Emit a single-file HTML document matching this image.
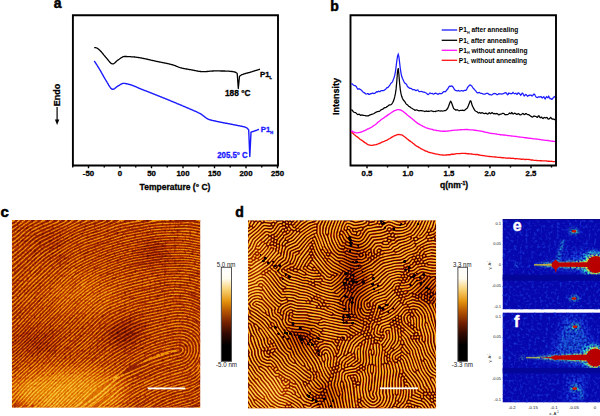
<!DOCTYPE html>
<html><head><meta charset="utf-8">
<style>
html,body{margin:0;padding:0;background:#fff;width:600px;height:416px;overflow:hidden}
body>svg{display:block;position:absolute;left:0;top:0}
text{font-family:"Liberation Sans",sans-serif}
.b{font-weight:bold}
.k{stroke:currentColor;stroke-width:0.3px}
</style></head><body>
<svg width="600" height="416" viewBox="0 0 600 416">
<defs>
<filter id="softC" x="-2%" y="-2%" width="104%" height="104%"><feGaussianBlur stdDeviation="0.6"/></filter>
<filter id="softD" x="-2%" y="-2%" width="104%" height="104%"><feGaussianBlur stdDeviation="0.7"/></filter>
<filter id="bigblur" x="-50%" y="-50%" width="200%" height="200%"><feGaussianBlur stdDeviation="9"/></filter>
<filter id="speck" x="0" y="0" width="100%" height="100%" color-interpolation-filters="sRGB">
  <feTurbulence type="fractalNoise" baseFrequency="0.35" numOctaves="2" seed="3"/>
  <feColorMatrix type="matrix" values="0 0 0 0 0.08  0 0 0 0 0.2  0 0 0 0 0.84  3 0 0 0 -1.55"/>
</filter>
<filter id="cmap" x="0" y="0" width="100%" height="100%" color-interpolation-filters="sRGB">
<feComponentTransfer>
<feFuncR type="table" tableValues="0.000 0.000 0.000 0.000 0.000 0.000 0.027 0.076 0.125 0.175 0.247 0.329 0.410 0.492 0.563 0.633 0.702 0.770 0.813 0.855 0.897 0.925 0.939 0.954 0.968 0.977 0.985 0.992 0.999 1.000 1.000 1.000 1.000"/>
<feFuncG type="table" tableValues="0.000 0.000 0.000 0.000 0.000 0.000 0.000 0.000 0.000 0.000 0.018 0.042 0.067 0.091 0.130 0.171 0.212 0.254 0.339 0.424 0.508 0.581 0.642 0.703 0.765 0.818 0.867 0.916 0.965 0.979 0.986 0.993 1.000"/>
<feFuncB type="table" tableValues="0.000 0.000 0.000 0.000 0.000 0.000 0.000 0.000 0.000 0.000 0.000 0.000 0.000 0.000 0.000 0.000 0.000 0.000 0.000 0.000 0.000 0.034 0.099 0.165 0.230 0.362 0.525 0.689 0.852 0.905 0.937 0.968 1.000"/>
</feComponentTransfer>
</filter>
<filter id="mottle" x="0" y="0" width="100%" height="100%" color-interpolation-filters="sRGB">
  <feTurbulence type="fractalNoise" baseFrequency="0.4" numOctaves="2" seed="51"/>
  <feColorMatrix type="matrix" values="0 0 0 0 0.2  0 0 0 0 0.2  0 0 0 0 0.2  3 0 0 0 -1.4"/>
  <feGaussianBlur stdDeviation="0.5"/>
</filter>
<filter id="haloA" x="-30%" y="-30%" width="160%" height="160%" color-interpolation-filters="sRGB">
  <feGaussianBlur in="SourceGraphic" stdDeviation="3" result="b"/>
  <feTurbulence type="fractalNoise" baseFrequency="0.45" numOctaves="1" seed="17" result="n"/>
  <feColorMatrix in="n" type="matrix" values="0 0 0 0 1  0 0 0 0 1  0 0 0 0 1  4 0 0 0 -1.6" result="na"/>
  <feComposite in="b" in2="na" operator="in"/>
</filter>
<filter id="haloB" x="-30%" y="-30%" width="160%" height="160%" color-interpolation-filters="sRGB">
  <feGaussianBlur in="SourceGraphic" stdDeviation="1.5" result="b"/>
  <feTurbulence type="fractalNoise" baseFrequency="0.5" numOctaves="1" seed="29" result="n"/>
  <feColorMatrix in="n" type="matrix" values="0 0 0 0 1  0 0 0 0 1  0 0 0 0 1  4 0 0 0 -1.5" result="na"/>
  <feComposite in="b" in2="na" operator="in"/>
</filter>
<filter id="haloC" x="-30%" y="-30%" width="160%" height="160%" color-interpolation-filters="sRGB">
  <feGaussianBlur in="SourceGraphic" stdDeviation="0.8" result="b"/>
  <feTurbulence type="fractalNoise" baseFrequency="0.6" numOctaves="1" seed="41" result="n"/>
  <feColorMatrix in="n" type="matrix" values="0 0 0 0 1  0 0 0 0 1  0 0 0 0 1  4 0 0 0 -1.2" result="na"/>
  <feComposite in="b" in2="na" operator="in"/>
</filter>
<filter id="blur05" x="-20%" y="-200%" width="140%" height="500%"><feGaussianBlur stdDeviation="0.6"/></filter>
<filter id="blur1" x="-20%" y="-50%" width="140%" height="200%"><feGaussianBlur stdDeviation="1"/></filter>
<filter id="blur2" x="-50%" y="-50%" width="200%" height="200%"><feGaussianBlur stdDeviation="2.5"/></filter>
<linearGradient id="cbar" x1="0" y1="0" x2="0" y2="1">
  <stop offset="0" stop-color="#ffffff"/>
  <stop offset="0.12" stop-color="#fffcf0"/>
  <stop offset="0.24" stop-color="#f8d070"/>
  <stop offset="0.36" stop-color="#e49410"/>
  <stop offset="0.47" stop-color="#b45400"/>
  <stop offset="0.59" stop-color="#742000"/>
  <stop offset="0.71" stop-color="#300800"/>
  <stop offset="0.83" stop-color="#000000"/>
  <stop offset="1" stop-color="#000000"/>
</linearGradient>
</defs>

<!-- panel labels -->
<g class="b" font-size="14" fill="#000" stroke="#000" stroke-width="0.5">
<text x="53.7" y="8.4">a</text>
<text x="330.2" y="10.7">b</text>
<text x="0.6" y="217.2" font-size="15">c</text>
<text x="235.2" y="217.3">d</text>
</g>

<!-- chart a -->
<g fill="none" stroke="#000">
<path d="M72.9 15.2H278V165.5H72.9Z" stroke-width="1.9"/>
<path d="M88.50 165.5V168.2M120.00 165.5V168.2M151.50 165.5V168.2M183.00 165.5V168.2M214.50 165.5V168.2M246.00 165.5V168.2M277.50 165.5V168.2M72.75 165.5V167.6M104.25 165.5V167.6M135.75 165.5V167.6M167.25 165.5V167.6M198.75 165.5V167.6M230.25 165.5V167.6M261.75 165.5V167.6" stroke-width="1.4"/>
<path d="M94.2 47.6 L94.7 47.6 L95.2 47.7 L95.7 47.7 L96.2 47.8 L96.7 48.0 L97.2 48.2 L97.7 48.5 L98.2 48.9 L98.7 49.3 L99.2 49.8 L99.7 50.2 L100.2 50.7 L100.7 51.2 L101.2 51.7 L101.7 52.3 L102.2 52.9 L102.7 53.5 L103.2 54.1 L103.7 54.8 L104.2 55.4 L104.7 56.0 L105.2 56.6 L105.7 57.2 L106.2 57.7 L106.7 58.3 L107.2 58.9 L107.7 59.5 L108.2 60.2 L108.7 60.8 L109.2 61.4 L109.7 62.0 L110.2 62.5 L110.7 63.0 L111.2 63.4 L111.7 63.6 L112.2 63.8 L112.7 63.9 L113.2 63.8 L113.7 63.6 L114.2 63.3 L114.7 62.9 L115.2 62.5 L115.7 62.0 L116.2 61.5 L116.7 61.1 L117.2 60.6 L117.7 60.2 L118.2 59.9 L118.7 59.5 L119.2 59.2 L119.7 58.8 L120.2 58.5 L120.7 58.1 L121.2 57.8 L121.7 57.5 L122.2 57.2 L122.7 56.9 L123.2 56.7 L123.7 56.6 L124.2 56.5 L124.7 56.5 L125.2 56.5 L125.7 56.5 L126.2 56.5 L126.7 56.5 L127.2 56.6 L127.7 56.6 L128.2 56.6 L128.7 56.6 L129.2 56.6 L129.7 56.7 L130.2 56.7 L130.7 56.7 L131.2 56.8 L131.7 56.8 L132.2 56.8 L132.7 56.8 L133.2 56.9 L133.7 56.9 L134.2 57.0 L134.7 57.0 L135.2 57.1 L135.7 57.1 L136.2 57.2 L136.7 57.3 L137.2 57.3 L137.7 57.4 L138.2 57.5 L138.7 57.6 L139.2 57.6 L139.7 57.7 L140.2 57.8 L140.7 57.9 L141.2 58.0 L141.7 58.1 L142.2 58.2 L142.7 58.3 L143.2 58.4 L143.7 58.5 L144.2 58.6 L144.7 58.7 L145.2 58.8 L145.7 58.9 L146.2 59.0 L146.7 59.1 L147.2 59.2 L147.7 59.4 L148.2 59.5 L148.7 59.6 L149.2 59.7 L149.7 59.8 L150.2 59.9 L150.7 60.0 L151.2 60.2 L151.7 60.3 L152.2 60.4 L152.7 60.5 L153.2 60.6 L153.7 60.7 L154.2 60.8 L154.7 60.9 L155.2 61.1 L155.7 61.2 L156.2 61.3 L156.7 61.4 L157.2 61.5 L157.7 61.6 L158.2 61.7 L158.7 61.8 L159.2 61.9 L159.7 62.0 L160.2 62.1 L160.7 62.2 L161.2 62.3 L161.7 62.4 L162.2 62.5 L162.7 62.6 L163.2 62.7 L163.7 62.8 L164.2 62.9 L164.7 63.0 L165.2 63.1 L165.7 63.2 L166.2 63.3 L166.7 63.4 L167.2 63.5 L167.7 63.6 L168.2 63.7 L168.7 63.8 L169.2 64.0 L169.7 64.1 L170.2 64.2 L170.7 64.3 L171.2 64.5 L171.7 64.6 L172.2 64.7 L172.7 64.9 L173.2 65.0 L173.7 65.2 L174.2 65.3 L174.7 65.5 L175.2 65.6 L175.7 65.9 L176.2 66.1 L176.7 66.3 L177.2 66.5 L177.7 66.7 L178.2 67.0 L178.7 67.2 L179.2 67.3 L179.7 67.5 L180.2 67.7 L180.7 67.8 L181.2 67.9 L181.7 68.0 L182.2 68.2 L182.7 68.3 L183.2 68.4 L183.7 68.5 L184.2 68.6 L184.7 68.7 L185.2 68.8 L185.7 68.9 L186.2 69.0 L186.7 69.0 L187.2 69.1 L187.7 69.2 L188.2 69.3 L188.7 69.4 L189.2 69.5 L189.7 69.6 L190.2 69.6 L190.7 69.7 L191.2 69.8 L191.7 69.9 L192.2 70.0 L192.7 70.1 L193.2 70.2 L193.7 70.3 L194.2 70.4 L194.7 70.5 L195.2 70.6 L195.7 70.7 L196.2 70.8 L196.7 70.9 L197.2 71.0 L197.7 71.1 L198.2 71.2 L198.7 71.3 L199.2 71.3 L199.7 71.4 L200.2 71.5 L200.7 71.5 L201.2 71.6 L201.7 71.6 L202.2 71.7 L202.7 71.7 L203.2 71.7 L203.7 71.7 L204.2 71.7 L204.7 71.7 L205.2 71.6 L205.7 71.6 L206.2 71.6 L206.7 71.5 L207.2 71.5 L207.7 71.4 L208.2 71.4 L208.7 71.3 L209.2 71.3 L209.7 71.2 L210.2 71.2 L210.7 71.1 L211.2 71.1 L211.7 71.1 L212.2 71.0 L212.7 71.0 L213.2 71.0 L213.7 70.9 L214.2 70.9 L214.7 70.9 L215.2 70.9 L215.7 70.9 L216.2 70.9 L216.7 70.9 L217.2 70.9 L217.7 70.9 L218.2 70.9 L218.7 70.9 L219.2 70.9 L219.7 70.9 L220.2 70.9 L220.7 71.0 L221.2 71.0 L221.7 71.0 L222.2 71.0 L222.7 71.0 L223.2 71.0 L223.7 71.0 L224.2 71.0 L224.7 71.0 L225.2 71.1 L225.7 71.1 L226.2 71.1 L226.7 71.1 L227.2 71.1 L227.7 71.1 L228.2 71.2 L228.7 71.2 L229.2 71.2 L229.7 71.3 L230.2 71.3 L230.7 71.4 L231.2 71.4 L231.7 71.5 L232.2 71.5 L232.7 71.6 L233.2 71.7 L233.7 71.8 L234.2 71.9 L234.7 72.0 L235.2 72.1 L235.7 72.4 L236.2 72.7 L236.7 73.0 L237.2 73.4 L238.3 88.5 L239.5 76.3 L240.0 75.9 L240.5 75.5 L241.0 75.2 L241.5 74.9 L242.0 74.7 L242.5 74.5 L243.0 74.3 L243.5 74.1 L244.0 73.9 L244.5 73.8 L245.0 73.6 L245.5 73.5 L246.0 73.4 L246.5 73.2 L247.0 73.1 L247.5 73.0 L248.0 72.9 L248.5 72.7 L249.0 72.6 L249.5 72.5 L250.0 72.3 L250.5 72.1 L251.0 72.0 L251.5 71.8 L252.0 71.7 L252.5 71.5 L253.0 71.4 L253.5 71.2 L254.0 71.1 L254.5 70.9 L255.0 70.7 L255.5 70.6 L256.0 70.4 L256.5 70.3 L257.0 70.1 L257.5 70.0 L258.0 69.8 L258.5 69.7 L259.0 69.5 L259.5 69.4 L260.0 69.2" stroke-width="1.3" stroke-linejoin="round"/>
<path d="M94.2 61.0 L94.7 61.7 L95.2 62.5 L95.7 63.2 L96.2 64.0 L96.7 64.7 L97.2 65.5 L97.7 66.3 L98.2 67.1 L98.7 67.9 L99.2 68.7 L99.7 69.5 L100.2 70.3 L100.7 71.2 L101.2 72.1 L101.7 73.0 L102.2 73.9 L102.7 74.8 L103.2 75.7 L103.7 76.6 L104.2 77.5 L104.7 78.4 L105.2 79.2 L105.7 80.0 L106.2 80.8 L106.7 81.6 L107.2 82.5 L107.7 83.3 L108.2 84.2 L108.7 85.1 L109.2 85.9 L109.7 86.7 L110.2 87.4 L110.7 88.0 L111.2 88.6 L111.7 89.0 L112.2 89.2 L112.7 89.3 L113.2 89.2 L113.7 89.1 L114.2 88.8 L114.7 88.5 L115.2 88.1 L115.7 87.7 L116.2 87.3 L116.7 86.9 L117.2 86.5 L117.7 86.2 L118.2 85.9 L118.7 85.6 L119.2 85.3 L119.7 85.0 L120.2 84.7 L120.7 84.4 L121.2 84.1 L121.7 83.9 L122.2 83.7 L122.7 83.5 L123.2 83.4 L123.7 83.4 L124.2 83.4 L124.7 83.4 L125.2 83.5 L125.7 83.6 L126.2 83.7 L126.7 83.8 L127.2 83.9 L127.7 84.0 L128.2 84.1 L128.7 84.3 L129.2 84.4 L129.7 84.5 L130.2 84.7 L130.7 84.8 L131.2 84.9 L131.7 85.1 L132.2 85.3 L132.7 85.5 L133.2 85.7 L133.7 85.9 L134.2 86.1 L134.7 86.3 L135.2 86.5 L135.7 86.7 L136.2 86.9 L136.7 87.2 L137.2 87.4 L137.7 87.6 L138.2 87.8 L138.7 88.0 L139.2 88.3 L139.7 88.5 L140.2 88.7 L140.7 88.9 L141.2 89.1 L141.7 89.3 L142.2 89.5 L142.7 89.7 L143.2 89.9 L143.7 90.1 L144.2 90.3 L144.7 90.5 L145.2 90.7 L145.7 90.9 L146.2 91.0 L146.7 91.2 L147.2 91.4 L147.7 91.6 L148.2 91.8 L148.7 92.0 L149.2 92.2 L149.7 92.4 L150.2 92.6 L150.7 92.8 L151.2 93.0 L151.7 93.2 L152.2 93.4 L152.7 93.6 L153.2 93.8 L153.7 94.0 L154.2 94.2 L154.7 94.4 L155.2 94.6 L155.7 94.8 L156.2 95.0 L156.7 95.2 L157.2 95.4 L157.7 95.6 L158.2 95.8 L158.7 96.0 L159.2 96.2 L159.7 96.4 L160.2 96.6 L160.7 96.8 L161.2 97.0 L161.7 97.2 L162.2 97.4 L162.7 97.6 L163.2 97.8 L163.7 98.0 L164.2 98.2 L164.7 98.4 L165.2 98.6 L165.7 98.8 L166.2 99.0 L166.7 99.2 L167.2 99.4 L167.7 99.6 L168.2 99.8 L168.7 100.0 L169.2 100.2 L169.7 100.4 L170.2 100.7 L170.7 100.9 L171.2 101.1 L171.7 101.3 L172.2 101.5 L172.7 101.7 L173.2 101.9 L173.7 102.1 L174.2 102.3 L174.7 102.5 L175.2 102.7 L175.7 102.9 L176.2 103.1 L176.7 103.3 L177.2 103.6 L177.7 103.8 L178.2 104.0 L178.7 104.2 L179.2 104.4 L179.7 104.6 L180.2 104.8 L180.7 105.0 L181.2 105.2 L181.7 105.4 L182.2 105.7 L182.7 105.9 L183.2 106.1 L183.7 106.3 L184.2 106.5 L184.7 106.7 L185.2 106.9 L185.7 107.1 L186.2 107.4 L186.7 107.6 L187.2 107.8 L187.7 108.0 L188.2 108.2 L188.7 108.4 L189.2 108.7 L189.7 108.9 L190.2 109.1 L190.7 109.3 L191.2 109.5 L191.7 109.7 L192.2 109.9 L192.7 110.1 L193.2 110.3 L193.7 110.6 L194.2 110.8 L194.7 111.0 L195.2 111.2 L195.7 111.4 L196.2 111.6 L196.7 111.9 L197.2 112.1 L197.7 112.3 L198.2 112.6 L198.7 112.8 L199.2 113.1 L199.7 113.3 L200.2 113.6 L200.7 113.9 L201.2 114.2 L201.7 114.6 L202.2 114.9 L202.7 115.3 L203.2 115.7 L203.7 116.1 L204.2 116.5 L204.7 116.9 L205.2 117.2 L205.7 117.6 L206.2 118.0 L206.7 118.3 L207.2 118.6 L207.7 118.9 L208.2 119.2 L208.7 119.4 L209.2 119.6 L209.7 119.7 L210.2 119.9 L210.7 120.0 L211.2 120.2 L211.7 120.3 L212.2 120.4 L212.7 120.5 L213.2 120.6 L213.7 120.7 L214.2 120.8 L214.7 120.9 L215.2 121.0 L215.7 121.2 L216.2 121.3 L216.7 121.4 L217.2 121.5 L217.7 121.6 L218.2 121.7 L218.7 121.8 L219.2 121.9 L219.7 122.0 L220.2 122.1 L220.7 122.2 L221.2 122.3 L221.7 122.4 L222.2 122.5 L222.7 122.6 L223.2 122.7 L223.7 122.8 L224.2 122.9 L224.7 123.0 L225.2 123.1 L225.7 123.2 L226.2 123.3 L226.7 123.3 L227.2 123.4 L227.7 123.5 L228.2 123.6 L228.7 123.7 L229.2 123.8 L229.7 123.9 L230.2 124.0 L230.7 124.1 L231.2 124.2 L231.7 124.3 L232.2 124.4 L232.7 124.5 L233.2 124.6 L233.7 124.7 L234.2 124.8 L234.7 124.9 L235.2 125.0 L235.7 125.1 L236.2 125.2 L236.7 125.3 L237.2 125.4 L237.7 125.5 L238.2 125.6 L238.7 125.7 L239.2 125.8 L239.7 125.9 L240.2 126.0 L240.7 126.1 L241.2 126.2 L241.7 126.3 L242.2 126.4 L242.7 126.5 L243.2 126.6 L243.7 126.7 L244.2 126.9 L244.7 127.0 L245.2 127.2 L245.7 127.4 L246.2 127.6 L246.7 127.8 L247.2 128.2 L247.7 128.8 L248.2 129.4 L248.7 130.0 L249.8 156.5 L251.0 132.2 L251.5 132.0 L252.0 131.9 L252.5 131.7 L253.0 131.5 L253.5 131.4 L254.0 131.2 L254.5 131.0 L255.0 130.8 L255.5 130.7 L256.0 130.5 L256.5 130.3 L257.0 130.1 L257.5 129.9 L258.0 129.7 L258.5 129.5 L259.0 129.3" stroke="#1a1aff" stroke-width="1.4" stroke-linejoin="round"/>
<path d="M57.1 107V121" stroke-width="1.2"/>
</g>
<path d="M54.9 119.5L57.1 125L59.3 119.5Z" fill="#000"/>
<g class="b k" font-size="7.8" text-anchor="middle" fill="#000" color="#000"><text x="88.50" y="176">-50</text><text x="120.00" y="176">0</text><text x="151.50" y="176">50</text><text x="183.00" y="176">100</text><text x="214.50" y="176">150</text><text x="246.00" y="176">200</text><text x="277.50" y="176">250</text></g>
<text class="b k" color="#000" x="175" y="190.4" font-size="8.5" text-anchor="middle">Temperature (° C)</text>
<text class="b k" color="#000" font-size="9" text-anchor="middle" transform="translate(59.9 95.1) rotate(-90)">Endo</text>
<text class="b k" color="#000" x="260" y="76.5" font-size="7.8">P1<tspan font-size="4" dy="2.6">L</tspan></text>
<text class="b k" color="#000" x="225" y="96" font-size="8.3">188 °C</text>
<g fill="#1a1aff" color="#1a1aff">
<text class="b k" x="260.7" y="131.5" font-size="7.8">P1<tspan font-size="4" dy="2.6">H</tspan></text>
<text class="b k" x="217.2" y="157.7" font-size="8.3" textLength="30.6" lengthAdjust="spacingAndGlyphs">205.5° C</text>
</g>

<!-- chart b -->
<g fill="none" stroke="#000">
<path d="M350.5 15.2H556V165.5H350.5Z" stroke-width="1.9"/>
<path d="M367.00 165.5V168.2M408.00 165.5V168.2M449.00 165.5V168.2M490.00 165.5V168.2M531.00 165.5V168.2M387.50 165.5V167.6M428.50 165.5V167.6M469.50 165.5V167.6M510.50 165.5V167.6M551.50 165.5V167.6" stroke-width="1.4"/>
<path d="M351.3 131.8 L352.0 132.4 L352.7 133.1 L353.4 133.8 L354.1 134.5 L354.8 135.0 L355.5 135.6 L356.2 136.2 L356.9 136.7 L357.6 137.1 L358.3 137.7 L359.0 138.3 L359.7 138.9 L360.4 139.5 L361.1 139.9 L361.8 140.3 L362.5 140.8 L363.2 141.4 L363.9 141.9 L364.6 142.4 L365.3 142.9 L366.0 143.2 L366.7 143.7 L367.4 144.3 L368.1 144.6 L368.8 144.8 L369.5 145.1 L370.2 145.2 L370.9 145.3 L371.6 145.4 L372.3 145.3 L373.0 145.2 L373.7 145.0 L374.4 144.9 L375.1 144.8 L375.8 144.7 L376.5 144.5 L377.2 144.3 L377.9 144.0 L378.6 143.7 L379.3 143.5 L380.0 143.2 L380.7 142.8 L381.4 142.4 L382.1 142.1 L382.8 141.8 L383.5 141.6 L384.2 141.4 L384.9 141.0 L385.6 140.6 L386.3 140.4 L387.0 140.1 L387.7 139.7 L388.4 139.2 L389.1 138.8 L389.8 138.5 L390.5 138.1 L391.2 137.6 L391.9 137.2 L392.6 136.8 L393.3 136.4 L394.0 136.0 L394.7 135.7 L395.4 135.5 L396.1 135.2 L396.8 134.8 L397.5 134.6 L398.2 134.5 L398.9 134.5 L399.6 134.6 L400.3 134.6 L401.0 134.8 L401.7 134.9 L402.4 135.2 L403.1 135.7 L403.8 136.2 L404.5 136.7 L405.2 137.2 L405.9 137.8 L406.6 138.5 L407.3 139.0 L408.0 139.5 L408.7 140.1 L409.4 140.6 L410.1 141.1 L410.8 141.6 L411.5 142.0 L412.2 142.5 L412.9 143.2 L413.6 143.7 L414.3 144.3 L415.0 144.9 L415.7 145.5 L416.4 145.9 L417.1 146.4 L417.8 146.7 L418.5 147.1 L419.2 147.6 L419.9 148.0 L420.6 148.4 L421.3 148.8 L422.0 149.1 L422.7 149.5 L423.4 149.9 L424.1 150.2 L424.8 150.7 L425.5 151.0 L426.2 151.2 L426.9 151.4 L427.6 151.7 L428.3 152.1 L429.0 152.4 L429.7 152.5 L430.4 152.6 L431.1 152.8 L431.8 152.9 L432.5 153.1 L433.2 153.3 L433.9 153.5 L434.6 153.7 L435.3 153.8 L436.0 154.0 L436.7 154.1 L437.4 154.2 L438.1 154.3 L438.8 154.6 L439.5 154.7 L440.2 154.8 L440.9 154.9 L441.6 154.9 L442.3 155.0 L443.0 155.0 L443.7 155.1 L444.4 155.1 L445.1 155.1 L445.8 155.0 L446.5 155.0 L447.2 154.8 L447.9 154.7 L448.6 154.7 L449.3 154.7 L450.0 154.7 L450.7 154.5 L451.4 154.2 L452.1 154.2 L452.8 154.2 L453.5 154.2 L454.2 154.1 L454.9 154.0 L455.6 153.9 L456.3 153.7 L457.0 153.6 L457.7 153.6 L458.4 153.6 L459.1 153.6 L459.8 153.6 L460.5 153.5 L461.2 153.3 L461.9 153.3 L462.6 153.3 L463.3 153.3 L464.0 153.3 L464.7 153.4 L465.4 153.5 L466.1 153.5 L466.8 153.6 L467.5 153.7 L468.2 153.7 L468.9 153.6 L469.6 153.8 L470.3 153.9 L471.0 154.0 L471.7 154.0 L472.4 154.1 L473.1 154.3 L473.8 154.4 L474.5 154.4 L475.2 154.5 L475.9 154.6 L476.6 154.5 L477.3 154.4 L478.0 154.6 L478.7 155.0 L479.4 155.0 L480.1 155.1 L480.8 155.3 L481.5 155.4 L482.2 155.5 L482.9 155.6 L483.6 155.6 L484.3 155.7 L485.0 155.9 L485.7 156.1 L486.4 156.1 L487.1 156.2 L487.8 156.3 L488.5 156.4 L489.2 156.5 L489.9 156.5 L490.6 156.6 L491.3 156.6 L492.0 156.7 L492.7 156.8 L493.4 156.9 L494.1 156.9 L494.8 157.0 L495.5 157.0 L496.2 157.1 L496.9 157.2 L497.6 157.3 L498.3 157.4 L499.0 157.4 L499.7 157.4 L500.4 157.5 L501.1 157.5 L501.8 157.6 L502.5 157.7 L503.2 157.7 L503.9 157.8 L504.6 157.8 L505.3 157.8 L506.0 158.0 L506.7 158.1 L507.4 158.2 L508.1 158.1 L508.8 158.0 L509.5 158.1 L510.2 158.2 L510.9 158.1 L511.6 158.3 L512.3 158.4 L513.0 158.3 L513.7 158.4 L514.4 158.6 L515.1 158.7 L515.8 158.7 L516.5 158.6 L517.2 158.6 L517.9 158.8 L518.6 158.8 L519.3 158.9 L520.0 159.0 L520.7 159.1 L521.4 159.2 L522.1 159.2 L522.8 159.1 L523.5 159.2 L524.2 159.4 L524.9 159.5 L525.6 159.5 L526.3 159.4 L527.0 159.4 L527.7 159.4 L528.4 159.4 L529.1 159.5 L529.8 159.7 L530.5 159.9 L531.2 160.0 L531.9 159.9 L532.6 160.0 L533.3 160.2 L534.0 160.3 L534.7 160.3 L535.4 160.4 L536.1 160.4 L536.8 160.5 L537.5 160.6 L538.2 160.6 L538.9 160.6 L539.6 160.6 L540.3 160.7 L541.0 160.7 L541.7 160.7 L542.4 160.8 L543.1 160.9 L543.8 160.9 L544.5 160.9 L545.2 160.9 L545.9 160.9 L546.6 161.0 L547.3 161.1 L548.0 161.2 L548.7 161.2 L549.4 161.2 L550.1 161.4 L550.8 161.4 L551.5 161.3 L552.2 161.4 L552.9 161.6 L553.6 161.6 L554.3 161.6 L555.0 161.7" stroke="#ff1010" stroke-width="1.35"/>
<path d="M351.3 130.7 L352.0 131.1 L352.7 131.6 L353.4 131.9 L354.1 132.2 L354.8 132.5 L355.5 132.7 L356.2 132.8 L356.9 132.9 L357.6 132.8 L358.3 132.7 L359.0 132.6 L359.7 132.4 L360.4 132.3 L361.1 132.0 L361.8 131.8 L362.5 131.5 L363.2 131.2 L363.9 130.9 L364.6 130.6 L365.3 130.3 L366.0 129.9 L366.7 129.6 L367.4 129.2 L368.1 128.9 L368.8 128.6 L369.5 128.2 L370.2 127.9 L370.9 127.5 L371.6 127.2 L372.3 126.7 L373.0 126.1 L373.7 125.7 L374.4 125.3 L375.1 124.8 L375.8 124.2 L376.5 123.7 L377.2 123.0 L377.9 122.3 L378.6 121.8 L379.3 121.3 L380.0 120.7 L380.7 120.0 L381.4 119.5 L382.1 119.0 L382.8 118.5 L383.5 118.1 L384.2 117.6 L384.9 117.0 L385.6 116.6 L386.3 116.1 L387.0 115.6 L387.7 115.1 L388.4 114.6 L389.1 114.2 L389.8 113.7 L390.5 113.2 L391.2 112.7 L391.9 112.2 L392.6 111.7 L393.3 111.3 L394.0 110.9 L394.7 110.6 L395.4 110.3 L396.1 110.1 L396.8 109.8 L397.5 109.6 L398.2 109.6 L398.9 109.6 L399.6 109.8 L400.3 110.0 L401.0 110.2 L401.7 110.6 L402.4 111.0 L403.1 111.4 L403.8 112.0 L404.5 112.5 L405.2 113.1 L405.9 113.6 L406.6 114.2 L407.3 114.9 L408.0 115.5 L408.7 116.0 L409.4 116.6 L410.1 117.1 L410.8 117.7 L411.5 118.2 L412.2 118.8 L412.9 119.4 L413.6 120.0 L414.3 120.6 L415.0 121.2 L415.7 121.8 L416.4 122.4 L417.1 122.9 L417.8 123.4 L418.5 123.8 L419.2 124.2 L419.9 124.6 L420.6 125.0 L421.3 125.4 L422.0 125.7 L422.7 126.1 L423.4 126.5 L424.1 126.8 L424.8 127.1 L425.5 127.5 L426.2 127.8 L426.9 128.1 L427.6 128.2 L428.3 128.5 L429.0 128.7 L429.7 128.9 L430.4 129.1 L431.1 129.2 L431.8 129.4 L432.5 129.5 L433.2 129.8 L433.9 130.0 L434.6 130.1 L435.3 130.2 L436.0 130.4 L436.7 130.5 L437.4 130.6 L438.1 130.7 L438.8 130.9 L439.5 130.9 L440.2 131.0 L440.9 131.1 L441.6 131.1 L442.3 131.2 L443.0 131.2 L443.7 131.1 L444.4 131.2 L445.1 131.2 L445.8 131.2 L446.5 131.1 L447.2 131.1 L447.9 131.0 L448.6 130.9 L449.3 130.8 L450.0 130.8 L450.7 130.6 L451.4 130.5 L452.1 130.4 L452.8 130.4 L453.5 130.3 L454.2 130.2 L454.9 130.1 L455.6 130.1 L456.3 130.1 L457.0 130.1 L457.7 130.0 L458.4 129.9 L459.1 129.9 L459.8 129.8 L460.5 129.7 L461.2 129.7 L461.9 129.6 L462.6 129.6 L463.3 129.6 L464.0 129.6 L464.7 129.5 L465.4 129.6 L466.1 129.5 L466.8 129.5 L467.5 129.5 L468.2 129.6 L468.9 129.7 L469.6 129.8 L470.3 129.8 L471.0 129.8 L471.7 129.9 L472.4 129.9 L473.1 129.9 L473.8 130.1 L474.5 130.2 L475.2 130.2 L475.9 130.4 L476.6 130.5 L477.3 130.6 L478.0 130.7 L478.7 130.8 L479.4 130.9 L480.1 131.0 L480.8 131.1 L481.5 131.2 L482.2 131.4 L482.9 131.5 L483.6 131.7 L484.3 132.0 L485.0 132.1 L485.7 132.3 L486.4 132.4 L487.1 132.5 L487.8 132.6 L488.5 132.8 L489.2 133.0 L489.9 133.1 L490.6 133.3 L491.3 133.4 L492.0 133.5 L492.7 133.6 L493.4 133.6 L494.1 133.7 L494.8 133.8 L495.5 133.9 L496.2 134.0 L496.9 134.2 L497.6 134.3 L498.3 134.3 L499.0 134.4 L499.7 134.6 L500.4 134.7 L501.1 134.7 L501.8 134.8 L502.5 134.9 L503.2 135.0 L503.9 135.0 L504.6 135.0 L505.3 135.1 L506.0 135.3 L506.7 135.4 L507.4 135.5 L508.1 135.6 L508.8 135.6 L509.5 135.7 L510.2 135.8 L510.9 135.9 L511.6 136.0 L512.3 136.1 L513.0 136.1 L513.7 136.2 L514.4 136.3 L515.1 136.4 L515.8 136.4 L516.5 136.5 L517.2 136.7 L517.9 136.8 L518.6 136.9 L519.3 137.0 L520.0 137.1 L520.7 137.1 L521.4 137.2 L522.1 137.3 L522.8 137.3 L523.5 137.4 L524.2 137.6 L524.9 137.7 L525.6 137.7 L526.3 137.7 L527.0 137.8 L527.7 138.0 L528.4 138.1 L529.1 138.2 L529.8 138.2 L530.5 138.3 L531.2 138.4 L531.9 138.5 L532.6 138.6 L533.3 138.8 L534.0 138.8 L534.7 138.9 L535.4 138.9 L536.1 139.0 L536.8 139.1 L537.5 139.2 L538.2 139.3 L538.9 139.4 L539.6 139.5 L540.3 139.6 L541.0 139.7 L541.7 139.8 L542.4 139.8 L543.1 140.0 L543.8 140.1 L544.5 140.2 L545.2 140.3 L545.9 140.3 L546.6 140.4 L547.3 140.5 L548.0 140.5 L548.7 140.6 L549.4 140.8 L550.1 140.9 L550.8 141.0 L551.5 141.1 L552.2 141.2 L552.9 141.2 L553.6 141.3 L554.3 141.4 L555.0 141.5" stroke="#ff10ff" stroke-width="1.35"/>
<path d="M351.3 109.6 L352.0 110.0 L352.7 110.8 L353.4 111.7 L354.1 112.3 L354.8 112.5 L355.5 112.6 L356.2 113.1 L356.9 113.9 L357.6 114.5 L358.3 114.4 L359.0 114.1 L359.7 114.6 L360.4 115.3 L361.1 115.2 L361.8 115.0 L362.5 115.1 L363.2 115.3 L363.9 115.4 L364.6 115.5 L365.3 115.7 L366.0 115.9 L366.7 115.9 L367.4 115.8 L368.1 115.9 L368.8 115.7 L369.5 115.1 L370.2 114.9 L370.9 114.7 L371.6 114.4 L372.3 114.1 L373.0 114.0 L373.7 113.8 L374.4 113.3 L375.1 112.8 L375.8 112.4 L376.5 112.0 L377.2 111.7 L377.9 111.6 L378.6 111.4 L379.3 111.4 L380.0 110.9 L380.7 110.1 L381.4 109.7 L382.1 109.4 L382.8 109.1 L383.5 108.6 L384.2 107.9 L384.9 107.6 L385.6 107.6 L386.3 107.2 L387.0 106.6 L387.7 106.2 L388.4 105.6 L389.1 105.1 L389.8 104.9 L390.5 104.8 L391.2 104.5 L391.9 103.9 L392.6 102.8 L393.3 101.4 L394.0 99.6 L394.7 96.9 L395.4 93.7 L396.1 88.9 L396.8 81.2 L397.5 71.8 L398.2 68.0 L398.9 74.5 L399.6 83.2 L400.3 89.6 L401.0 93.7 L401.7 96.3 L402.4 98.2 L403.1 99.7 L403.8 100.5 L404.5 101.2 L405.2 102.3 L405.9 103.6 L406.6 104.2 L407.3 104.7 L408.0 105.4 L408.7 106.3 L409.4 106.6 L410.1 107.1 L410.8 107.7 L411.5 108.0 L412.2 108.4 L412.9 109.0 L413.6 109.3 L414.3 109.8 L415.0 110.3 L415.7 110.1 L416.4 109.9 L417.1 110.0 L417.8 110.4 L418.5 110.7 L419.2 110.8 L419.9 110.7 L420.6 110.6 L421.3 110.6 L422.0 110.8 L422.7 110.9 L423.4 111.0 L424.1 111.3 L424.8 111.6 L425.5 111.3 L426.2 111.0 L426.9 111.4 L427.6 111.3 L428.3 111.1 L429.0 111.3 L429.7 111.2 L430.4 111.0 L431.1 110.9 L431.8 110.9 L432.5 111.2 L433.2 111.5 L433.9 111.3 L434.6 111.5 L435.3 111.6 L436.0 111.2 L436.7 111.1 L437.4 111.0 L438.1 110.7 L438.8 110.7 L439.5 111.0 L440.2 111.1 L440.9 110.9 L441.6 110.9 L442.3 111.1 L443.0 111.0 L443.7 110.9 L444.4 110.7 L445.1 110.6 L445.8 110.5 L446.5 109.8 L447.2 109.0 L447.9 107.9 L448.6 106.2 L449.3 104.2 L450.0 102.2 L450.7 101.3 L451.4 102.4 L452.1 104.3 L452.8 106.2 L453.5 108.2 L454.2 109.1 L454.9 109.4 L455.6 110.0 L456.3 110.0 L457.0 109.7 L457.7 110.0 L458.4 110.5 L459.1 110.8 L459.8 110.5 L460.5 110.4 L461.2 110.4 L461.9 110.3 L462.6 110.2 L463.3 110.4 L464.0 110.6 L464.7 110.2 L465.4 109.5 L466.1 109.0 L466.8 108.6 L467.5 107.6 L468.2 106.1 L468.9 104.3 L469.6 102.6 L470.3 100.9 L471.0 101.2 L471.7 103.8 L472.4 106.1 L473.1 107.3 L473.8 108.6 L474.5 109.9 L475.2 110.8 L475.9 111.2 L476.6 111.5 L477.3 112.0 L478.0 112.8 L478.7 113.0 L479.4 112.5 L480.1 112.7 L480.8 113.2 L481.5 112.9 L482.2 112.7 L482.9 113.0 L483.6 113.4 L484.3 113.6 L485.0 113.4 L485.7 113.1 L486.4 113.4 L487.1 113.8 L487.8 114.0 L488.5 113.5 L489.2 112.8 L489.9 113.1 L490.6 113.7 L491.3 113.2 L492.0 112.6 L492.7 113.0 L493.4 113.6 L494.1 113.8 L494.8 113.5 L495.5 113.8 L496.2 113.9 L496.9 113.5 L497.6 113.7 L498.3 114.6 L499.0 114.8 L499.7 114.4 L500.4 114.2 L501.1 114.1 L501.8 113.8 L502.5 113.4 L503.2 113.3 L503.9 113.5 L504.6 114.2 L505.3 114.8 L506.0 114.5 L506.7 114.5 L507.4 114.5 L508.1 114.2 L508.8 113.8 L509.5 113.1 L510.2 113.5 L510.9 113.7 L511.6 112.6 L512.3 113.0 L513.0 114.0 L513.7 113.7 L514.4 113.2 L515.1 113.3 L515.8 113.7 L516.5 114.3 L517.2 114.3 L517.9 113.8 L518.6 113.6 L519.3 114.2 L520.0 114.8 L520.7 114.8 L521.4 114.5 L522.1 114.0 L522.8 113.4 L523.5 113.8 L524.2 114.6 L524.9 114.5 L525.6 113.7 L526.3 113.6 L527.0 114.3 L527.7 114.7 L528.4 114.6 L529.1 114.9 L529.8 115.4 L530.5 115.9 L531.2 116.4 L531.9 116.8 L532.6 117.0 L533.3 116.6 L534.0 116.0 L534.7 116.1 L535.4 116.4 L536.1 116.5 L536.8 117.1 L537.5 117.2 L538.2 116.0 L538.9 115.8 L539.6 117.1 L540.3 117.7 L541.0 117.2 L541.7 117.2 L542.4 118.3 L543.1 118.5 L543.8 117.7 L544.5 117.5 L545.2 117.8 L545.9 117.8 L546.6 117.5 L547.3 117.8 L548.0 118.9 L548.7 119.0 L549.4 118.7 L550.1 118.0 L550.8 117.5 L551.5 118.5 L552.2 119.1 L552.9 119.0 L553.6 119.1 L554.3 119.3 L555.0 120.0" stroke="#000" stroke-width="1.25"/>
<path d="M351.3 84.1 L352.0 83.8 L352.7 84.4 L353.4 85.1 L354.1 85.5 L354.8 85.7 L355.5 85.9 L356.2 86.5 L356.9 87.8 L357.6 89.1 L358.3 89.1 L359.0 88.8 L359.7 89.1 L360.4 89.5 L361.1 89.9 L361.8 90.7 L362.5 91.5 L363.2 92.1 L363.9 92.7 L364.6 92.9 L365.3 93.4 L366.0 94.1 L366.7 94.0 L367.4 93.7 L368.1 93.7 L368.8 94.3 L369.5 94.4 L370.2 93.9 L370.9 93.6 L371.6 93.6 L372.3 93.2 L373.0 93.1 L373.7 93.5 L374.4 93.3 L375.1 93.1 L375.8 92.4 L376.5 91.8 L377.2 92.0 L377.9 91.6 L378.6 91.2 L379.3 91.6 L380.0 91.7 L380.7 91.0 L381.4 90.5 L382.1 90.5 L382.8 90.6 L383.5 90.7 L384.2 90.2 L384.9 89.7 L385.6 89.3 L386.3 88.4 L387.0 87.7 L387.7 87.6 L388.4 87.1 L389.1 86.0 L389.8 85.1 L390.5 84.0 L391.2 82.9 L391.9 82.5 L392.6 81.5 L393.3 79.6 L394.0 77.7 L394.7 75.4 L395.4 71.8 L396.1 66.6 L396.8 61.0 L397.5 56.3 L398.2 54.3 L398.9 56.7 L399.6 62.6 L400.3 68.6 L401.0 73.1 L401.7 76.3 L402.4 78.3 L403.1 79.8 L403.8 81.3 L404.5 82.7 L405.2 83.4 L405.9 83.7 L406.6 84.5 L407.3 86.1 L408.0 87.1 L408.7 87.6 L409.4 88.2 L410.1 88.4 L410.8 88.4 L411.5 88.6 L412.2 89.2 L412.9 89.7 L413.6 89.5 L414.3 89.5 L415.0 90.0 L415.7 90.5 L416.4 90.5 L417.1 90.0 L417.8 89.9 L418.5 90.8 L419.2 91.6 L419.9 91.7 L420.6 91.5 L421.3 91.4 L422.0 91.6 L422.7 91.9 L423.4 92.1 L424.1 92.1 L424.8 92.3 L425.5 92.7 L426.2 93.0 L426.9 93.6 L427.6 94.4 L428.3 94.6 L429.0 93.9 L429.7 93.1 L430.4 93.1 L431.1 93.6 L431.8 93.5 L432.5 93.4 L433.2 94.1 L433.9 94.2 L434.6 93.4 L435.3 93.1 L436.0 93.3 L436.7 93.6 L437.4 94.1 L438.1 94.3 L438.8 93.8 L439.5 93.5 L440.2 93.6 L440.9 93.7 L441.6 93.6 L442.3 93.0 L443.0 92.2 L443.7 91.7 L444.4 91.7 L445.1 91.9 L445.8 91.3 L446.5 90.3 L447.2 89.5 L447.9 88.7 L448.6 87.4 L449.3 86.3 L450.0 86.2 L450.7 86.3 L451.4 85.9 L452.1 86.0 L452.8 86.7 L453.5 87.8 L454.2 89.2 L454.9 90.1 L455.6 90.4 L456.3 90.7 L457.0 90.9 L457.7 90.8 L458.4 90.5 L459.1 90.8 L459.8 91.0 L460.5 90.9 L461.2 90.7 L461.9 90.7 L462.6 90.9 L463.3 91.0 L464.0 90.6 L464.7 90.3 L465.4 90.3 L466.1 90.1 L466.8 89.1 L467.5 87.6 L468.2 86.7 L468.9 85.8 L469.6 85.1 L470.3 85.0 L471.0 85.4 L471.7 86.0 L472.4 87.0 L473.1 88.2 L473.8 88.8 L474.5 89.6 L475.2 90.4 L475.9 91.1 L476.6 92.1 L477.3 92.8 L478.0 92.9 L478.7 92.6 L479.4 92.5 L480.1 93.0 L480.8 93.3 L481.5 93.3 L482.2 93.5 L482.9 94.0 L483.6 94.2 L484.3 94.1 L485.0 94.1 L485.7 93.7 L486.4 93.3 L487.1 93.3 L487.8 93.4 L488.5 94.1 L489.2 94.6 L489.9 94.5 L490.6 94.8 L491.3 95.1 L492.0 94.7 L492.7 94.2 L493.4 93.7 L494.1 93.5 L494.8 93.7 L495.5 93.6 L496.2 94.0 L496.9 94.6 L497.6 94.7 L498.3 94.1 L499.0 93.7 L499.7 93.9 L500.4 93.8 L501.1 93.8 L501.8 94.0 L502.5 93.9 L503.2 93.6 L503.9 93.4 L504.6 93.0 L505.3 92.6 L506.0 92.8 L506.7 93.5 L507.4 94.7 L508.1 94.5 L508.8 93.1 L509.5 93.3 L510.2 93.5 L510.9 93.4 L511.6 93.8 L512.3 93.2 L513.0 92.4 L513.7 93.1 L514.4 93.7 L515.1 93.5 L515.8 93.3 L516.5 94.2 L517.2 94.3 L517.9 93.1 L518.6 93.0 L519.3 93.5 L520.0 94.2 L520.7 95.3 L521.4 94.5 L522.1 93.1 L522.8 93.2 L523.5 94.8 L524.2 96.0 L524.9 95.2 L525.6 94.6 L526.3 94.9 L527.0 95.6 L527.7 96.3 L528.4 95.5 L529.1 95.2 L529.8 95.5 L530.5 95.0 L531.2 95.0 L531.9 96.0 L532.6 95.8 L533.3 94.7 L534.0 94.1 L534.7 94.5 L535.4 96.0 L536.1 97.0 L536.8 97.3 L537.5 97.5 L538.2 97.0 L538.9 96.6 L539.6 97.0 L540.3 96.9 L541.0 96.6 L541.7 97.5 L542.4 98.0 L543.1 97.1 L543.8 96.6 L544.5 98.1 L545.2 98.9 L545.9 97.5 L546.6 96.7 L547.3 97.5 L548.0 97.5 L548.7 96.3 L549.4 97.6 L550.1 98.7 L550.8 98.4 L551.5 99.4 L552.2 99.2 L552.9 98.1 L553.6 97.5 L554.3 96.7 L555.0 97.3" stroke="#1a1aff" stroke-width="1.25"/>
<path d="M441.7 30H457.2" stroke="#1a1aff" stroke-width="1.3"/>
<path d="M441.7 40.3H457.2" stroke="#000" stroke-width="1.3"/>
<path d="M441.7 50.3H457.2" stroke="#ff10ff" stroke-width="1.3"/>
<path d="M441.7 60.3H457.2" stroke="#ff1010" stroke-width="1.3"/>
</g>
<g class="b k" font-size="7.8" text-anchor="middle" fill="#000" color="#000"><text x="367.00" y="176">0.5</text><text x="408.00" y="176">1.0</text><text x="449.00" y="176">1.5</text><text x="490.00" y="176">2.0</text><text x="531.00" y="176">2.5</text></g>
<text class="b k" color="#000" x="454" y="188" font-size="8.5" text-anchor="middle">q(nm<tspan font-size="5" dy="-3">-1</tspan><tspan dy="3">)</tspan></text>
<text class="b k" color="#000" font-size="9" text-anchor="middle" transform="translate(338.6 96.5) rotate(-90)">Intensity</text>
<g class="b" font-size="6.6" fill="#000">
<text x="458.8" y="32.2">P1<tspan font-size="3.8" dy="1.8">H</tspan><tspan dy="-1.8"> after annealing</tspan></text>
<text x="458.8" y="42.5">P1<tspan font-size="3.8" dy="1.8">L</tspan><tspan dy="-1.8"> after annealing</tspan></text>
<text x="458.8" y="52.5">P1<tspan font-size="3.8" dy="1.8">H</tspan><tspan dy="-1.8"> without annealing</tspan></text>
<text x="458.8" y="62.5">P1<tspan font-size="3.8" dy="1.8">L</tspan><tspan dy="-1.8"> without annealing</tspan></text>
</g>

<!-- panel c -->
<svg x="11.8" y="220" width="188.6" height="187.8" viewBox="0 0 188.6 187.8">
<g filter="url(#cmap)">
<rect width="188.6" height="187.8" fill="#737373"/>
<g filter="url(#softC)"><path transform="scale(0.25)" fill="#aaaaaa" d="M0 11l0-9 4-2 9 0-1 4-12 7zM0 26l0-7 17-9 8-10 9 0-12 13-22 13zM2 42l-2 0 0-7 12-6 20-15 13-14 9 0 0 3-4 4-48 35zM0 59l0-7 4-1 10-7 28-24 21-14 4-6 10 0-3 5-40 28-22 20-12 6zM4 74l-4 1 0-6 14-9 44-36 24-14 11-10 12 0-5 6-42 23-44 39-10 6zM2 93l-2 1 0-7 14-9 30-28 32-24 36-18 10-8 14 0-6 6-44 21-21 13-52 46-11 7zM0 110l0-7 12-7 62-54 22-13 53-23 8-6 12 0-13 10-40 16-38 20-70 61-8 3zM2 126l-2 1 0-8 21-13 43-40 22-17 18-10 68-29 11-6 3-4 12 0-4 5-12 7-60 25-34 18-30 24-42 38-14 9zM4 143l-4 1 0-8 18-11 66-59 27-16 91-40 10-6 1-4 12 0-7 7-9 5-109 50-28 21-42 39-26 21zM4 161l-4 1 0-9 10-5 34-28 36-34 16-12 24-13 84-39 28-15 7-7 12 0-9 8-14 8-112 53-20 12-92 80zM2 180l-2-1 0-8 22-15 62-56 28-21 144-70 10-9 13 0-5 5-152 75-16 10-104 90zM2 198l-2 0 0-7 9-5 85-77 24-18 138-71 26-10 16-10 17 0-5 4-36 14-44 21-114 61-20 14-80 74-14 10zM0 218l0-8 16-11 100-91 136-74 80-30 3-4 17 0-12 8-44 13-32 13-36 18-104 58-34 27-32 31-34 29-16 17-8 4zM2 236l-2 0 0-8 4 0 8-7 90-85 28-22 90-51 51-25 45-16 18-4 30-13 5-5 10 0 0 2-12 8-75 25-44 18-118 68-40 33-81 78-7 4zM2 255l-2 0 0-8 6-2 96-93 34-27 24-12 70-43 36-18 96-33 28-12 7-5-1-2 13 0 1 2-6 3-38 17-96 33-50 26-78 47-38 30-102 97zM2 273l-2 0 0-8 13-9 29-30 70-66 32-25 77-47 29-16 36-17 76-24 58-23 10-8 28 0-20 8-18 4-76 31-4-1-58 19-60 32-94 60-80 75-36 37-10 8zM2 290l-2 1 0-9 4 0 8-7 25-27 77-74 40-31 78-49 52-26 34-12 24-6 70-28 40-11 42-7 6-4 28 0-12 6-84 15-74 28-58 18-44 19-102 63-22 17-130 124zM0 308l0-8 4 0 6-5 60-62 72-66 76-52 58-32 24-9 68-21 52-21 26-7 88-15 22-6 6-4 92 0-6 3-14-2-12 3-10-1-34 3-134 24-44 14-34 14-56 17-38 16-42 23-80 53-48 43-91 92-11 6zM656 1l-2-1 4 0-2 1zM755 8l-15-4-9-4 24 0 0 8zM4 324l-4 1 0-7 20-15 52-55 64-60 22-18 80-54 56-28 152-51 124-23 38-3 58 0 36-3 12 2 2-2 39 7 0 6-45-8-112 4-36 3-98 18-36 10-2-1-72 27-60 19-30 14-24 13-38 24-52 39-76 72-64 65-6 2 0 2zM4 341l-4 1 0-8 12-7 80-81 62-57 68-50 26-17 46-22 136-46 122-26 66-6 86-2 51 8 0 5-33-7-36-2-90 4-50 6-104 21-144 49-50 24-56 37-29 23-85 79-39 41-35 33zM2 359l-2 0 0-8 4 0 14-13 79-80 77-71 60-43 30-18 32-14 148-51 114-23 42-4 96-3 38 4 21 5 0 5-35-7-38-2-84 3-42 4-100 20-100 31-62 23-38 19-28 17-54 40-104 98-12 16-46 44-10 8zM0 377l0-9 2 1 16-14 58-60 100-95 57-42 35-21 30-14 56-21 96-31 72-15 56-9 44-3 76-2 30 3 27 7 0 5-41-8-50-2-68 3-40 4-86 18-40 10-58 18-82 31-50 28-44 31-89 82-89 90-18 15zM4 392l-4 2 0-7 14-11 84-86 90-84 30-25 28-19 22-13 38-17 70-27 78-23 62-14 62-11 42-3 62-1 44 4 29 7 0 5-43-9-56-2-50 2-38 4-68 12-74 18-56 18-54 21-36 16-40 23-48 36-91 86-27 30-70 68zM2 411l-2 0 0-7 12-8 85-88 96-92 41-33 40-24 26-12 70-28 54-18 78-19 70-13 54-5 58 0 26 2 45 9 0 5-43-9-64-3-54 3-62 9-52 11-62 16-50 17-72 30-58 32-47 38-75 72-104 107-10 8zM0 428l0-7 10-6 106-111 94-88 36-27 24-15 54-26 44-18 66-21 50-13 92-17 46-4 52-1 32 2 49 10 0 5-55-11-32-2-52 2-48 5-112 22-68 20-58 24-48 22-20 11-48 35-84 78-85 87-11 14-22 22-12 8zM4 443l-4 1 0-6 10-7 117-121 79-76 32-27 18-12 30-17 36-17 72-30 52-15 44-11 86-15 38-4 74-1 67 11 0 4 0 1-53-10-44-2-38 1-42 4-114 21-68 20-56 22-60 29-52 35-93 87-116 122-15 13zM2 459l-2 1 0-7 10-6 12-11 50-55 72-73 78-74 22-18 38-24 46-23 58-24 56-18 48-12 86-14 50-6 36-1 34 2 59 11 0 4-47-10-48-2-74 4-84 14-62 15-50 16-66 28-42 21-26 16-36 29-101 98-91 96-26 23zM4 472l-4 1 0-5 8-4 10-9 100-105 98-96 34-29 36-23 30-16 62-27 58-20 36-10 98-17 56-6 40-1 48 3 41 9 0 4-45-9-60-3-38 2-44 6-76 12-52 13-42 14-72 30-54 30-44 33-126 123-78 84-20 16zM4 486l-4 1 0-5 14-9 26-25 63-68 111-110 56-46 52-29 66-29 45-16 55-14 84-14 58-7 48 0 28 2 49 9 0 4-47-8-38-2-82 4-104 17-38 9-52 18-54 23-52 27-28 19-28 23-78 75-108 113-32 31-10 7zM2 500l-2 0 0-6 8-2 40-37 51-55 131-130 48-38 20-13 50-25 40-18 74-24 34-8 92-14 46-4 44-1 36 3 41 8 0 4-37-8-42-2-60 1-38 4-94 16-42 11-46 16-64 28-46 26-38 28-58 54-154 158-16 15-18 13zM0 514l0-5 19-13 32-30 66-70 31-29 40-43 52-48 40-33 32-20 30-16 68-28 54-17 30-7 102-16 46-3 56 0 57 9 0 5-53-9-74 0-24 1-110 17-24 5-56 18-80 34-61 38-40 34-127 125-56 60-38 35-12 6zM0 528l0-6 13-8 52-48 45-48 130-128 44-37 58-34 62-27 48-17 40-10 76-12 46-5 68-2 36 2 37 7 0 5-43-8-34-2-62 2-40 4-88 15-28 7-50 16-56 24-50 28-50 38-68 64-116 119-58 54-12 7zM4 540l-4 1 0-5 4-1 10-8 61-57 51-54 114-112 48-40 50-32 68-30 54-18 100-19 48-7 70-2 44 2 33 8 0 4-39-8-30-2-60 1-50 5-74 12-44 11-58 20-40 17-52 30-58 46-126 123-47 49-51 48-22 18zM2 555l-2 1 0-7 12-7 69-64 37-39 50-47 32-34 50-48 52-43 28-18 34-18 50-21 48-15 40-10 80-14 48-4 68-1 36 4 21 6 0 5-19-6-42-5-60 1-42 3-74 12-44 10-58 18-54 23-24 13-32 20-62 51-172 171-42 40-28 23zM2 568l-2 1 0-6 12-7 20-18 228-222 37-32 33-22 26-15 48-22 54-18 40-10 84-15 42-4 60-2 36 2 35 9 0 5-41-10-28-2-62 2-54 6-64 13-2-1-38 10-58 19-48 21-22 12-30 20-46 38-220 215-26 23-14 10zM2 582l-2 0 0-5 14-9 26-24 100-98 49-44 23-26 42-40 56-48 24-16 32-18 74-30 66-17 78-15 38-4 76-1 32 3 25 8 0 5-43-10-40-2-56 2-44 5-110 25-54 18-36 15-44 25-52 41-44 41-39 41-61 56-94 92-30 27-6 3zM0 597l0-6 8-4 28-26 252-241 46-36 44-24 46-19 52-15 62-15 58-10 44-4 48 0 30 3 37 10 0 4-31-9-52-4-54 2-40 5-58 12-74 20-48 16-34 16-34 20-62 52-74 74-44 39-106 103-33 30-11 7zM2 611l-2 0 0-6 14-9 37-34 91-90 51-44 80-80 43-38 20-14 46-26 52-20 50-14 56-14 68-12 76-2 28 2 43 11 0 4 0 1-35-10-52-4-50 1-26 4-54 10-60 16-58 17-50 21-30 17-47 38-47 44-45 46-65 58-89 88-45 39zM2 625l-2 1 0-7 10-6 50-45 64-64 76-68 80-80 38-34 32-23 26-14 60-23 48-14 66-17 56-10 52-3 36 1 61 13 0 5 0 1-33-11-34-4-52 0-40 4-124 29-48 16-50 20-32 18-42 34-81 80-109 99-38 40-61 57-9 5zM0 641l0-7 9-4 67-63 82-81 53-46 103-100 30-24 30-17 26-12 60-21 98-25 54-10 38-3 44 2 30 4 31 10 0 5 0 1-43-13-50-4-34 1-44 6-114 29-48 15-58 25-28 19-26 22-49 46-39 40-80 72-68 68-66 61-8 4zM0 656l0-7 8-4 34-34 45-39 72-72 74-66 62-62 37-33 36-25 30-14 74-25 98-26 16-1 16-4 34-5 44 1 38 5 37 11 0 6 0-1-37-12-50-5-26 0-34 3-100 24-2-1-12 5-34 8-58 21-32 15-42 29-43 40-49 50-64 56-86 86-32 27-47 45-7 4zM2 671l-2 1 0-7 16-12 46-45 24-19 88-88 60-52 90-89 36-28 18-11 102-37 134-31 38-4 36 3 28 4 39 12 0 6-19-9-52-9-58-1-106 23-40 11-76 27-28 13-18 10-28 23-82 80-78 68-68 70-60 52-32 34-8 5zM2 686l-2 1 0-7 8-4 40-41 65-57 73-74 68-59 78-77 26-21 22-13 38-16 70-25 134-30 28-2 46 3 28 5 31 12 0 5 0-1-47-15-40-5-22 0-34 4-142 35-74 28-20 10-29 20-19 17-77 75-87 77-50 53-64 55-38 40-10 7zM0 705l0-7 16-14 44-46 61-52 69-71 78-68 74-72 18-15 26-16 62-25 46-15 126-30 34-3 40 4 30 5 31 13 0 4 0 1-25-11-46-9-28-2-30 2-138 32-98 38-18 10-39 32-81 79-68 58-62 65-62 52-48 50-2 4-10 7zM0 724l0-9 7-5 54-58 48-40 83-84 78-67 80-78 34-24 32-15 66-25 34-10 116-25 32-2 32 4 59 19 0 5-37-15-38-6-34-1-26 3-124 29-78 29-30 14-14 9-26 19-66 65-82 71-69 71-74 64-57 62zM2 742l-2 0 0-8 10-8 20-26 35-38 72-60 65-68 76-64 74-72 42-30 88-37 52-14 36-8 2 2 62-16 24-1 42 4 55 19 0 4-29-12-44-9-46 0-130 28-64 24-50 22-34 25-67 65-89 76-63 66-75 64-28 30-34 42zM0 752l6-2 29-38 35-40 42-36 10-6 86-87 103-89 43-42 40-30 32-16 64-26 124-29 30-5 48 2 28 6 35 15 0 4-37-15-34-7-30-1-28 4-60 15-62 12-62 23-46 23-24 17-24 20-45 44-93 80-71 72-61 52-40 44-38 36zM16 752l-4 0 6 0 26-34 34-38 64-55 65-65 83-72 60-57 28-23 30-19 68-32 28-9 138-30 32-1 34 5 47 18 0 5-37-16-28-5-30-2-18 1-134 29-44 16-50 24-33 20-19 15-56 54-92 79-73 72-43 36-41 42-41 42zM32 752l-5 0-1 0 14-10 50-58 62-53 60-61 111-96 39-37 32-25 20-12 48-24 56-20 62-12 60-14 34-1 36 4 45 19 0 5-27-14-26-6-34-4-26 2-144 32-52 22-32 17-34 23-35 29-49 46-76 65-70 69-58 51-40 45-16 18-4 0zM44 752l-4 0 7 0 25-32 24-26 54-48 70-68 135-120 25-21 38-25 47-24 41-16 134-30 30-2 26 2 30 7 29 16 0-1 0 6-27-15-36-9-42 0-130 27-34 11-50 24-32 19-30 22-128 111-83 80-62 56-36 40-21 16zM58 752l-3 0 2 0 28-30 109-106 168-149 39-29 42-26 43-20 32-11 136-29 42 1 20 5 39 18 0 7 0-1-25-15-38-10-44 1-134 29-42 16-30 16-51 33-34 26-167 148-92 89-26 30-14 7zM72 752l-5 0 8 0 41-46 84-81 70-63 110-94 48-32 39-22 37-17 18-5 116-26 20-3 18 0 34 5 25 8 20 14 0 6 0-1-21-15-30-8-20-4-26 0-24 4-110 25-36 13-30 15-34 20-50 34-104 89-74 67-74 72-24 25-26 20zM88 752l-6 0 1 0 19-14 106-107 160-139 50-34 44-27 22-11 42-16 122-28 40-1 20 4 36 13 11 12 0 5-19-15-36-12-30-2-20 1-108 24-34 10-34 16-40 23-66 44-52 44-114 100-94 96-11 12-9 2zM102 752l-6 0 6 0 84-86 26-25 102-90 66-53 68-44 42-23 34-13 36-10 78-18 30-4 24 1 28 7 35 24 0 6-15-16-14-7-24-7-40-3-50 9-74 19-30 10-35 17-93 58-46 37-123 107-101 104-8 0zM118 752l-7 0 5 0 69-70 39-38 94-81 72-57 107-64 21-9 70-20 58-13 20-2 26 1 26 6 22 11 15 17 0 8 0-1-9-14-32-17-28-6-32 1-50 10-64 18-26 8-28 14-84 51-66 48-128 112-74 78-14 9-2 0zM132 752l-5 0 5 0 62-64 32-32 93-80 45-36 36-26 102-60 38-15 58-17 54-11 24-2 24 4 22 7 22 13 11 19 0 8-10-20-25-16-28-8-30-1-56 11-40 11-38 12-28 12-100 60-80 61-98 84-72 76-18 10zM148 752l-6 0 5 0 33-34 54-55 62-54 67-53 35-26 114-66 36-14 54-16 52-12 22-1 22 3 28 11 20 15 9 25 0 16-6-29-19-18-22-11-30-6-26 1-68 16-70 25-98 56-34 23-78 61-47 39-42 40-50 54-12 10-5 0zM392 752l-7 0 6 0 53-38 60-39 46-23 52-22 46-16 48-14 24-15 23-27 10-34 0-24-3-10-5-12-11-15-8-7-24-13-12-4-24-1-26 4-58 15-50 18-34 17-88 52-54 37-1 3-57 43-58 51-33 34-36 40-8 0 1 0-7 0 3 0 24-23 49-51 75-65 45-35 59-42 102-59 72-27 24-6 52-10 24 0 14 3 20 8 20 17 14 24 1 16 0 24-1 16-10 22-18 23-12 10-14 8-88 27-92 40-30 16-38 26-52 38-8 0zM372 752l-7 0 3 0 16-6 63-50 41-26 50-26 52-22 36-14 60-17 26-14 19-23 10-28-2-28-3-10-11-16-15-12-16-7-18-2-26 1-54 13-36 12-38 16-36 19-50 29-8 7-32 20-95 70-51 46-40 40-28 28-5 0-6 0 6 0 24-26 48-48 47-42 102-76 85-52 33-18 42-18 38-12 58-14 26 0 18 3 22 11 11 10 7 10 6 14 2 12 0 20-8 26-12 18-12 12-27 14-53 15-54 21-90 43-24 14-32 24-50 39-12 0zM352 752l-5 0-1 0 19-6 75-60 40-26 108-50 60-21 44-13 15-10 14-18 8-22-1-24-8-16-8-10-20-11-18-3-18 1-48 11-30 9-34 13-48 24-54 31-134 94-32 29-60 59-22 19-3 0-6 0 2 0 21-18 90-86 64-48 84-58 64-35 28-14 42-16 40-11 40-8 18-1 18 4 20 12 10 11 8 22 0 22-9 24-17 20-16 9-60 18-52 20-102 48-38 26-72 58-16 1zM334 752l-8 0 12 0 64-51 28-25 32-21 116-54 40-15 64-19 18-10 10-13 8-20 0-8-2-12-8-14-8-8-14-6-18-2-18 2-32 7-40 13-46 19-43 21-40 24-55 39-60 39-34 28-76 74-15 12-4 0-5 0-1 0 17-10 17-18 54-52 37-32 120-82 52-31 67-31 41-14 48-11 16-2 20 2 14 6 13 13 6 12 2 24-8 20-9 12-6 5-20 10-74 22-40 16-90 43-46 29-26 24-58 45-12 0zM312 752l-7 0 3 0 84-60 24-22 46-30 32-13 82-39 70-24 30-8 14-7 8-7 7-12 1-16-6-15-18-12-20-1-30 6-38 10-34 12-63 30-42 26-47 34-42 26-42 29-26 23-66 65-12 5-6 0 6 0 8-7 90-86 160-110 52-27 38-16 68-20 22-4 26 0 14 8 6 6 6 12 1 14-3 14-12 16-20 10-32 8-62 21-124 58-30 19-116 84zM292 752l-8 0 16-3 62-49 10-10 55-46 29-17 104-46 60-22 62-17 9-10 4-14-4-10-9-9-10-2-14 1-70 18-34 13-44 21-42 24-46 33-84 55-24 20-41 40-35 30-4 0-6 0 3 0 13-8 76-74 51-36 39-24 52-38 34-20 44-22 36-15 38-12 54-11 18 4 11 12 2 18-3 8-10 10-128 43-106 49-38 26-94 80-20 10-8 0zM274 752l-8 0-1 0 3 0 77-56 61-54 1-2-3-2 3-2-7 1-14 9-12 5-38 27-50 47-6 9-10 8-18 10-6 0-3 0 34-26 55-51 38-27 40-24 56-41 27-17 59-30 62-22 54-11 10 2 8 8 2 5-2 10-13 10-59 16-66 24-4 3-98 43-21 12-9 6-66 58-56 44-17 8-3 0zM424 626l10-3 8-7 4 1 20-8 104-46 70-23 28-6 12-8 2-8-4-7-10-2-10 1-66 15-44 18-60 31-30 20-10 11-2-1-2 4-23 18 3 0zM516 576l-6 1-3-3 49-26 34-14 36-10 32-6 8-1 5 3-3 5-26 6-84 28-42 17zM755 537l0-2 0 2zM410 752l-7 0 5 0 28-17 50-37 30-17 38-19 50-21 98-30 16-9 22-20 9-14 6-26 0-4 0 13-9 31-22 22-28 14-85 26-71 30-56 32-63 46-11 0zM428 752l-5 0-1 0 8 0 30-20 56-38 36-19 40-17 58-20 50-14 16-7 20-15 19-34 0 10-9 22-20 17-20 10-86 26-72 30-42 25-4 0-44 31-24 13-6 0zM514 574l0 2 0-2zM506 580l-4 2-4-4 6 0-1-2 3-1 3 3-3 2zM496 582l0-1 2 1-2 0zM448 752l-7 0 7 0 46-30 40-24 24-13 52-22 46-15 32-8 30-11 20-13 17-24 0-1 0 5 0 4 0 4-9 12-24 16-20 9-74 21-64 26-64 36-40 28-12 0zM466 752l-6 0 12 0 48-32 38-22 30-14 52-20 76-21 20-11 19-19 0-4 0 7 0 5-19 17-14 7-24 9-76 21-66 29-58 36-16 11-16 1zM488 752l-9 0 3 0 16-3 74-46 56-23 84-24 30-14 13-17 0 8 0 3-25 18-38 14-52 13-60 24-83 47-9 0zM411 638l3-6-5 2 0 4 2 0zM402 641l0-3 0 3zM508 752l-8 0 4 0 22-7 48-29 22-11 52-20 62-16 22-9 23-14 0-2 0-3 0 6-28 21-23 8-56 14-42 15-50 28-32 19-16 0zM532 752l-9 0 9 0 68-36 58-22 50-12 47-27 0 6-45 26-58 14-50 19-56 32-14 0zM554 752l-8 0 6 0 12-1 54-31 56-18 34-8 26-10 21-14 0 5-29 17-88 26-26 11-26 14-32 9zM576 752l-8 0 22-4 34-17 28-11 58-15 45-23 0 6-31 17-66 19-40 15-31 13-11 0zM600 752l-9 0-1 0 8 0 26-8 44-16 56-16 31-17 0 5-21 13-106 34-26 5-2 0zM626 752l-11 0 11 0 24-6 72-21 33-18 0 6-43 20-26 7-38 12-18 0-4 0zM658 752l-15 0 5 0 16 0 60-16 31-16 0 5-31 16-52 11-14 0zM694 752l-15 0 11 0 38-6 27-13 0 4-51 15-10 0zM730 752l-16 0 10 0 31-7 0 5 0 1-11 1-12 0-2 0zM755 752l-9 0 9 0z"/></g>
<rect width="188.6" height="187.8" filter="url(#mottle)" opacity="0.3"/>
<g filter="url(#bigblur)">
<ellipse cx="112" cy="113" rx="18" ry="12" fill="#000" opacity="0.22"/>
<ellipse cx="143" cy="32" rx="16" ry="10" fill="#000" opacity="0.16"/>
<ellipse cx="35" cy="20" rx="18" ry="10" fill="#000" opacity="0.1"/>
<ellipse cx="25" cy="122" rx="22" ry="10" fill="#000" opacity="0.14"/>
<ellipse cx="70" cy="75" rx="40" ry="22" fill="#fff" opacity="0.1"/>
<ellipse cx="55" cy="172" rx="60" ry="22" fill="#fff" opacity="0.3"/>
</g>
</g>
</svg>
<rect x="147.7" y="387.5" width="37.6" height="1.8" fill="#fff"/>
<rect x="221.3" y="267.3" width="10.2" height="94" fill="url(#cbar)" stroke="#444" stroke-width="0.9"/>
<g font-size="6.6" fill="#222" lengthAdjust="spacingAndGlyphs">
<text x="216.7" y="266.8" textLength="18.7" lengthAdjust="spacingAndGlyphs">5.0 nm</text>
<text x="216" y="366.8" textLength="21" lengthAdjust="spacingAndGlyphs">-5.0 nm</text>
<text x="453" y="266.8" textLength="18.5" lengthAdjust="spacingAndGlyphs">3.3 nm</text>
<text x="451.8" y="367.3" textLength="21.1" lengthAdjust="spacingAndGlyphs">-3.3 nm</text>
</g>

<!-- panel d -->
<svg x="247.9" y="220.2" width="188.3" height="188.4" viewBox="0 0 188.3 188.4">
<g filter="url(#cmap)">
<rect width="188.3" height="188.4" fill="#545454"/>
<g filter="url(#softD)"><path transform="scale(0.25)" fill="#a8a8a8" d="M0 30l0-18 5-12 6 0 0 4-7 14 1 8-5 4zM30 3l-6 0-1-3 8 0-1 3zM42 5l-4 1-1-6 8 0-3 5zM60 8l-6-2-3-6 8 0 3 4-2 4zM112 8l-4 1-4-4-12 4-22-2-4-3 0-4 24 3 8-3 14 1 2 3-2 4zM122 0l-6 0 6 0zM148 4l-6-1-2-3 11 0-3 4zM166 2l-4 1-4-3 8 0 0 2zM176 4l-5-4 9 0-4 4zM180 17l-4-1 1-6 7-4 2-6 8 0-1 4-6 4-7 9zM186 27l-5-3 1-4 6-2 3-6 7-6 3-6 7 0-1 6-21 21zM188 39l-4 0-10-5-8-10 0-4 7 0 9 12 8 0 24-26 6-2 4-4 9 0-2 4-17 10-16 17-6 1-4 7zM200 43l-5-1 1-5 7-3 4-6 9-8 24-17 12-3 18 0-28 9-36 26-6 8zM210 46l-3-2 2-4 35-25 24-7 9-8 8 0-9 13-8 0-20 7-38 26zM316 128l-4 0-11-14 0-6-4-6-19-50 1-32 11-20 2-1 4 1-10 22 0 32 11 26 7 26 13 18-1 4zM330 129l-2 1-5-2-2-8-10-14-20-54 0-28 13-24 5 0-11 26-1 26 21 54 11 18 1 5zM432 168l-20-4-32-15-20-2-23-19-16-28-11-32-8-18 2-24 11-26 7 0-12 28-2 18 1 8 7 10 11 34 15 26 10 10 10 7 16 1 36 16 16 4 12-3 16 1 17-10 1-11 8 4 3-11 3-2 2 2 1 4-3 8-11 6-3 8-18 9-16-1-10 2zM318 56l-4-2-1-4 3-22 12-28 6 0-12 30-4 26zM432 156l-16-3-36-16-18-3-11-8-8-10-13-26-9-28 4-8 2-22 13-32 6 0-12 32-5 32 6 24 13 24 6 8 10 8 20 3 10 7 30 11 12 1 4-4-4-3-14-1-28-9-4-5 2-2 4 0 8 4 20 6 16 2 3 2 1 6 6 3 8-1 6-6 1-2-4-6 1-3 4-2 3 3-1 8 2 4-4 6-12 6-16-3-6 3zM446 133l-4 1-4-3-8 0-12-2-16-5-6-5-10 6-18-2-13-9-15-30-6-20 4-26 14-38 7 0-15 40-3 26 5 16 10 21 6 9 6 4 16 5 3-7 5-1 6 4 6 0 34 10 10-1 8-5 6 1 24-16 20-24 24-2 22-7 4 1 1 4-5 4-8-1-8 5-28 4-18 22-8 3-12 10-8-1-4 5-8 0-4 4zM384 113l-14-2-5-3-14-26-4-14-1-12 3-16 8-24 9-17 5 1-9 22-9 28 0 18 14 32 7 5 10 2 1 3-1 3zM442 120l-40-8-12-5-4-6-12-2-3-3-13-28 0-14 8-28 11-26 7 0-10 21-5 21-4 6-2 16 15 29 8 0 4 7 10 5 34 8 12 0 15-5 15-10 22-27 36-4 32-12 5 3-3 4-8 1-4 4-14 4-40 6-22 26-18 12-20 5zM394 0l-3 0 3 0zM432 6l-18-6 46 0-28 6zM446 83l-12 0-28-8-8-7-16-25-6-2-1-5 3-10 10-20 14-3 28 9 30-6 7-6 5 2-2 6-12 6-32 4-18-7-12-1-8 8-6 14 1 8 7 3 13 21 13 8 24 5 8-2 7-5 16-26 9-8 36-6 18 0 11-12 17-9 12 2 22 10 12 1 14-2 11-6-2-6 8-8 7 0-11 14-3 8-12 5-26 0-22-10-10-1-12 6-10 12-58 9-9 9-11 20-8 7-8 4zM494 4l-6 1-3-5 22 0-3 3-10 1zM490 18l-4 0-2-2 3-4 19-3 5-9 10 0-4 2-4 10-23 6zM526 12l-4 1-2-3 4-6 8-4 10 0-16 12zM446 70l-10 1-24-7-7-6-9-18 6-1 12 19 26 7 6-2 8-11-2-6 9-6 3-8 4-3 12-6 10 1 30-9 6 5 10-10 16-10 22 0 26 9 12 1 12-3 3 3-5 5-18 1-10-1-20-9-12-2-8 2-13 8-9 10-6-1-12 1-20 5-16 2-8 5-12 16-2 8-10 10zM614 5l-12-1-11-4 40 0-5 3-12 2zM448 94l-10 1-16-2-14-4-12-6-9-9-9-18-8-4 0-4 4-3 2 1 9 10 9 16 10 8 28 8 12 1 12-5 7-6 17-26 6-4 44-6 14-3 4-3 5-10 11-5 8 2 12 7 10 3 26-1 15-6 18-26 6 0-18 28-15 8-12 3-20 0-16-3-8-8-8 0-5 4-3 8-8 4-16 5-42 5-4 4-16 24-10 8-10 4zM598 52l-12 0-6-5-10 5-4-4 10-7 16 4 14 0 12-1 18-6 12-10 17-28 7 0-13 24-15 16-26 10-20 2zM594 66l-4 1-2-1-1-4 3-4 30-3 30-13 16-20 12-22 6 0-12 24-20 25-28 12-26 3-4 2zM502 141l-5-3 1-6-3-6 0-12 15-18 22-4 10 8 16 0 6-3 2-5 10-8 12-2 2-6 6-4 28-6 28-10 10-10 14-18 14-28 6 0-14 30-20 26-12 7-8 2-16 7-26 5-8 5-4 6-12 4-14 14-22 0-10-7-16 3-13 16 0 12 4 6-3 5zM536 134l-6-2 4-7 38-5 12-12 11-4 11-9 30-9 16-8 5-6-2-6 1-2 10-4 20-26 16-34 6 0-14 32-22 32-12 6-1 2 3 4-2 3-22 13-30 10-10 8-11 4-9 10-16 5-18 0-8 5zM688 70l-8 1-3-7 23-32 14-32 6 0-7 20-13 24-9 12-6 4 1 5 10-7 14-20 15-38 7 0-6 18-11 26-18 22-9 4zM726 46l-6 0 0-4 6-6 0-6 11-30 6 0-8 28-7 8 1 6-3 4zM738 43l-4 0-1-3 7-10 9-30 5 0-8 32-8 11zM754 35l-2-1 0-4 2-20 0-10 0 16 0 8 0 6 0 5zM14 22l-4 0-1-4 7-13 6-1 0 6-8 12zM0 126l0-8 10-12 11-26 45-42 6-2 22 2 8-6 9-16 9-10 14-2 4 1-1 5-9 1-8 4-18 26-12 5-14-3-8 1-41 38-12 28-15 16zM24 26l-5 0 1-4 10-14 6-3 1 5-13 16zM158 13l-6-2 0-6 6 1 2 4-2 3zM170 14l-4 2-3-4 5-6 4 4-2 4zM392 39l-4-3-1-4 5-12 6-5 12 2 12 6 14 0 26-5 12-6 4-7 4 1 0 6-5 6-17 8-8-1-18 5-16 0-16-9-7 5 0 10-3 3zM0 57l0-8 28-20 18-23 6 2-1 4-17 19-18 16-16 10zM2 79l-2 1-1-6 5-12 31-24 21-23 10-3 22 2 5 2-5 5-22-3-6 2-23 24-25 20-10 15zM100 21l-4-3 1-4 7-3 2 5-6 5zM2 140l-2 0 0-7 19-19 12-28 39-36 8-2 8 4 6 0 14-8 19-26 7-2 6 2 4-7 6 1 1 4-3 3-8-1-3 4-7 2-16 22-10 8-8 2-6 5-6-6-10 1-36 34-11 26-23 24zM158 27l-6-5 4-5 5 3-3 7zM154 104l-5 0 4-8 31-14 28-31 22-16 22-13 16-5 3 3-3 5-6 0-12 5-22 14-20 16-24 27-26 11-8 6zM0 111l0-12 5-15 7-12 30-26 18-19 6-3 22 3 10-3 0 4-6 4-22-2-8 4-17 18-26 22-19 37zM754 30l0-2 0-6 0 8zM0 42l0-7 6-2 6-7 6 2-4 6-14 8zM112 63l-4 0-3-3 9-8 16-23 14-5 5 2-1 6-10 0-5 4-11 16-10 11zM430 56l-14-3-8-18-6 0-2-2 1-5 5-1 4 6 6 2 1 9 5 4 11 0 0 6-3 2zM168 40l-4 2-5-8 1-6 9 6 1 4-2 2zM120 180l-5 0 1-6 10-10 14-9 4-5 5-28 6-12 9-7 28-12 25-29 19-15 22-13 12-5 4 2 1 3-3 3-8 1-38 24-30 34-27 12-9 6-5 10-3 20-4 12-16 11-12 13zM438 43l-14 0-3-5 3-3 8 3 22-8 4 2-4 6-10 1-6 4zM154 42l-4 0-3-2 3-7 6 3-2 6zM568 40l-6 1-2-5 4-3 4 0 3 3-3 4zM754 44l0-4 0-4 0 6 0 2zM116 75l-6 0-4-5 10-2 14-19 5-3 3-8 5 0 2 4-8 6-2 6-19 21zM732 57l-6 0-2-3 6-5 14-4 6-8 4 1 0 4-2 3-8 7-12 5zM4 234l-4 1 0-6 14-5 28-16 44-31 8-9 20-25 12-11-1-8 5-22-2-8 4-10 12-14 2-7 18-9 8-12 6-1 1 5-8 10-22 14-3 8-10 12-2 8 2 8-4 20-4 6 2 6-2 3-12 9-30 35-30 19-8 8-32 18-12 4zM362 303l-40-6-32-11-46-21-78-19-20-11-10-9-8 1-13-15 0-6-13-7-4-6-6-3 0-4 6-4 4 10 8 5 5-1 4-8 11-12 22-16 6-16 2-18 4-8 34-16 36-40 24-15 14-5 2 2-2 5-18 7-20 14-32 37-33 15-3 6-2 20-7 16-29 22-7 10-4 10 19 18 6 0 26 16 24 5 28 9 20 3 52 24 32 10 34 5 24-21 4 1-2 6-22 21zM4 222l-4 1 0-6 8-3 24-14 41-28 11-10 31-38 0-8 4-8-3-6 4-6-3-8 5-12 8-7 14-19 4-2 6 2 3-6 7-2 0 4-2 4-8 0-4 5-8 4-3 7-13 16-6 14 4 6-2 8 0 6-3 6 1 8-30 34-10 10-40 29-36 19zM156 79l-2 0-2-3 2-4 18-10 16-19 5 1 0 4-15 16-22 15zM448 106l-12 2-30-7-11-5-4-6 5-1 10 5 28 7 12-1 12-4 12-8 10-12 8-14 4-3 40-5 20-6 8-4 6 4-32 13-40 5-20 27-14 9-12 4zM438 60l-3-4 7-10 4-2 5 2-8 12-5 2zM168 84l-6 1-1-3 17-10 22-25 6 0-1 5-21 23-16 9zM718 72l-2-4 4-5 10 0 16-6 8-9 0 2 0 4-11 10-25 8zM676 91l-6 0-2-5 10-3 6-6 16-7 14-18 6-2 1 6-7 6-6 10-32 19zM754 56l0-4 0-2 0 6zM410 198l-6 2-36-20-22-13-22-18-4 4-9-5-1-6-15-18 1-6-7-6-10-30-8-18-5-4 2-5 4-2 3 3 22 56-1 6 6 4 3 6 6 6 2 8 9 6 4-4 4 1 20 17 13 6 5 6 40 19 3 5-1 0zM580 64l-4 0-3-4 7-6 4 4-4 6zM40 103l-3-1 0-4 9-12 8-4 20-20 6-2 2 2-2 4-18 17-8 3-14 17zM264 261l-6-1-4-5-8 0-4-4-22-2-28-10-22-4-38-21-8-12 10-14 10-9 12-5 5-6 8-18 4-24 32-14 33-39 24-15 4 2-4 6-13 6-9 8-32 39-12 2-17 9-4 20-8 16-1 8-21 12-13 12 0 4 1 4 5 4 34 18 22 6 24 9 18 1 8 5 6-1 6 6 8 0 2 6-2 1zM390 89l-6 0-3-3-12-22 1-6 4 2 9 18 8 8-1 3zM754 70l-6 0 1-4 5-7 0 7 0 4zM102 69l-6-1 0-6 4-2 4 2-2 7zM46 114l-12-1-1-5 3-3 8 3 14-18 8-2 20-21 6 1-2 6-8 4-8 11-8 1-20 24zM578 78l-8-4-10-1 0-3 8-3 8 4 10-2 1 5-9 4zM514 133l-4 0-2-2-1-13 11-12 12-1 6 6 4 1 24-1 13-13 13-5 12-10 24-5 20-10 5 2-3 5-12 6-32 8-12 11-12 4-10 11-32 4-10-7-6 0-8 8 2 10-2 3zM376 208l-4 1-6-5-28-13-23-21-3-6-6-6-2-5-14-17-11-20-13-35-6-5 4-7 5 3 17 44 6 13 13 17 1 6 6 3 5 9 20 18 38 20 3 4-2 2zM674 79l-6 0-3-3 5-5 6 0 2 3-4 5zM730 81l-6 0-3-3 5-4 8 1 12-5 0 6-2 3-10 0-4 2zM754 80l0-4 0-5 0 9zM100 83l-7-3 5-6 4 1 1 3-3 5zM430 223l-6-1 4-6 66-34 34-27 22-8 38-7 12 0 12-4 18-11 32-13 10-8 2-6 40-24 2-1 3 5-3 4-39 22-5 8-10 8-28 10-16 10-12 5-24 2-36 8-16 6-34 28-22 9-44 25zM154 197l-6 0-2-5 24-14 11-2 9-18 5-16 11-8 2-8 7-6 28-36 11-10 6 2-17 16-32 42-2 6-8 6-14 32-7 6-10 1-6 6-8 1-2 5zM754 83l-4-5 4-4 0 4 0 5zM112 87l-4 1-3-6 7-3 2 5-2 3zM562 86l-2-4 2-3 7 1 0 4-7 2zM82 100l-5-2 0-4 4-4 4-8 5-1 2 1-1 4-5 5-1 7-3 2zM144 100l-4 0 0-6 8-10 6-2 3 4-9 6-4 8zM262 93l-6-2 2-7 6 2-2 7zM594 124l-6 1 0-5 14-6 12-8 32-11 16-12 6 3 0 2-16 11-34 12-14 10-10 3zM432 247l-6-3-6 2-3-2-1-4 2-2 4-1 4 6 62-34 8 0 6-2 30-26 12-7 42-10 24-2 18-7 16-12 30-9 8-6 1-6 7-4 3-6 8-2 5-5 22-7 12-2 14 2 0-4 0-4 0-4 0-3 0 8 0 3 0 6 0 4-25 0-27 9-4 5-5 2-8 10-1 7-8 0-6 6-6-3-16 7-14 12-18 8-30 3-44 12-38 33-4 1-4-3-8 3-56 31zM432 234l-6 1-2-3 2-3 54-28 18-7 36-29 26-8 54-9 24-15 30-10 8-7 6-9 36-20 22-3 10 1 4 5-4 3-8-2-26 4-26 12-16 20-32 11-16 12-16 6-24 2-46 11-10 6-30 26-16 4-52 29zM98 96l-4 1-3-3 2-4 5-2 4 4-4 4zM558 94l-14 1-4-5 4-3 8 1 8-2 1 6-3 2zM110 100l-4-1-2-3 4-5 5 5-3 4zM192 191l-6 0-2-3 8-8 14-30 42-56 6-2 1 6-7 5-3 7-33 44-13 26-7 11zM46 129l-4-2 0-5 8-4 16-21 4-2 3 1 0 4-27 29zM332 250l-30-7-3-3 0-6-9-4-8 3-8-1-14 2-24-7-14 0-22-10-16-2-24-12-3-3 3-3 4-1 6 6 6 1 10 6 12 1 26 12 12-2 24 7 28 0 4-3 4 0 5 4 2 6 7 5 18 5 8-3 26-23-2-5-26-11-8-6-25-26-18-24-12-20-6-14 0-6-5-6 2-6 2 0 4 4 5 18 11 21 28 38 22 20 36 17 0 4-6 4-2 6-8 8-22 16zM418 219l-4-3 1-4 13-11 22-8 8-7 25-12 9-6 6-7 6-2 4-6 6-1 6-7 6 0 6-5 6 0 6-4 22-3 18-6 8 4 14-5 16-10 30-12 12-9 5 1-1 4-10 9-30 11-22 13-10 3-6-3-62 15-22 15-14 13-28 14-14 10-16 6-10 6-6 7zM4 210l-4 1 0-6 20-11 50-34 31-36 5-10-2-5-6 0-6-3-8 14-20 24-16 13-7-1 25-23 16-21 4-10 6 2 6-4 6 5 8 1 0 4-3 4 0 10-31 37-50 36-24 13zM106 181l-6-1 1-4 20-24 13-9 7-35 3-4 4 0 2 2-8 20-3 22-17 12-16 21zM694 140l-2 2-2-2-1-4 8-12 9-6 26-9 22 2 0-7 0 9 0 5-20-3-28 9-12 16zM38 150l-4 0 0-6 8-2 3-6 17-15 12-16 4 0 0 5-16 20-24 20zM258 113l-7-1 3-7 5 1-1 7zM16 190l-4 2-6-5-6 0 0-6 4 0 6 3 6-1 18-14 20-11 21-18 18-26 5-2 1 6-28 34-55 38zM204 195l-4 0-3-3 6-8 13-26 26-33 3-7 5-2 2 6-6 4-3 8-21 26-18 35zM4 152l-4 1 0-7 8-2 22-26 6-1 3 5-9 4-18 23-8 3zM348 222l-6-6-6 1-11-5-19-18-36-46-8-14-1-6-4-4 1-7 4 1 3 10 12 20 37 45 18 15 8 2 4 4 8 1 1 5-5 2zM526 126l-4 1-3-3 1-4 4-3 6 3-4 6zM478 138l-5-4 0-4 11-10 4-2 2 2 0 4-2 3-6 1-4 10zM712 134l-4 2-2-2 1-4 23-9 10 0 14 3 0-4 0 8 0 1-2 1-18-3-22 7zM176 173l-4-1-1-2 9-18 3-18 18-8 2 2-2 4-12 8-4 18-9 15zM38 137l-4 0-2-3 6-5 4 3-4 5zM256 136l-6 1-2-3 2-4 6 0 0 6zM324 140l-7-2-1-4 2-2 4 0 3 4-1 4zM458 180l-4 1-8-4-18 4-18-5-34-16-16 1-8-4-21-17-2-6 5-1 16 14 10 7 16 0 36 16 16 4 16-3 8 2 8 0 22-12 4-9 4 2 1 6-9 8-24 12zM522 140l-4-1-1-3 7-5 4 3-6 6zM754 142l-18-3-18 5-5-2 3-5 16-4 20 3 2-2 0 7 0 1zM456 142l-6 1-2-5 4-3 4 0 2 3-2 4zM26 147l-3-3 1-4 6-2 1 6-5 3zM706 146l-4 0-2-4 6-5 4 5-4 4zM288 221l-28 1-12-3-14-6-4-6-19-11 0-4 14-26 19-26 4 0 1 6-5 4-16 23-9 17 1 6 8 3 14 11 12 4 24 2 8-2 4 4-2 3zM512 147l-4 1-2-2 1-6 7 0-2 7zM326 226l-6-2-18-17-40-48-2-9-6-4 2-5 5 1 2 8 43 52 16 15 10 3 0 4-6 2zM682 150l-6 1-1-5 5-4 4 1 1 3-3 4zM696 153l-4 0-2-3-1-4 3-4 5 4-1 7zM500 155l-4 0-2-3-1-4 3-3 6 3 0 4-2 3zM702 160l-4 0 1-6 15-5 22-4 16 3 2-2 0 2 0 5-2 2-20-3-12 1-18 7zM24 157l-7-1 0-2 2-4 5-4 3 6-3 5zM466 252l-4-2 2-4 8-2 26-15 14-15 32-27 42-12 30-2 22-9 12-12 8-1 6-4 5 1 0 4-3 2-8-1-2 1-12 14-18 6-6 5-30 2-41 11-52 44-31 16zM236 183l-4 1-1-6 17-25 6-1 1 6-7 4-1 6-5 4-6 11zM686 162l-5-4 3-4 5 0 1 4-4 4zM16 177l-16-1 0-7 16 1 4-6 8-3 4-5 8 0 1 2-3 3-8 3-14 13zM398 209l-4 0-6-6-48-25-20-18 0-5 6 2 18 16 54 29 2 4-2 3zM672 164l-4-4 6-5 3 5-5 4zM12 165l-12-1 0-6 16-1 0 5-4 3zM710 171l-6-1 0-4 16-7 14-2 18 3 2-2 0 2 0 5-2 1-28-2-14 7zM632 185l-6 0-1-3 3-3 18-5 12-15 6 1 0 4-6 4-2 6-6 2-6 6-6-1-6 4zM696 170l-4 1-3-3 3-5 6-3 1 6-3 4zM330 238l-18-4-9-12-8-4-2-6-6-4-2-6-8-6-11-16-12-10 0-6 6 0 36 46 12 9 8 9 8 3 8 0 6-8 6 0 0 5-14 10zM430 194l-28-9-31-15-2-4 3-2 4 1 34 17 16 4 6 1 14-4 4 1-2 5-18 5zM680 174l-4-1-1-3 7-4 4 4-6 4zM654 189l-4-1 0-5 10-5 6-9 5 1-2 6-15 13zM754 176l-8 2-24-3-3-3 5-3 26 3 4-2 0 6zM260 188l-14-8 1-6 5 0 10 8 1 4-3 2zM654 200l-6 0-1-4 13-4 14-13 8 1 6-4 6 1 8-3 5 4-5 4-8-2-6 4-8 0-16 13-10 3zM754 188l-8 1-22-2-12-4-4-5 6-3 6 6 30 2 4-2 0 5 0 2zM112 191l-5-1 1-7 6 1 1 4-3 3zM256 197l-4 0-11-7-1-6 4-1 12 9 2 2-2 3zM278 211l-8-2-8 1-16-4-10-6-4-5-6-2-1-5 5-3 2 1 4 7 14 8 18 4 6-3 4 1 3 5-3 3zM412 373l-4 1-4-4 4-6-2-24 5-16-1-8 12-24 16-18 26-16 36-18 52-43 42-12 26-1 4 2-4 6-26 0-40 11-30 25-8 9-18 12-36 17-25 18-9 10-11 20-4 26-1 24 2 6-2 3zM424 377l-5-3-2-14 5-42 8-18 13-14 21-15 56-29 8-10 30-25 38-10 26 1 6-7 6 0 6-4 6 1-2 5-8 0-14 12-18-3-10 1-34 10-28 24-6 9-54 28-24 16-12 13-7 13-5 38 0 12 3 6-3 5zM642 220l-4-1 0-5 8-4 2-4 10-1 8-3 14-12 14-3 12-1 32 8 16 0 0 5-8 2-18-2-26-7-14 2-24 17-16 2-6 7zM180 197l-8-1-2-4 6-3 4 2 2 3-2 3zM376 335l-4 0-4-6-22-6-40-6-14-6-4-5-8 1-6-6-6 1-18-10-17-6-19-3-36-11-24-2-4-6-12-5-12-12-23-33-11-10-2-5-10 0 0-3 4-5 5 1 3 6 4 1 12 10 4 8 11 13 6 12 11 10 18 11 28 4 22 8 24 4 26 10 18 11 6-1 6 5 8 1 18 7 50 9 6 6 6 0 2 5-2 3zM270 199l-6 0-4-5 4-3 4 1 4 4-2 3zM4 199l-4 0 0-6 7 1-3 5zM420 203l-6 0-2-5 4-3 5 1 2 4-3 3zM262 247l-4 0-6-5-6 1-6-4-22-1-20-9-22-5-36-18-3-6 5-3 6 7 6 1 4 4 20 9 20 5 18 8 10 2 10-1 18 7 8 0 4 3-4 5zM192 204l-7-2-1-4 6-2 5 2 3 4-6 2zM676 216l-6 2-3-4 19-13 14-3 34 7 20 0 0 3 0 3-20 1-38-8-8 3-12 9zM76 206l-6 1-2-3 4-5 6-1 1 4-3 4zM228 217l-6-1-21-10-3-4 8-2 22 12 0 5zM640 207l-7-1 3-6 4-1 4 3-4 5zM146 273l-6 0-10-5-36-46-12-11-1-5 5-1 11 11 25 34 14 15 10 3 0 5zM408 213l-5-3 3-5 4 0 2 3-4 5zM64 215l-7-1 0-4 5-3 4 0 1 5-3 3zM334 262l-38-9-4-5 2-3 32 10 10 0 28-24 14-17 2-6 6 0 0 6-22 26-16 14-14 8zM458 398l-18-8-8-16-3-12 5-42 9-18 9-8 24-16 54-27 6-9 28-25 16-5 22-5 18 4 1 3-3 3-10-3-10 0-32 9-8 7-24 27-56 27-30 22-8 16-5 38 7 20 8 9 8 3 3 4-3 2zM630 216l-6-4 2-4 6-2 2 2-1 4-3 4zM672 229l-8 0 0-7 12 0 20-13 34 8 24 0 0 3 0 3-2 1-10-1-8 2-8-4-6 1-22-7-14 10-12 4zM250 322l-12-12-34-5-14-7-26-4-27 0-52-64-14-12-1-4 6-2 11 10 37 48 14 10 0 6 2 2 6 1 14-2 22 3 14 3 10 6 28 4 12 5 9 10-5 4zM338 274l-6 1-36-10-18-10-8 0-3-5 3-2 14 2 8 7 10 3 33 8 15-9 18-15 24-30 4-2 2 6-18 20-3 6-39 30zM238 321l-12-3-26-2-18-8-34-3-8 2-6-1-22-21-37-49-7-7-10-4-10 1-26 15-14 5-8 1 0-6 16-5 34-19 4 0 4 4 8 0 12 9 40 52 18 18 28-1 24 4 14 7 34 4 4 4-2 3zM386 248l-3-2 1-4 6-4 4-9 6-3 3-8 5-1 1 7-15 14-3 8-5 2zM654 225l-5-1 2-6 7-2 5 2-1 3-8 4zM470 239l-7-1 2-4 9-3 18-12 5 1-1 4-26 15zM480 394l-8-5-8 1-12-6-11-20-2-6 4-6 2-28 7-14 34-25 50-23 26-29 8-6 26-8 12 0 6 5 6-4 5 2-5 6-6-4-6 2-8-1-28 8-34 36-48 21-33 24-7 16 1 20-6 4 2 10 5 10 8 7 12 5 9 0 2 4-3 4zM634 228l-2 1-5-7 3-3 6 3 0 4-2 2zM622 270l-12 1-4-3 4-5 8 2 26-5 11-8 13-17 18-5 12-9 5 1 0 4-11 9-22 7-13 16-9 7-10 4-16 1zM418 232l-5 0-1-2 2-5 4-2 3 5-3 4zM622 282l-6 0-2-4 16-5 8 1 10-3 12-9 14-16 21-6 11-10 3-6 3-1 3 3-1 4-18 18-8-1-8 3-26 25-12 5-14 0-6 2zM638 245l-4 1-2-4 7-6 1-8 6-3 2 3-1 4-4 4-5 9zM668 293l-6-1 0-4 32-26 6-10 18-18 2-6 4-2 4 2-1 4-29 34-30 27zM678 299l-4-3 1-4 7-3 19-19 32-38 11-4 4 1 0 3-11 6-31 36-28 25zM630 237l-6 0-1-5 8-2 1 4-2 3zM630 258l-14 2-5-4 3-4 10 2 18-6 13-18 7 0-1 4-15 19-16 5zM702 294l-2 2-4-2 0-4 16-14 27-32 11-7 4-8 0 6 0 1-12 14-28 33-7 5-5 6zM136 320l-14-8-16-16-26-37-14-15-8-6-12 1-9 5-7 7-30 10 0-8 24-7 12-9 14-6 6 0 8 3 18 18 26 36 17 18 9 7 16-3 4 2-3 4-15 4zM368 316l-52-9-26-9-54-23-24-5-26-8-24-4-20-11-10-9-2-4 2-3 2 1 8 7 24 13 20 3 26 9 28 6 46 20 36 12 40 7 4-1 23-24 1-6 4-4-4-8 2-3 4 0 3 3-5 8 3 4 0 4-7 10-18 18-4 6zM486 368l-16-1-5-5-8-12-1-18 1-8 5-8 36-24 42-18 36-37 22-6 18 1 2 4-2 3-10-3-10 1-16 5-14 17-24 22-42 17-34 23-4 11 2 16 8 12 8 3 10-2 1 5-5 2zM408 243l-6-1 4-8 4-1 2 5-4 5zM292 245l-26-3 4-5 12 2 8-3 5 4-3 5zM418 273l-4-1 0-6 7-6 3-8 8 1 24-14 6 1-4 6-34 15-6 12zM624 249l-7-3 1-4 6-1 4 3-4 5zM726 291l-4 0-3-3 8-14 19-21 8-12 0 7-4 10-10 10-12 14-2 9zM134 334l-12-7-20-19-32-43-14-14-6-1-7 4-3 8-18 3-22 9 0-7 34-11 7-8 5-3 6-2 6 1 18 19 24 34 22 22 12 7 20-6 4 1-2 5-22 8zM408 267l-4-1-3-8-4-4-1-8 4-4 3 2 0 12 8 6-3 5zM482 356l-6 0-8-12-1-14 3-5 8-3 26-21 41-15 26-24 11-15 14-5 16 2 0 6-12-2-16 6-8 12-30 27-37 13-21 15-4 7-8 1-3 7 3 12 8 4 8-7 3 5-3 5-6-1-4 2zM414 257l-5-3 1-7 4 0 3 3 0 4-3 3zM342 287l-14-1-32-9-26-12-3-3 7-2 22 10 40 11 18-11 22-19 4-1 1 6-39 31zM390 260l-4-1-1-3 3-4 6 4-4 4zM386 340l-5-4 3-12 6-9 12-11 12-24 8-4 10-13 14-5 8-6 5 0-3 6-20 10-8 11-6 3-17 30-11 8-5 10 0 8-3 2zM626 305l-4 0-3-3 3-4 10-1 8-5 2-6 10-4 16-12 16-16 6-2 2 1-1 5-33 28-12 6-6 8-8 0-6 5zM494 346l-3-6-1-12 14-13 10-6 35-11 23-22 6-3 12-17 12-3 5 3-1 4-12 1-5 5-3 10-7 2-27 26-36 11-8 5-11 10 1 10-4 6zM128 342l-6 1-25-23-16-18-21-30-2-8-10 0-2-2 1-4 7-2 4 6 6 3 26 38 22 23 10 8 6 2 2 2-2 4zM736 289l-3-3 1-4 18-18 2-10 0 8-2 10-16 17zM356 291l-6-1 0-4 8-4 22-19 5 1-1 6-8 2-4 6-16 13zM598 275l-4-1-1-4 3-4 4 0 3 4-5 5zM2 286l-2 2 0-8 28-11 14-2 12 4 3 3-3 4-10-3-16 1-26 10zM748 293l-4 1-1-6 11-20 0 7-6 18zM406 281l-4-7 4-4 5 4-5 7zM260 311l-10-7-16-6-26-5-12-5-20-4-20-2-10 2-4-4 4-3 10-1 18 1 20 4 18 7 20 3 28 12 3 5-3 3zM608 285l-6-3 1-4 3-2 4 1 2 3-4 5zM596 287l-7-3 5-7 4 5-2 5zM136 395l-4-2-5-9-16-12-1-10 3-8-1-5-27-25-27-34-18-4-12 2-16 5-12 9 0-8 10-7 18-6 12-1 12 3 8-1 30 38 31 28 0 4-4 4 0 12 1 3 8 3 4 6 6 4 2 6-2 5zM376 324l-3-6 19-20 12-17 2 7-7 12-23 24zM734 320l-4 1-2-3 6-12 6-1 6-7 6-1 2-16 0 8-4 15-8 4-8 12zM508 339l-4 0-2-5 10-11 30-11 12-2 26-26 4-2 3 2-3 6-28 27-10 0-25 9-9 5-4 8zM628 292l-5-2 0-2 7-4 6 1 0 3-8 4zM618 295l-7-1 1-6 4-1 5 3-3 5zM602 299l-4-5 2-4 4-1 3 5-5 5zM714 299l-5-3 1-4 4-2 4 4-4 5zM246 597l-4 0-10-11-4-14-29-38-30-66-33-44-10-21-10-13-14-10-4-14 1-8-2-6-37-38-3-8-5-5-14-3-13 2-13 6-12 12 0-9 6-6 10-6 14-4 10-1 14 2 5 4 10 16 37 37 1 3-3 6 2 13 16 14 11 13 8 20 10 12 5 10 8 6 9 14 32 70 29 38 5 14 7 8 0 5zM528 351l-2 1-1-4 3-6 25-10 6-10 29-29 4-1 2 2-1 4-16 14-21 25-28 14zM736 301l-4-1-2-4 4-6 5 6-3 5zM616 329l-5-3 6-8 1-7 4-2 6 3 2-4 12-4 10-9 4-1 2 2 0 4-12 9-12 4-6-1-7 8-2 6-3 3zM754 509l0-23 0-32-15-54-6-26-19-34-30-22-1-2 5-8-2-8 4-4 4 2-2 6-4 4 5 10 19 12 9 8 18 36 6 26 9 56 0 53zM668 304l-6-1-1-5 7-1 2 5-2 2zM702 317l-4-2-2-5 4-13 2 0 4 3-3 8 2 6-3 3zM724 317l-4 0-1-3 3-6-2-8 4-3 3 3 1 4-4 13zM754 439l-2-37-8-30-17-36 1-3 6-1 0-8 6-3 4-7 10-18 0 8-20 30 17 38 3 28 0 14 0 25zM612 309l-6-5 6-4 4 4-4 5zM540 359l-4 1-3-4 3-4 24-11 22-26 14-12 6 1 0 4-14 9-24 28-24 14zM680 309l-6 0-2-5 6-3 4 5-2 3zM2 333l-2 1 0-9 14-14 10-5 18-3 12 7 1 2-3 3-12-6-16 3-9 6-13 15zM714 311l-4 0-2-3 1-4 3-2 4 4-2 5zM300 329l-4-1-6-8-6-1-6-5-8 0-4-6 6-1 6 6 8-1 6 5 6 2 4 5-2 5zM628 334l-4 2-3-2 7-14 18-6 10-6 10 1 6 5 9 2-1 4-4 1-6-4-12-2-24 10-6 9zM246 330l-4 2-8-3-4 2-32-3-18-8-20-2-3-4 5-3 20 3 14 7 32 3 6 3 6-4 6 3 0 4zM536 373l-4 1-2-2 2-6 8-1 23-13 10-8 21-26 12-6 4 0 0 6-10 3-28 32-14 9-18 7-4 4zM754 405l0-7 0-27-13-33 1-4 7-8 5-15 0 9-4 13-2 5 6 44 0 23zM224 581l-4-1-13-14-18-24-6-18-7-10-1-8-17-32-34-46-9-22-8-8-11-6-6-8-6-29-24-25-6-4-22-5-11 7-4 6-1 4 6 6 20 10 18 17 8 3 8 8 8 3 10 13 14 8 5 8 5 16 31 40 22 38-1 5-6-3-22-38-29-38-9-24-12-4-14-16-24-16-15-14-25-14-5-12 13-15 16-5 10 5 10 1 33 34 6 30 15 10 7 8 11 24 31 40 18 34 15 37 31 39-1 5zM296 340l-2 2-4-1-3-7-7-6-18-5-6-5 6-3 6 4 18 6 10 11 0 4zM716 323l-6 0-3-5 5-3 4 3 0 5zM400 364l-6-3-6 3-12-4-50-19-8 3-6-5-8 2-4-3 0-4 4-2 8 6 6-3 16 2 18 6 18 9 24 7 1-27 4-10 5-3 2 3-5 14 0 18 2 6-3 4zM388 352l-16-5-26-12-36-6-5-5 5-3 8 4 20 2 16 4 16 9 6 1 4 3 8 0 2 4-2 4zM504 397l-4 0-3-3 5-6-1-6 4-6 5-20 3-4 0-10 3-6 6-5 29-9 1 4-4 3-27 11-12 42-5 6 3 4-3 5zM754 532l-2-26-5-18 0-26-3-14-18-48-6-26-8-16-11-14-15-11-26-5-24 8-1-4 3-4 22-7 16 5 8-1 17 11 14 14 12 24 6 26 17 46 3 14 1 28 0 20 0 13 0 11zM726 331l-6 0-2-7 8-1 0 8zM82 379l-7-5-3-15-19-19-19-8-4 2 2 4 18 6 18 18 2 4-2 3-4-1-18-18-22-11-2-3 2-4 10-6 22 8 23 24 1 10 4 8-2 3zM126 369l-4-3 0-4 4-12 10-10 22-10 6-5 14 1 20 7 50 4 22 5 5 4-5 3-34-7-40-3-26-8-24 10-9 7-8 10 0 8-3 3zM532 386l-4 2-3-2 3-7 8 0 29-15 16-12 21-26 6 0 0 4-30 32-22 14-14 7-6 0-4 3zM280 341l-28-8-3-3 5-4 24 7 3 3-1 5zM754 364l0-26 0-11 0 7 0 2 0 6 0 9 0 13zM484 345l-4-1-2-4 1-4 3-4 4 8-2 5zM538 396l-6-2 3-4 11-3 24-13 18-14 24-27 6 1-1 4-31 32-22 15-26 11zM754 552l-8-30-5-10-6-24-1-32-14-44-6-6-3-24-5-12-10-14-12-11-22-5-18 5-3-3 3-3 16-6 24 6 14 10 13 17 6 14 4 22 6 12 13 40 1 34 5 18 8 26 0 6 0 14zM94 428l-7-2-2-8-16-20-37-28-24-13-8-12 0-7 4-1 4 9 6 7 22 12 40 31 13 16 0 6 5 6 2 4-2 0zM138 378l-4-1-2-5 4-14 12-11 22-10 26 8 38 2 70 12 14 7 18 6 2 4-6 1-38-13-66-12-34-1-24-8-15 7-11 8-5 8 1 8-2 4zM506 466l-6 1-2-7-6-6 9-20-3-4 1-4 7-14 4-3 6 2 6-4 6 0 6-5 20-6 14-7 29-21 21-25 16-6 2 2-1 5-9 2-6 4-22 26-22 15-22 12-24 8-4 4-4 0-6-3-6 6-8 16 2 8-4 8 0 6 6 6 0 4zM286 351l-7-3 1-5 4-1 4 4 1 2-3 3zM506 353l-4 0-2-3 1-4 3-3 4 3-2 7zM398 386l-20-1-30-9-10-8-20-7-14-9-8 1-3-5 3-3 8 3 8-1 6 7 6 3 15 5 13 9 20 6 22 3 22-2 4 4-4 3-18 1zM400 375l-16-1-26-7-16-9-18-6-3-4 5-2 12 4 22 11 24 7 14-1 5 3 0 2-3 3zM754 585l0-2-3-3-9-22-21-32-12-36 3-10 0-14-13-46 2-20-3-20-18-24-18-4-12 3-3-3 5-4 10-2 20 4 10 10 11 16 5 26-3 18 13 42-1 28 9 30 4 10 19 26 5 24 0-6-1-22-20-28-10-32 0-30-13-46 2-5 4 3 13 42 0 34 7 24 4 9 14 27 0 15 0 20zM356 501l-4-1-8-12-6-5-54-11-10-12-22-9-3-7-9-4-22-5-26-1-20-3-8-4-6 2-4-2-9-11-6-14 4-10-1-10 4-8 0-9 10-10 16-6 24 8 32 0 66 12 40 14 10-2 44 10 30-1 10 3 6-1 18 12 8 0 2 6-6 2-18-11-12-4-46-1-34-8-18-1-41-13-55-10-38-1-22-8-8 3-11 8-7 36 3 8 7 10 20 5 46 4 26 6 3 3 1 5 28 13 4 8 4 2 58 13 2 9 10 8-2 5zM608 383l-4-2-1-3 21-24 16-6 6 4-4 4-8-1-8 5-18 23zM516 392l-3 0-2-4 5-8 7-24 3-4 4 6-5 8-1 10-5 6 1 6-4 4zM248 628l-20-13-38-32-16-6-10-9-14-24-24-24-22-40-13-14-29-40-18-19-18-11-14-12-8-2-4-12 0-15 5 7 1 10 3 4 41 28 17 18 40 52 25 43 14 15 10 8 6 14 6 9 12 10 10 1 39 34 17 11 4 5-2 4zM484 380l-14-1-10-5-8-12 0-8 4 2 3 8 7 7 10 3 10 0 1 4-3 2zM502 365l-4 0-3-5 7-5 2 5-2 5zM754 600l0-6 0 2-4-2-9-8-11-26-18-26-12-36-12-16 2-20-6-3-1-7-3-6-8 1-8-11 1-4 5-3 3 9 5 5 2 1 4-4-7-8 0-40-20-30 3-4 6 2 1 8 15 20 1 38 3 10-2 4 4 6 3 12-1 4 5 4-2 10 2 6 9 10 14 40 18 26 11 26 7 7 0-2 0 11zM666 450l-6 0-36-33-5-7-3-28 10-14 10-8 4 0 2 4-10 6-8 10-3 8 2 14 6 12 37 32 0 4zM652 368l-4 0-3-4 3-5 6 3-2 6zM704 484l-4-4 0-14-12-42 0-36-3-8-14-16 1-5 6 2 16 23 2 16-2 20 13 46 0 16-3 2zM296 443l-6 0-28-13-10 1-32-8-26-1-34-7-8-13 3-16 3-6-2-6 1-4 11-9 6 0 3 3-3 3-8 1-6 12 2 8-3 14 5 7 30 7 28 1 26 6 16 1 22 11 11 3-1 5zM186 569l-4 0-10-10-6-9-5-14-11-7-13-15-25-43-48-61-12-11-39-27-3-6 2-2 4 2 53 40 15 23 9 7 26 34 26 44 9 10 13 8 5 16 14 16 0 5zM460 425l-4 0-24-13-12-4-24 1-22-2-52-10-24-7-8-4-44-6-8-4-44-1-12-3-3-6 5-1 12 4 36 0 8 3 48 7 40 13 54 10 42 1 12 4 16 9 8 2 2 4-2 3zM498 377l-6-1-1-2 2-4 6 0-1 7zM456 436l-4 0-36-18-14 3-28-2-70-16-12 5-6-2-8 4-46-10-40-1-14-3-4-4-6-2-2-4 4-6-1-6 5-2 4 2 1 4-8 4 5 6 10 4 42 1 12 2 6 3 40 5 14-7 74 16 24 3 20-2 38 17 2 4-2 2zM638 413l-4-1-3-4-4-20 5-10 12-8 4 4-10 6-5 10 3 12 4 8-2 3zM660 383l-4 0-3-3-1-4 2-4 5 2 1 9zM290 397l-16 0-44-9-36-1-12-2-3-5 3-2 12 3 42 1 8 4 46 5 2 3-2 3zM430 388l-7-4 3-5 4 1 3 4-3 4zM494 389l-7-1 1-6 6 0 2 4-2 3zM596 391l-4-2 0-3 6-4 3 4-5 5zM648 408l-4-2-5-12 1-8 6-5 4 3-5 8 5 12-2 4zM670 428l-5-6 2-8-2-18-4-8 2-4 5 2 4 10 0 28-2 4zM610 395l-4 0-2-3 0-4 4-3 4 5-2 5zM90 496l-7-4-2-8 1-10-26-39-9-7-11-13-10-4-20-15-2-4 2-4 36 24 21 22 16 22 7 14 15 14 0 6-3 1-4-3-2-8-4 0-2 4 4 6 0 6zM658 419l-4-5 0-14-3-8 3-4 3 2 4 12 0 14-3 3zM536 458l-4 0-4-4-6 0-4-4 3-16 7-14 10-6 30-11 16-12 6 1-2 6-6 2-6 5-6 1-6 7-30 10-9 21 3 8 6-2 6 2-4 6zM490 402l-6-4 2-4 4 0 4 2 0 4-4 2zM528 400l-4 2-4-2 4-7 7 1 0 2-3 4zM258 719l-8 0-20-11-16-24-13-26-8-8-2-6-21-18-18-9-28-19-9-20-12-14-13-8-12 2-15-8-5-8-3-12 0-4 5-4-11-18-7-26-16-30-12-32-4-4-6-1-4-3 0-12 4 6 14 9 4 5 0 8 6 10 4 13 17 29 5 22 5 12 6 6-5 8 6 20 6 5 12 3 6-5 18 13 9 10 15 25 20 15 22 11 21 19 12 14 13 27 16 24 16 8 8 0 6-5 5 2-1 4-12 5zM426 460l-4 1-28-18-26-1-62-14-14 3-8-2-18-10-42-7-28-1-16-2-14-5-2-6 4-3 8 7 22 3 30 0 42 9 20 10 18-2 60 13 28 3 22 14 8 2 2 4-2 2zM486 412l-4 1-6-9-10-1-5-5 7-3 7 3 11 8 2 4-2 2zM600 402l-6 0-1-4 3-3 5 1-1 6zM514 405l-4 0-2-3 4-6 6 4-4 5zM610 409l-5-5 3-6 5 4-3 7zM486 449l-4-5 5-6 2-10-2-8 6-8 1-6 8-4 2 4-8 8-1 6-3 6 2 8-4 12-4 3zM586 412l-4-2 0-2 6-5 4 5-6 4zM600 416l-5-4 3-5 5 3 0 4-3 2zM428 448l-6-1-18-12-8-3-26-2-64-14-18 3-5-5 3-2 8 1 10-4 68 15 30 2 4 2 2 5 19 9 3 4-2 2zM470 417l-5-1-1-6 6-2 3 2 0 4-3 3zM102 424l-7-6-1-6 4 0 4 4 2 4-2 4zM576 418l-5-2 1-4 4-2 6 2-2 4-4 2zM660 474l-4-1-2-3 4-8-7-4-28-28-7-3-2-5-5-4-2-4 3-4 4 1 2 7 47 40-5 4 4 6-2 6zM650 420l-2 2-4-2-2-7 4-2 2 1 2 8zM110 587l-4-1-5-8-9-8-18-1-16-7-7-8-7-18-1-18-9-20-10-32-8-10-14-36 2-5 5 3 12 34 9 12 7 16 5 20 9 20-1 12 6 18 6 7 12 5 6 2 10-2 6 3 14 15 2 4-2 3zM480 425l-6-3 1-4 3-2 5 4-3 5zM76 521l-5-1-1-8-10-14-5-22-18-30-4-16-6-8 1-5 6 3 7 10 0 10 19 32 6 24 12 18-2 7zM536 446l-4-1-1-3 7-15 26-9 6 2 0 4-2 2-10 0-14 5-5 5 0 6-3 4zM592 425l-6-3 2-6 4 1 3 3-3 5zM528 468l-16-5-6-11 6-28 6-5 3 3-5 10-3 22 7 5 10 3 1 4-3 2zM464 442l-4-1-1-5 5-4-1-8 7-2 2 2-1 4-3 4-1 8-3 2zM606 433l-6-7 0-4 2-1 4 1 4 6-4 5zM660 432l-7-4 0-4 3-3 5 5-1 6zM450 446l-6 0-35-20 5-3 12 5 16 10 8 2 2 4-2 2zM554 528l-3-4 0-4 11-10 19-32 1-14-4-24 1-6-5-8 6-4 4 4 3 30 1 14-2 12-14 20-5 12-13 14zM138 684l-5-2-31-50-11-10-19-26-20-13-8 0-17-23-8-20-1-18-9-18-6-20 0-26-3-14 0-17 10 31-2 12 2 14 15 38 0 16 8 20 13 17 30 15 20 27 12 11 19 34 14 16 0 4-3 2zM288 673l-6 0-12-11-12-16-6-10 3-12-2-6-43-32-16-16-4-10-13-14-7-20-12-5-4-5-23-38-34-46-1-4 6-2 2 3 35 49 21 36 14 6 10 24 10 12 7 12 15 15 10 4 12 14 8 2 10 9 5 12-2 14 19 22 12 10-2 3zM474 451l-4 0-2-5 7-6-1-6 6-6 3 4-7 8 1 6-3 5zM578 511l-2-1-1-4 13-14 4-10 2-16-3-28-2-6 1-3 4-1 4 6-2 6 4 26-1 14-5 14-16 17zM246 454l-4 1-8-5-14-3-36-2-8-4-6 4-11-7-2-4 3-3 14 6 58 6 12 5 3 4-1 2zM508 736l-10 1-8-3-12-9-11-15-6-32 4-46-4-18-5-10 2-2 6 2 7 22 0 18-4 32 7 32 8 12 8 7 8 4 8-1 11-8 4-10-6-20 3-10 8-72-2-56 5-28-2-24 3-6-11-10 5-4 6 6 4-1 13-17 0-10-7-8 3-4 3-11 12-6 12 0 3 5 4 26-1 12-2 8-17 26-13 12 3 6-5 24 2 20-4 5-4-5 0-16 3-28 4-6-3-8 10-6 19-30 2-16-5-22-12 1-6 7 6 14 0 10-12 18-10 10 3 6 1 14-6 36 2 54-9 84 5 20-6 14-14 10zM404 465l-4 0-3-7-9-4-22-1-62-12-5-3 3-4 4 0 60 13 26 1 14 10 1 4-3 3zM618 442l-5-4 1-5 5 1 4 6-5 2zM88 519l-5-3 1-6-5-4-8-12-3-20-22-34 0-4 2-1 5 3 21 34 2 17 3 7 6 6-1 6 9 2 0-4-4-6 1-4 2 0 5 2 1 8 4 3 4-5-6-6 1-6 5 1 2 3 0 6 6 6-2 6-8-3-4 2-6 0-6 6zM354 475l-62-13-9-10-25-11-3-5 7-1 24 11 6 8 6 4 56 10 4 4-4 3zM610 465l-2 1-3-6-3-20 2-5 2 0 3 5 0 12 4 10-3 3zM748 688l-5-4-6-18-17-34-13-16-10-16-21-62-6-22-16-24-13-28-17-18-2-4 2-1 6 2 18 20 1 9 27 42 17 58 9 22 10 18 15 18 2 8 16 28 5 16-2 6zM544 504l-4 0-1-4 19-28 0-18-4-6 2-4 4-2 3 4-1 6 3 6 0 14-21 32zM296 669l-4 1-2-2-1-6-23-24-1-4 3-4-2-6 1-6-4-4-3-7-8-5 0-10-8-12-6-12-28-40-32-70-7-8 1-6 9 6 35 76 40 60 1 8 5 12 7 4 0 8 4 4-2 10 25 30 0 7zM392 478l-4 0 1-10-3-2-8-2-8 2-70-13-4-3-1-4 1-1 16 2 54 12 22 0 7 7 0 8-3 4zM458 455l-3-3-1-4 6-4 3 6-5 5zM736 688l-5-2-2-10-11-18-8-18-21-30-26-72-2-16-22-32-6-16-18-20-2-6 3-2 19 20 13 26 19 28 3 17 22 63 10 18 13 16 17 34 5 14-1 6zM436 455l-5-1-2-6 1-2 8 2 1 4-3 3zM194 458l-6-2 0-6 4 0 4 2 1 2-3 4zM256 475l-8-1-10-12-6 1-8-4-6 1-6-3-8 2-4-5 4-3 28 4 6 6 6-1 4 6 9 4 1 2-2 3zM390 539l-3-1 0-4 4-6 2-12 13-30 8-9 6-3 4-7 10-7 6 0 4-8 4-1 3 3-1 4-8 3-3 5-7 3-20 20-14 33-1 8-7 9zM482 460l-4-4 2-4 4-1 3 5-1 3-4 1zM672 460l-5-2 2-4 5-3 4 5-2 3-4 1zM470 463l-4 0-3-3 3-5 4-2 3 5-3 5zM272 471l-8-2-12-7-3-4 5-2 8 6 8 2 4 4-2 3zM406 529l-3-5 13-32 18-17 22-16 5 1-2 6-23 16-15 14-10 28-5 5zM274 605l-4 0-3-3-7-20-41-62-26-54 1-4 4-1 3 3 0 6 25 48 39 60 9 22 0 5zM416 470l-5 0-1-6 2-2 6 2-2 6zM492 471l-4 1-2-4 2-7 5 3-1 7zM538 470l-3-2 0-4 5-3 3 5-5 4zM212 472l-6-4 2-5 4 0 3 3-3 6zM480 472l-4 1-3-3 0-4 3-2 5 2-1 6zM678 599l-5-3-6-12-7-25-9-21-1-14-22-30-4-12-9-12-1-6 4-1 3 3 8 12 7 16 20 30 2 14 21 56-1 5zM680 472l-4-3-8 4-3-5 3-4 6 4 4-4 4-1 2 5-4 4zM102 595l-4-1-3-8-9-5-8 3-26-11-11-13-10-22-1-18-15-38-2-12 1-5 4 0 1 3 9 30 9 22 2 20 9 19 6 7 20 9 18 1 5 8 6 4-1 7zM226 472l-6 0-1-6 3-2 4 2 2 4-2 2zM244 487l-4-2-3-7-7-6 2-4 4 0 9 10 1 4-2 5zM420 533l-7-1 12-32 17-17 22-15 4 1 1 3-1 3-8 3-8 8-8 3-6 9-8 7-10 28zM522 479l-14-5 0-6 15 4 2 4-3 3zM588 516l-4 1-1-3 17-20 2-8 4-4-1-12 3-3 6 13-7 2 2 6-1 6-8 11-12 11zM368 477l-6 0-4-5 8-2 3 2-1 5zM380 477l-4 0-3-3 3-5 4 0 3 3-3 5zM360 579l-4 0-1-3 3-8-1-6 3-8 15-16 18-54 6-4 1-8 4-2 4 2 0 4-6 4-5 12-15 40-1 8-15 16-5 12 1 6-2 5zM502 492l-4 2-3-4 2-8-2-6 3-4 4 1 2 3-3 6 1 10zM296 484l-12 1-12-6-6 4-5-3 0-4 3-2 8 3 4-4 8 5 12 1 3 3-3 2zM506 724l-10 0-13-12-5-8-5-26 4-48-8-28 3-8-1-8 6-20-3-40 10-40-1-8 5-5 3 5-1 12-10 36 4 38-3 12-4 6-1 14 0 10 7 22-4 48 6 28 9 12 6 3 6-2 3-7-7-16 5-16 8-72-3-54 6-20 0-12-3-24 5-3 3 5-1 6 2 22-5 30 2 52-8 72-4 12 7 20-3 6-7 6zM534 481l-4 0-3-5 5-4 4 2-2 7zM346 754l-6 0 1 0-7-26-15-40-1-8-5-8 2-6-3-12-22-26-4-18-5-6-10-28-41-62-18-34 0-6 6 2 2 8 14 25 36 53 9 16 5 18 9 16 2 10 24 32-1 12 22 60 7 28-1 0zM700 561l-2 1-2-4-16-48-19-28 1-6 6 2 2 7 17 25 7 26 9 20-3 5zM754 620l0-10-10-5-12-13-16-34-8-6-5-8-12-38-17-26 2-4 4 0 4 10 11 14 13 39 15 19 13 29 10 11 8 6 0 5 0 11zM322 646l-4-2-16-22-20-50-8-15-37-53-13-22 2-5 5 3 31 51 20 27 26 62 15 18-1 8zM464 584l-4-4 4-8 2-12-2-36 5-28 4-8-2-8 5-4 3 6-10 44 2 40-4 16-3 2zM264 497l-4-1-4-8-6-4 2-5 4 1 3 6 6 4-1 7zM360 489l-6-3-1-6 3-1 5 3 1 4-2 3zM362 517l-3-3-1-8 6-4-1-8 4-4 1-8 4-2 3 2 0 4-4 6-2 8-5 4 1 10-3 3zM362 544l-4 2-2-6 8-8 2-10 4-8 1-8 9-22 2-3 4-1 1 6-9 20-7 28-9 10zM394 598l-8 0 1-4 27-8 10 1 20-13 4-1 4-5 2-6-2-34 2-20 5-10-1-10 4-5 4-1 1 4-4 10-5 28 2 36-3 14-7 2-6 6-14 9-36 7zM514 489l-5-1-1-7 4-1 4 4-2 5zM620 496l-6-2 0-14 6 4 2 8-2 4zM356 532l-12-24-12-13-24-5-20 8-6 7-4 0-1-5 9-9 12-2 6-6 32 6 15 17 4 12 5 5-1 7-3 2zM274 494l-4-4 4-4 4 1 2 3-6 4zM272 531l-6-3-2-6-19-26-1-4 2-3 5 3 14 20 1 6 7 6-1 7zM404 584l-5-2 3-4 28-21 2-5-4-24 3-16 5-5 9-5 2-8 5-2 2 4-6 8-1 22 1 38-24 17-6 1-1-4 22-12 4-8-3-32 1-6 4-6-5-4-5 16 2 32-33 26zM502 713l-5-1-6-10-2-16 6-6 4-36 1-26 4-12 2-26-5-6 0-28 1-6 4-4 1-10-3-18-1-12 3-3 5 3 2 26 0 10-6 18 1 24-2 6 5 6-1 20-4 16-4 56-6 14 2 10 5 6-1 5zM218 754l-6 0-14-10-16-13-28-15-28-10-11-10-31-47-15-15-10-16-19-16-8-15-14-19-13-30 3-10-8-15 0-19 13 30 0 16 10 24 18 24 3 9 19 15 12 18 15 16 30 46 11 10 25 8 40 24 9 8 9 12 5 0-1 0zM348 543l-3-3-2-8-5-12-8-10-6-4-12-3-8 1-11 6-7 7-2 0-1-5 9-10 14-6 22 4 11 10 8 14 1 6 4 6-1 4-3 3zM500 536l-4-2 0-16-6-4 2-14 4-5 3 5-1 14 5 8-3 14zM268 506l-4-4 2-5 6 3 0 4-4 2zM644 533l-23-27 1-8 4 2 4 7 15 19 1 4-2 3zM568 754l-4 0-3 0 7-2 10-22 6-24 0-8-3-6-1-44 6-44-9-36-6-6-2-14 2-12 4-6 23-16 14-16 4 4-2 5-8 9-24 16-6 10-1 12 4 10 6 6 7 30-6 48 1 48 5 6-4 10-1 16-19 26zM276 517l-6-3 2-6 6 2 0 4-2 3zM338 587l-4 0-2-5 3-28-1-10-4-14-7-10-7-5-10 1-7 4-6 8 0 12-3 1-3-3-1-4 4-6 1-8 11-9 10-3 12 4 7 8 6 10 5 18-4 39zM670 605l-5-1-7-12-10-32-6-14-6-8-6-3-16-17 2-7 4 1 16 22 6 1 3 3 10 22 7 25 9 17-1 3zM248 640l-6-1-16-10-40-34-18-8-11-9-7-8-10-18-30-30-1-2 3-6 4 1 4 8 26 25 8 16 8 10 10 8 16 6 40 34 12 9 8 3 3 2-3 4zM566 534l-2 2-2-2-1-6 15-15 4 5-9 8-5 8zM98 527l-4 1-2-6 8-5 4 0 1 5-7 5zM282 529l-3-1-2-4 1-3 4-2 3 5-3 5zM492 576l-4 0 0-2 1-26-4-22 3-7 4 3-1 12 4 10 0 28-3 4zM594 566l-6-1-7-9 0-14 7-7 20-14 4-1 2 4-2 3-20 12-5 7 1 12 8 1 2 3-4 4zM326 590l-4-3-1-5-1-10 4-18-4-19-8-8-4 1-6 8-3-2 1-6 8-7 6 0 6 3 7 14 3 16-4 22 2 12-2 2zM0 533l0-10 2 7-2 3zM86 545l-14-3-6-12 2-6 4 0 3 12 11 4 0 5zM84 533l-4-2-2-3 4-6 5 4-3 7zM242 650l-4 1-6-8-8 0-40-35-22-12-14-10-7-8-13-22-19-18-7-4 0-4 6-2 25 24 13 22 8 9 10 7 22 11 37 33 18 10 2 4-1 2zM552 541l-3-3 0-4 5-6 3 6-5 7zM712 684l-2 2-4-2-3-6-7-4-9-26-18-26-15-16-8-14-8-26-8-16-10-11-6-2-2 0-4 6-8 4-4 7-5-4 3-6 12-8 6-1 4-6 18 16 9 15 13 38 6 9 10 7 21 32 5 10 2 10 11 12 1 6zM256 708l-12-5-6-5-13-20-13-28-13-14-21-18-24-13-18-14-18-28-29-25 1-6 4-1 4 7 24 20 20 30 16 12 24 13 36 33 2 10 22 36 6 6 11 6-3 4zM364 702l-5-4-10-34-1-8 6-24 2-20 6-6-2-6 7-10-3-8 5-6-2-8 6-12 13-12 8-1 12-11 6 0 2 2-3 4-11 7-6 2-18 17-5 12 2 18-11 12 1 6-2 22-6 22 11 40-2 6zM326 630l-4-1-10-13-13-28-4-18-6-8-2-8-14-16 1-5 6 1 2 8 10 6 4 14 7 8 3 19 14 27 7 8-1 6zM336 627l-4-3-2-8-6-4-15-28-1-16 4-10-4-20 2-4 5 2 3 16-3 20 1 12 15 26 1 5 7 3 0 6-3 3zM382 593l-6-3 1-14 5-12 28-21 6-1 4-6 4 0 2 4-2 4-8 1-4 5-24 17-6 15 3 6-3 5zM562 550l-4-6 2-5 4-1 1 6-3 6zM304 563l-3-3-5-16 4-6 4 4 3 14 0 4-3 3zM168 736l-6 0-6-6-32-12-18-14-34-49-15-17-5-10-18-16-20-31-8-7-6-18 0-15 12 29 8 9 15 25 21 19 8 14 15 15 32 48 15 12 26 9 15 9 5 4-4 2zM702 688l-4 2-15-10-5-22-14-23-18-21-10-14-12-38-5-8-6-4 0-6 5 0 10 12 16 44 28 36 13 20 4 18 12 10 1 4zM348 584l-4-1-1-5 4-28 3-5 4 2 1 3-3 16-3 6 1 10-2 2zM556 571l-4 0-3-5-2-16 3-6 4 4-1 10 4 8-1 5zM394 587l-4 0-2-3 5-14 29-22 4 2-2 6-29 20 3 6-4 5zM608 558l-4 1-3-3 5-6 4 2 0 5-2 1zM562 563l-4-7 4-6 4 6-1 4-3 3zM698 711l-5-1 1-8-2-4-21-10 0-10-7-21-8-13-32-40-9-34-4-8 1-4 4 0 3 4 12 40 30 38 10 16 6 16 1 12 22 12-1 6 2 6-3 3zM754 643l-2-22-16-8-12-13-19-38 1-4 6 3 12 28 8 12 8 7 14 6 0 4 0 12 0 13zM612 612l-3-4 2-8-11-34 2-3 6 5 9 26 2 16-7 2zM754 678l0-6 0-14-8-26-6-5-10-3-19-22-14-32 1-7 5 5 11 26 8 13 11 11 15 6 6 12 0 17 0 25zM544 754l-10 0 15 0 11-14 8-16 3-18-2-16-1-36 5-52-6-26-5-6 2-6 6 4 4 10 6 24-6 48 1 40 3 14-3 20-11 22-9 8-11 0zM596 697l-3-1-1-4-1-46 7-42-8-30 2-4 6 4 7 26-7 34 1 58-3 5zM512 754l-26 0-26-14-8-14 2-2 4 1 10 13 19 14 6 2 13 0 8-2 15-10 9-10 6-12 3-12-5-16 7-84-4-32 5-2 6 32-6 66-1 20 4 12-1 10-3 12-10 16-27 12zM0 583l0-8 2 7-2 1zM524 754l-10 0 30-10 10-17 4-13 1-10-3-14 0-26 5-58-5-28 4-3 3 5 5 24-6 52 1 34 3 14-2 12-5 16-10 16-25 6zM488 682l-3-2-1-4 4-32 0-20-6-16-1-10 2-16 5-5 0 31 6 8 1 14-7 52zM508 749l-14-1-6-2-18-13-8-11-8-6 2-6-3-8-4-28 5-32-1-12-6-18-8-4-1-4 6-2 10 9 5 15 1 14-4 38 5 32 13 18 14 11 8 3 11 0 19-12 5-8 3-10-5-20 9-82-3-28 3-5 3 5 3 24-8 84 5 14-1 8-3 12-7 10-22 15zM498 610l-4 0-1-4 0-24 3-4 4 4-2 28zM152 739l-28-7-23-16-9-11-11-19-32-38-9-15-6-3-10-12-20-30 0-6 6 2 18 29 20 19 3 8 16 18 37 52 20 15 28 8 2 3-2 3zM452 590l-4-2 0-2 6-5 2 1 1 4-5 4zM356 594l-3-2-1-4 2-3 4-1 2 6-4 4zM138 698l-6-2-7-6-31-48-14-15-15-21-17-12-2-4 2-2 22 14 16 22 13 14 33 50 6 4 6-7 6 3-2 4-7 2-3 4zM122 622l-12 0-4-2-23-28-1-5 7 1 20 26 13 2 3 4-3 2zM466 596l-4 2-3-4 3-6 4 2 0 6zM110 603l-4-2-1-3 7-9 2 1 3 2 0 4-7 7zM334 602l-7-6-1-6 2-2 7 6-1 8zM346 597l-5-1-1-7 4-1 3 2-1 7zM424 754l-20 0-3 0-8-38-2-36-7-31-6-9 0-14 1-12 9-9 46-9 6-6 4-1 2 1 0 4-9 4-5 5-22 3-20 5-4 5-2 6 0 14 7 14 6 32 9 72 6 0 6 0 6 0zM148 748l-4 1-24-6-26-17-12-14-9-18-59-70-14-22 0-11 22 33 8 11 6 3 11 16 29 34 11 20 11 13 24 16 24 6 3 3-1 2zM456 604l-6-2 0-6 4-1 3 3 1 4-2 2zM382 754l-5 0-10-48 4-10-11-40 6-20 3-28 7-10 4-1 4 3-9 10-3 30-4 8-1 8 9 34-2 20 9 44 1 0-2 0zM354 606l-4 2-2-2-1-4 3-4 5 2-1 6zM342 611l-6-1-2-8 2-1 6 3 0 7zM722 689l-5-5 0-8-11-12-8-20-24-36-1-2 3-3 5 1 25 40 7 18 6 6 5 12-2 9zM186 653l-14-8-4-7-18-8-27-20-11-1-1-5 11-2 26 20 18 8 22 18-2 5zM308 672l-6 1 0-9-2-6-23-26 2-8-5-12 2-4 4 2 3 6 3 16 20 24 3 12-1 4zM418 754l-4 0-2 0-10-74-6-32-7-14 0-12 5-7 38-6 10 7 6 12 1 14-5 6 3 4-3 4-10-2 1-4 9-2 0-2-4-20-6-9-6-2-28 4-5 7 9 26 13 96 3 6-2 0zM164 754l-7 0-9 0-8 0-6 0-18 0-16-11-10-3-22-26-1-10-20-20-38-46-9-15 0-11 17 26 53 60 8 18 14 16 28 17 36 5 3 0 7 0-2 0zM370 754l-5 0-9-38-7-14-13-42 1-14 8-22-1-10 4-3 3 5-8 34 0 12 12 38 7 10 10 44-2 0zM688 707l-4 0-18-9-7-2 0-20-3-8-10-18-7-6-3-8-6-4-3-8-7-4 0-8 6 2 3 8 7 6 19 24 9 18 2 22 20 9 3 3-1 3zM596 722l-2 0-1-6 5-14 5-6 1-64 3-6 0-8 5-3 3 7-5 6-1 64-4 14-9 16zM134 631l-7-3-1-6 4 0 4 2 1 6-1 1zM418 630l-4-1-3-3 3-4 4-1 4 3-4 6zM436 644l-4 0-1-12-9-8 4-3 4 0 4 5 4 14-2 4zM428 750l-2 1-4-5-12-94-10-24 4-5 4 3 0 6 8 16 8 68 6 30-2 4zM146 671l-5-1-10-12-7-16-10-12 2-4 4 1 10 11 4 12 8 12 10 4-6 5zM608 725l-4 1-1-4 7-16 4-14 2-36-2-12 2-14 4-4 4 6-5 8 4 16 0 18-4 6 1 8-3 18-9 19zM140 640l-5-4 1-6 6 1 3 3-5 6zM334 641l-4 0-2-5 1-4 3-2 2 0 2 4-2 7zM424 641l-2 1-4-3 0-7 4 0 3 2-1 7zM754 687l0-3-5-22-16-26 1-5 7 3 13 24 0 18 0 6 0 5zM62 712l-4-1-18-17-26-34-7-4-7-10 0-13 9 15 11 10 23 30 19 18 2 4-2 2zM154 644l-6-1 0-5 2-2 4 1 3 3-3 4zM630 648l-5-6 3-5 5 5-3 6zM152 659l-4 0-9-11 1-5 5 1 2 6 3 1 6-1 4-7 6 1-1 6-13 9zM292 685l-10 0-12-7-10-10-13-18 0-4 5-1 16 23 12 9 10 2 6-5 4 0 0 6-8 5zM426 654l-5-4 0-4 3-2 6 4-4 6zM358 754l-5 0-8-34-21-54 2-8-2-10 4-3 4 3-2 10 2 10 19 50 8 36-1 0zM396 754l-7 0-8-42 0-24-9-34 2-6 2-1 3 3 0 10 8 32 1 24 8 38zM270 703l-6-1-4-5-12-7-15-20-2-10-6-6 1-6 6 4 2 8 18 25 19 13-1 5zM720 754l-6 0-1 0-4-6-13-15-18-4-34-13 2-10 1-30-9-18-10-2 2-7 8 1 4 4 11 20 0 28-3 6 2 4 32 12 10 2 10 6 13 18 3 4zM260 730l-8 2-26-11-11-11-3-10-8-10-4-11-8-13-24-8 0-6 4-1 8 6 14 1 28 49 12 11 20 7 30-11 6 2 8-1 3 3-3 6-8-4-30 10zM0 666l0-10 2 4-2 6zM286 698l-12-4-18-13-17-21 1-5 6 2 10 15 10 9 14 9 10 2 0 4-4 2zM440 750l-6-2 1-8-4-8-5-64-4-8 4-4 6 4-2 6 3 6 4 44-2 8 4 8-2 8 6 6-3 4zM160 669l-4 0-4-3 8-6 4 0 1 4-5 5zM448 714l-4 0-3-4-5-44 4-5 5 3 0 22 5 24-2 4zM614 751l-4 0-1-5 15-15 10-21 2-26-1-10-8-6 3-7 5 3 1 8 4 2 2 4-3 38-5 7-1 7-19 21zM136 754l-21 0-3 0-8 0-4 0-8-2-9 0-4-8-16-18-33-25-24-31-1-6 5-1 26 35 20 17 8 3 24 28 10 2 16 6 18 0 5 0-1 0zM208 707l-4 0-10-9-3-4 2-6-7-9-8-5-8-2-2-6 4-1 6 4 10 2 8 11 1 8 11 12 0 5zM94 754l-18 0-20-18-22-19-8-1-26-35 0-13 26 38 34 25 22 23 12 0 2 0-2 0zM154 681l-6 0-3-3 1-2 4-2 4 1 3 3-3 3zM186 695l-4-1-6-7-14-6-6-5 6-3 16 7 9 10-1 5zM600 748l-3-2 0-4 9-10 6-4 9-16 4-22 0-12 3-2 3 4 0 14-6 24-5 9-13 13-3 6-4 2zM310 689l-6-5 1-4 3-2 4 2 1 4-3 5zM248 741l-6 0-12-6-8 0-14-14-45-27-8-2-3-4 6-3 12 5 10 9 10 3 12 10 8 1 14 14 24 8 2 3-2 3zM300 699l-6-5 1-4 3-2 5 4 0 4-3 3zM754 698l0-4 0-6 0 2 0 8zM56 754l-6 0-10-2-19-16-7-16-12-16-3-8 1-7 20 29 6 14 20 18 10 4zM712 698l-6 0-2-4 4-3 6-1 2 6-4 2zM730 699l-7-3-1-4 2-3 6 3 2 4-2 3zM742 698l-5-2-1-4 2-3 6 3-2 6zM754 696l-2 1-3-5 1-4 4 2 0 6zM334 754l-6 0 1 0-6-24-9-20-1-8-5-4 0-4 4-4 4 4 13 34 6 26-1 0zM230 754l-6 0-7-2-9-14-8-8-42-25-12-2-1-5 7-1 10 3 42 25 13 13 5 12 10 4-2 0zM728 713l-4 0-7-7 0-6 5 1 4 5 2 7zM750 707l-5-1-1-4 2-2 6 2-2 5zM280 710l-6-2 1-6 3-1 5 3 0 4-3 2zM292 710l-4-1-2-3 4-5 6 3-1 4-3 2zM692 719l-6 0-28-10-2-5 4-2 22 10 8 1 3 3-1 3zM738 711l-6-3 0-7 4 0 3 3 1 4-2 3zM754 717l0-5 0-4 0-4 0-2 0 4 0 11zM322 754l-6 0 1 0-3-12-9-22 2-6-7-6 2-6 4 1 2 3 1 8 4 4 4 12 6 24-1 0zM754 754l-4 0-1 0-8-14-5-5-6 1-3-2-7-10-15-14-1-4 2-3 4 1 4 7 10 8 10 13 6-2 2 2 12 22zM42 754l-5 0-3 0-12 0-10-12-12-22 0-9 4 3 16 29 17 11 7 0-2 0zM754 740l0-20-8-1-3-3 1-4 4-1 6 7 0 9 0 13zM732 754l-6 0-1 0-9-16-10-12-10-6 2-4 6 1 10 8 11 15 7 14zM740 725l-6-1-3-8 3-1 4 2 3 5-1 3zM446 727l-4-1-1-4 5-5 4 5-4 5zM70 754l-6 0-14-8-21-18-2-4 1-3 4 1 22 19 13 13 3 0zM708 754l-6 0-1 0-11-11-36-10-6-5-8 3-2-3 1-4 5-2 6 4 6 0 20 8 18 4 11 14 3 2zM592 743l-4 1-2-4 6-8 1-6 3-4 5 8-7 6-2 7zM754 754l-4-20-5-6 1-4 6 2 2 10 0 15 0 3zM248 752l-12 0-10-6-2-4 4-2 8 5 10 1 7-2 2-6 3-2 28-10 6 2 0 4-2 2-8-1-18 8-12 10-4 1zM308 754l-5 0 2 0-4-16-4-8 3-5 5 5 6 24-3 0zM16 754l-4 0-6-1-6-9 0-14 14 24 6 0 1 0-5 0zM482 754l-7 0-26-8-6-10 1-4 4 0 10 14 24 8 2 0-2 0zM204 754l-6 0-10-4-14-10-2-5 6 0 14 10 11 9 3 0-2 0zM618 754l-4 0-1 0 8-2 13-17 8 2 6-2 4 3 2 2-4 3-4 0-6-3-6 4-8 10-8 0zM296 754l-6 0 4 0-6-12 4-5 4 3 4 14-1 0-3 0zM242 754l-6 0-2 0 4 0 16 0 10-6 16-9 4 0 4 3-4 4-16 6-8 2-18 0zM660 754l-7 0 8-4-7-8 4-3 4 1 3 4-3 6 2 4-4 0zM172 748l-4 1-4-4-8 5-4-4 4-6 6 4 8-3 3 3-1 4zM742 754l-4 0-2 0-6-10 2-4 4 2 7 12 1 0-2 0zM672 754l-6 0 4 0-2-8 4-2 5 4-5 6zM608 754l-4 0-6 0-16-1-1-5 5-2 10 4 4 4 8 0 2 0-2 0zM632 754l-11 0 7 0 8-5 4-2 3 3-8 4-3 0zM646 754l-6 0 6 0 0-4 4-3 4 5-8 2zM696 754l-6 0-8 0-1-6 5-1 4 3 7 4-1 0zM192 754l-6 0-11 0 1-5 6 2 10 3zM284 754l-6 0 4 0-2 0 4-4 5 4-5 0zM442 754l-12 0-6 0 4-1 12 1 8-3 5 3-1 0-10 0zM172 754l-6 0-3 0 3-2 4 2 2 0zM6 754l-6 0 6 0zM270 754l-10 0 14 0 2 0-6 0zM600 754l-12 0-10 0-3 0-1 0 6 0 22 0-2 0zM684 754l-6 0 2 0 4 0zM462 754l-20 0 10 0 6 0 4 0zM30 754l-7 0 3 0 4 0zM178 754l-7 0 1 0 6 0 2 0-2 0zM148 754l-7 0 5 0 4 0-2 0zM230 754l-4 0 6 0-2 0zM490 754l-2 0 4 0-2 0zM506 754l-9 0 5 0 4 0zM560 754l-5 0 7 0-2 0zM754 754lz"/>
<path transform="scale(0.25)" fill="#c2c2c2" d="M28 2l-4-2 6 0-2 2zM42 3l-2 0-2-3 5 0-1 3zM60 6l-4-1-3-5 5 1 2 5zM96 6l-4 2-20-2-4-4 2-2 6 4 16 1 8-5 2 2-6 4zM148 3l-4 0-2-3 7 0-1 3zM164 2l-5-2 6 0-1 2zM178 2l-4 0-1-2 6 0-1 2zM190 4l-2 0-1-4 6 0-3 4zM204 6l-3 0 2-6 3 0 1 4-3 2zM228 4l-4 0 2-4 5 0-3 4zM210 32l-4 0 2-4 33-24 16-4 11 0-24 7-20 13-14 12zM276 11l-7-1 8-6 1-4 5 0-7 11zM302 105l-3-3-19-52 2-32 10-18 3 0-11 22-1 24 2 12 18 42-1 5zM322 117l-4-2-7-11-19-54 1-26 11-24 3 0-10 24-2 26 27 67zM308 60l-5-10 2-22 11-27 4-1-12 32 0 28zM316 54l-2-6 4-22 11-26 4 0-12 28-2 24-3 2zM328 54l-2-6 2-15 13-33 4 0-12 30-5 24zM382 122l-2 2-14-3-10-8-14-27-6-18 4-32 14-36 3 0-16 46-2 16 2 10 19 40 6 5 16 5zM382 112l-16-5-14-27-4-12 2-25 16-43 4 0-15 38-4 14 0 16 14 32 9 8 8-1 2 3-2 2zM364 44l-1-4 9-27 6-13 5 0-10 20-5 20-4 4zM436 4l-8 1-12-5 38 0-18 4zM492 4l-4 0-1-4 18 0-3 3-6-1-4 2zM526 11l-4-1 2-4 9-6 7 0-14 11zM532 23l-3-1 0-2 10-10 15-10 8 0 0 2-10 3-13 9-7 9zM620 14l-23 0-32-12 2-2 6 0 29 11 23-1-5 4zM614 3l-14-1-6-2 20 0 2 2-2 1zM624 2l-3-2 8 0-5 2zM636 11l-2 0-1-3 8-8 4 0-9 11zM442 94l-32-6-13-6-9-10-7-16 3 1 10 17 10 8 26 7 16 1 10-5 9-7 19-28 46-6 16-5 4-3 3-8 11-6 7 2 15 9 16 2 20-2 15-7 17-26 4 0-14 22-10 10-19 6-19 0-17-4-9-7-10 0-5 5-3 8-4 2-20 6-14 0-28 6-20 29-11 7-13 4zM612 50l-24 0-6-4 4-1 6 2 24-1 22-8 13-12 15-26 4 0-10 20-15 18-17 8-16 4zM608 62l-8 0-1-2 27-5 16-6 10-7 15-18 12-24 4 0-13 25-19 23-29 12-14 2zM658 56l-2 0 0-2 19-22 16-32 3 0-12 28-20 26-4 2zM660 68l-3-2 11-6 17-22 8-14 10-24 4 0-7 18-10 18-20 28-10 4zM688 57l-4-1 17-22 14-34 4 0-15 36-16 21zM694 67l-4-1 21-26 16-40 3 0-6 20-11 24-19 23zM730 33l-2 0-1-3 12-30 3 0-6 21-6 12zM754 8l0-6 0-2 0 4 0 4zM4 15l-2 0 0-3 4-11 2-1 1 4-5 11zM436 16l-14 0-14-7-11-1 0-2 5-1 10 2 18 6 32-5 4-6 4 0 0 4-11 6-23 4zM512 11l-5-1 7-9 1 7-3 3zM738 41l-4-1 7-8 8-28 3-3 0 7-7 24-7 9zM112 7l-4 0-2-3 6-1 0 4zM14 20l-2 1-1-3 6-12 3-1 1 5-7 10zM120 13l-1-3 3-3 15-1-1 3-8 0-8 4zM158 10l-4 1 0-5 2 0 2 4zM206 20l-4 0 12-12 6-2-1 4-13 10zM24 25l-3-1 1-3 8-12 4-2 1 3-11 15zM2 54l-2 1 0-5 28-19 18-23 4 1 0 3-16 18-32 24zM168 14l-3-2 3-5 3 3-3 4zM380 40l-4-2 4-14 8-16 4-1-11 23-1 10zM478 13l-2-1 1-4 3-2 1 4-3 3zM180 15l-2 0-1-3 7-3-4 6zM194 17l-2 0-1-3 7-5 0 3-4 5zM212 44l-3 0 2-4 33-24 22-6-4 4-18 7-32 23zM492 16l-4 1-1-3 15-4 6 2-16 4zM146 17l-5-1 3-5 3 3-1 3zM442 82l-24-4-14-6-6-6-13-22 4 0 12 20 9 7 32 7 6-1 9-7 6-8 3-9 13-15 37-7 20 0 8-11 14-8 14 0 18 9 14 2 18-2 8-4 3 1-3 4-12 4-16 1-14-3-18-9-10 0-12 7-8 11-60 9-9 10-11 20-8 7-10 3zM754 21l0-3 0-7 0 5 0 5zM8 67l-2 1-1-2 1-4 30-24 21-22 9-3 24 3-2 4-22-3-6 1-23 24-29 25zM102 18l-4-2 4-4 2 2-2 4zM112 22l0-6 6-3-6 9zM476 15l0-2 0 2zM436 28l-18 0-14-9-10 6-1-3 3-4 4-1 10 1 14 8 12-1 28-6 10-5 2 2-14 8-8-1-18 5zM102 52l-4 2-3-2 12-8 18-24 5-3 5 1-1 3-8 2-16 23-8 6zM464 42l2-10 14-8 8 2 20-5 6 0 6-4 3 3-3 3-6-1-20 6-16 1-8 5-6 8zM158 25l-4-1 0-4 5 0-1 5zM188 24l-4 1-1-3 5-2 0 4zM224 48l-4 0 30-22 20-7 3 1-1 4-6-1-14 6-28 19zM0 29l0-7 2-1 1 5-3 3zM188 37l-4 0-8-3-3-6-5-4 0-3 5 1 7 12 9 0-1 3zM202 24l-2-2 2-2 0 4zM108 30l-2 2-1-4 5-6 1 4-3 4zM196 30l-2-2 1-2 5-4 2 2-6 6zM0 108l6-23 8-13 28-24 20-21 6-2 20 3 6-3 3 1-2 4-5 1-20-2-8 3-17 18-28 24-17 34zM146 30l-6-2 6-2 2 2-2 2zM754 33l-1-3 1-5 0 5 0 3zM754 28l0-3 0 3zM0 41l0-4 6-2 6-7 3 0-1 4-14 9zM392 37l-3-3 3-6 2 6-2 3zM406 33l-4 0 0-5 4 1 0 4zM126 44l-3 0 7-13 4-2 3 1-11 14zM168 38l-4 0-4-6 4-1 4 7zM126 170l-2 2-1-2 3-5 19-13 5-29 6-12 10-7 26-12 26-29 19-15 21-13 12-4 3 1-1 4-8-1-32 20-38 41-34 16-7 12-2 20-5 12-20 14zM438 41l-4-1 3-4 19-4-2 5-10-1-6 5zM568 39l-4 0-2-3 5-2 2 2-1 3zM0 124l0-4 11-14 13-28 24-20 18-19 6-2 20 3 10-6 2 2-3 4-11 5-16-4-8 3-40 38-12 27-14 15zM152 41l-3-3 3-3 3 3-3 3zM414 45l-3-5 1-5 3 3-1 7zM428 41l-5-1 1-4 5 2-1 3zM202 40l-4 2-2-2 4-4 2 0 0 4zM754 42l0 1 0-3 0-3 0 5zM140 45l-3-3 3-3 3 3-3 3zM442 70l-31-8-13-18 0-3 4 0 12 19 22 7 10-3 6-8 4 0-2 5-12 9zM726 45l-5-1 3-5 3 1-1 5zM750 45l-2 1-1-2 2-4 3-1 1 3-3 3zM458 49l-3-3 7-5 2 1-6 7zM162 48l-4 1-1-3 5-2 0 4zM172 51l1-7 3-2 2 4-6 5zM130 182l-2 0 2-5 20-13 5-6 4-12 3-22 4-6 32-15 38-41 23-14 9-5 4 1-2 4-6 1-30 19-33 38-33 15-4 7-2 20-7 16-25 18zM572 50l-3-2 2-2 6-2-5 6zM116 54l1-4 5-5-1 7-5 2zM168 71l-4-1 10-8 10-10 2-6 4-2 2 2-2 3-22 22zM430 55l-12-3-3-6 9 5 6-2 2 3-2 3zM440 59l-3-3 7-10 3 0 1 2-8 11zM442 106l-35-6-11-5-2-3 2-2 8 5 32 7 14-1 10-4 12-9 20-27 36-4 24-7 6-4 4 1-2 3-28 10-36 3-6 5-8 14-11 12-13 8-16 4zM746 47l2-1-2 1zM376 53l-4-1 0-4 4 0 2 4-2 1zM744 50l-4 2-3-2 7-3 2 1-2 2zM2 139l-2 0 0-4 19-19 15-32 38-34 8 0 1 2-9 3-13 13-19 15-9 11-7 21-22 24zM132 55l-2 1-1-4 5-3 1 3-3 3zM148 55l-4 1-1-2 5-4 3 2-3 3zM166 84l-3 0 1-4 12-5 24-26 4 0-1 3-22 24-15 8zM154 103l-2-3 2-3 30-14 28-30 8-5 0 2-32 35-13 7-15 5-6 6zM386 99l-6-1 0-2-7 0-13-26-1-16 3-5 2 5-3 8 4 10 13 24 8 0 0 3zM754 57l-4 1 0-2 4-6 0 4 0 3zM168 57l-4-1 6-5 2 1-4 5zM716 58l-3 0 5-6 2 2-4 4zM730 56l-3 0 1-4 4-1 3 1-5 4zM90 59l-4-1 0-4 5 0-1 5zM112 61l-4 0 0-3 6-3-2 6zM294 115l-3-3-18-48-5-6 2-3 3 1 2 8 9 18 11 30-1 3zM390 139l-12-4-14-1-16-13-14-25-6-14-5-20 3-6 7 30 17 32 12 11 22 4 6 6zM580 63l-4-1-1-2 5-4 2 2-2 5zM160 62l-6 0 10-6 2 2-6 4zM568 60l-9 0 7-4 3 2-1 2zM596 78l-4 1 0-3 7-4 21-3 22-7 6-4 4 0-3 4-7 0-14 8-26 5-6 3zM122 67l-2-3 6-5 0 4-4 4zM456 166l-14-2-12 3-14-3-34-15-20-2-8-5-16-15-15-25-15-42 2-1 5 5 10 32 12 24 7 9 12 10 8 4 14 1 34 15 16 4 14-2 14 1 20-10-2 6-18 8zM386 88l-4-2-6-10-6-15 4 1 7 16 7 7-2 3zM594 64l-4 2 0-6 5 0 2 2-3 2zM736 66l-7 0 11-6 5 0-9 6zM60 82l-3 0 0-2 14-12 4-6 5 0-1 4-19 16zM102 66l-4 2-2-4 4-2 2 4zM120 93l-2-5 4-4 0-6 16-18 2 2-2 4-16 16 1 8-3 3zM166 165l-1-5 6-12 3-21 32-14 33-39 23-14 0 4-14 7-10 9-32 38-12 3-16 8-3 5-1 16-8 15zM446 118l-8 1-23-5-23-7-2-3 2-2 18 7 26 6 8 0 18-6 16-11 21-26 33-3 22-8 5 1-5 4-22 6-30 3-22 27-16 10-18 6zM674 91l-3-3 1-2 26-13 13-11-2 6-6 6-29 17zM754 68l-3 0 3-7 0 1 0 4 0 2zM148 69l-2-1 1-4 5-1 1 1-5 5zM684 69l-4-1 0-6 2 0 2 7zM720 70l-2-2 2-3 4-1 3 2-7 4zM86 74l-3 0 1-2 2-3 3-1 1 4-4 2zM114 74l-4 0-2-4 8 0-2 4zM572 72l-8 0-1-2 5-2 4 2 0 2zM540 118l-4-1-1-3 29-1 14-14 12-4 13-11 25-5 18-9 3 0-2 4-12 6-33 9-10 9-12 4-10 12-30 4zM0 78l0-6 2-1 1 3-3 4zM158 76l-4 1 0-3 6-3-2 5zM304 149l-4-1-16-25-16-43-5-6 1-3 4 3 23 56 13 16 0 3zM580 76l-6-2 8-3 3 1-1 3-4 1zM744 77l-4 1-3-2 7-4 0 5zM132 99l-3-5 3-8 12-13 2 3-12 14-2 9zM658 79l-4-1 4-4 2 2-2 3zM672 78l-4-2 2-3 4-1 1 4-3 2zM754 78l0-2 0-3 0 5zM72 89l-3-1 0-2 9-10 4 0-10 13zM100 81l-5-1 3-5 3 3-1 3zM210 132l0-6 6-5 20-28 18-17 3 0-1 4-14 11-20 29-12 12zM552 81l-4 0-2-3 8-3 1 3-3 3zM676 103l-1-3 1-2 38-22 2 1-2 4-38 22zM728 80l-4-2 4-3 4 1-4 4zM754 81l-2-1-1-2 3-2 0 2 0 3zM470 123l-5-1 23-16 18-22 34-4-4 5-28 3-19 22-7 3-12 10zM566 84l-4 0 0-4 5 0 1 2-2 2zM86 88l-1-4 4-2 1 3-4 3zM110 87l-3-3 3-3 3 3-3 3zM554 128l-6 1-3-3 27-5 8-5 4-6 12-5 12-9 26-7 14-8 3 1-3 4-8 4-32 11-10 8-13 5-7 9-24 5zM144 98l-3 0 1-6 8-8 4 0 0 3-6 3-4 8zM584 89l-9-1 3-3 10-1 0 2-4 3zM42 100l-4 0 1-4 9-10 4 0-10 14zM262 90l-5 0 1-4 4 0 0 4zM596 122l-4 2-3-2 3-3 8-2 13-9 35-13 14-10 3 1-15 12-34 13-10 7-10 4zM706 98l-5 0 19-10 8 1 10-3 12 1 3 3-3 2-8-3-16 2-20 7zM754 91l0-3 0-3 0 3 0 3zM46 113l-10-1-2-2 2-3 6 3 4-2 12-16 5-2-1 3-16 20zM98 95l-5-1 3-5 3 1-1 5zM558 93l-14 0-2-3 16-2 2 2-2 3zM568 96l0-4 6-3-2 5-4 2zM82 98l-4-2 4-4 2 4-2 2zM110 99l-4-3 2-3 4 3-2 3zM250 100l-2 0-1-2 5-4 1 4-3 2zM498 128l-1-14 13-16 4-3 20-1 2 4-18 0-7 4-12 16 2 8-3 2zM598 134l-4 0-1-2 15-6 13-8 33-13 10-9 4 2-12 10-30 11-17 11-11 4zM56 118l-2 2-2-2 14-19 4-2 1 3-15 18zM266 104l-4-4 2-4 2 2 0 6zM708 110l-4 0 0-2 19-8 17-2 10 3 4-3 0 4 0 2-18-2-12 1-16 7zM120 107l-2-5 2-3 3 3-3 5zM562 104l-20 1-5-3 1-2 18 2 8-3 1 3-3 2zM696 104l-4 0 0-2 8-4 1 2-5 4zM100 107l-3-1-1-3 4 0 0 4zM86 112l-1-6 3-2 2 2-4 6zM128 129l-2-5 4-6-1-8 3-8 2 6-3 8 0 10-3 3zM194 183l0-4 12-27 38-49 1 3-1 4-32 42-14 28-4 3zM48 141l-3-1 1-3 8-5 22-26 0 4-8 11-20 20zM108 112l-2-4 4-2 1 4-3 2zM110 171l1-5 10-12 11-7 4-5 0-10 4-6-1-8 3-10 5-2-7 20-2 21-14 10-14 14zM256 113l-4-3 4-4 2 4-2 3zM512 132l-3-2 1-14 8-8 12-1 2 4-8-1-9 6-4 8 3 4-2 4zM270 118l-4-6 2-5 3 5-1 6zM428 222l-2-2 2-3 66-33 36-28 22-8 56-9 23-13 29-11 10-8 3 1-2 4-8 6-31 11-21 13-65 11-16 6-14 10-21 19-19 8-48 26zM684 113l-4-1 6-5 1 3-3 3zM706 122l-1-2 3-2 16-6 14-2 16 2 0-6 0 5 0 5-20-2-28 8zM308 117l-5-3 1-5 3 3 1 5zM118 121l-2-5 4-4 1 4-3 5zM698 116l-4 1-1-3 6-2-1 4zM48 155l-4-1 21-18 19-23-1 7-13 16-22 19zM16 189l-4 1-1-4 9-3 14-12 30-19 27-30 3-8 4 0-1 4-27 34-54 37zM390 120l-2-4 4-1 2 3-4 2zM4 209l-4 1 0-4 8-2 66-46 32-40 2 0-1 6-34 40-46 32-23 13zM246 124l0-6 4 0 0 4-4 2zM300 166l-22-30-7-12 0-6 3 2 9 18 16 20 3 6-2 2zM548 166l-6 0 4-4 14-3 52-9 28-16 28-9 8-7 2 2-6 6-32 12-14 10-14 6-28 3-36 9zM36 122l-4 2-3-2 5-4 2 2 0 2zM52 121l0-2 0 2zM262 126l-5-4 3-3 3 3-1 4zM314 127l-4-3 0-4 6 4-2 3zM432 130l-28-7-4-3 2-2 22 7 8 1 3 2-3 2zM488 125l-5-1 3-4 3 2-1 3zM526 125l-5-1 1-4 6 0-2 5zM688 126l-2 1-2-3 4-4 2 2-2 4zM48 126l-4 1-1-3 7-3 1 1-3 4zM302 130l-5-6 1-3 4 3 0 6zM328 128l-5-2 1-5 4 3 0 4zM712 133l-4-1 2-3 24-7 20 3 0-3 0 4 0 2-2 1-16-3-24 7zM456 128l-5-2 3-3 4 0 1 3-3 2zM694 138l-2 1-1-3 7-11 4-1-8 14zM6 220l-6 2 0-4 10-3 24-14 42-30 40-46 2 0 0 6-37 41-43 31-32 17zM24 132l-4 0 6-6 1 4-3 2zM176 171l-2 0-1-3 8-14 4-12-2-6 3-2 6 0 4-6 4-1-1 5-9 3-3 5-1 11-10 20zM202 194l-3-2 0-2 6-6 11-24 22-30 4-2 0 5-21 27-19 34zM400 132l-4 0-3-4 5 0 2 4zM444 132l-4-2 0-2 7 0-3 4zM478 135l-3-3 3-4 2 2-2 5zM536 133l-3-1 0-2 5-4 2 2-4 5zM252 136l-2-4 4-2 2 4-4 2zM268 140l-5-6 1-4 4 4 0 6zM544 142l-3-2 5-3 18-2 20-6 3 3-43 10zM36 136l-3-2 5-3 2 3-4 2zM310 138l-4-1-2-6 6 3 0 4zM440 143l-20-3-13-4-3-4 22 6 12 1 2 1 0 3zM466 138l-4-4 2-3 4 2-2 5zM680 136l-3-2 5-4 2 4-4 2zM322 139l-3-1-1-4 6 2-2 3zM436 178l-6 2-16-4-38-18-12 2-7-2-14-10-12-12 3-2 5 6 21 15 18 1 32 15 16 4 16-2 6 1-12 4zM490 140l-2 2-1-6 3-4 2 4-2 4zM502 139l-3-1 1-5 3 3-1 3zM524 138l-5 0 1-4 6 0-2 4zM6 150l-6 1 0-3 10-4 8-9-2 8-10 7zM6 232l-6 2 0-4 12-4 32-17 43-31 28-34 11-10 2 1 0 5-8 4-35 40-29 18-8 9-42 21zM178 182l-10 0 14-5 9-17 4-16 13-9-1 5-8 8-11 26-10 8zM454 142l-5-2 3-4 4 2-2 4zM672 140l-4 1-2-3 6-2 0 4zM718 143l-3-3 3-2 16-4 18 3 2-1 0 3 0 2-18-3-18 5zM28 144l-3-2 3-3 2 3-2 2zM330 211l-5-1-17-16-32-39-8-15 2-1 2 2 35 47 25 22-2 1zM434 154l-17-2-20-8-5-4 6 0 24 9 10 1 3 2-1 2zM510 206l-4 0 27-24 9-6 42-11 28-2 18-8 15-11 11-5 4 1-2 3-12 4-12 11-20 8-30 3-44 12-30 25zM706 145l-4-1 2-5 4 3-2 3zM242 149l2-7 4 0-1 4-5 3zM260 148l-4-2 2-4 3 2-1 4zM480 147l-4-1 1-4 4 2-1 3zM510 146l-3-2 3-4 3 2-3 4zM534 146l-4 0-1-2 3-3 6 1-4 4zM38 149l-4-1 1-2 5-2 1 2-3 3zM454 155l-13-3-1-2 2-3 6 5 10-3 8-7 2 2-2 4-12 7zM682 149l-4 1-2-2 2-3 4-1 2 2-2 3zM318 150l-5-2-1-3 6 1 1 2-1 2zM364 175l-20-11-16-14-2-2 1-2 3 0 18 16 14 7 3 5-1 1zM696 150l-4 1 0-6 3 1 1 4zM500 153l-4-1 0-5 4 1 0 5zM520 153l-3-1 2-4 5-1-4 6zM666 152l-4 1-1-3 6-2 1 2-2 2zM754 152l-4 1-16-3-10 2-6-2 18-3 16 2 2-1 0 3 0 1zM24 155l-5-1 1-3 4-1 0 5zM218 187l0-5 8-15 14-18 0 5-22 33zM704 158l-4 0 0-2 14-6 5 2-15 6zM252 159l-4-1 1-4 3-1 2 3-2 3zM328 225l-8-3-17-16-40-48-1-4 4 0 37 46 17 18 10 3-2 4zM504 229l-2-1 2-5 42-35 44-12 24-1 24-9 11-12 3-1 2 1-10 12-18 7-8 5-26 1-44 12-44 38zM312 162l-5-4 1-3 5 3-1 4zM486 162l-2 0 1-6 3-2 2 4-4 4zM510 160l-4 0 0-2 6-4 1 2-3 4zM686 161l-4-3 4-3 3 3-3 3zM14 162l-8-1-6 2 0-3 12-3 2 1 0 4zM34 162l-2 0 0-4 4-2 2 2 0 2-4 2zM388 201l-5-1-43-24-18-16 0-4 20 17 43 23 3 5zM674 162l-4 0 2-5 4 1-2 4zM654 174l-3 0 0-4 5-4 2-5 4-1 0 4-6 4-2 6zM708 170l-3-2 1-2 14-6 34 0 0 3 0 2-30-2-10 2-6 5zM24 169l-4-1 0-2 6-3 1 3-3 3zM240 171l2-7 4-1 0 3-6 5zM458 179l-4 0-4-3 12-3 17-9 4 0-3 4-22 11zM458 192l-4 0 4-5 26-12 10-6 4-6 4 0 0 3-12 10-32 16zM696 169l-5-1 5-5 2 3-2 3zM276 189l-22-21 2-3 4 1 7 8 9 12 0 3zM360 211l-27-11-21-18-12-16 2-2 2 2 7 10 21 19 26 12 2 4zM374 207l-40-21-18-16 0-4 22 18 36 19 2 3-2 1zM424 188l-10 1-12-5-30-15-1-3 5 0 32 17 16 5zM134 194l-3 0 3-5 9-7 13-7 8-7 0 6-20 11-10 9zM532 173l-4-1 4-4 6-2-1 4-5 3zM682 172l-5 0 1-4 5 0-1 4zM666 177l-2 0-1-3 5-4 2 2-4 5zM14 176l-8-2-6 0 0-3 16 1 1 2-3 2zM106 179l-4-1 6-7 1 1-3 7zM120 179l-4 0 0-3 7-4-3 7zM236 181l-2 1-1-4 5-7-2 10zM754 176l-30-2-4-2 4-2 26 3 4-2 0 4 0 1zM438 228l-3 0 5-5 16-7 24-14 20-7 22-20 6-3-4 7-25 21-13 3-48 25zM260 186l-12-7-1-3 3-1 10 7 0 4zM406 199l-36-19-4-5 34 18 7 1 1 2-2 3zM644 180l-5 0-1-2 4-2 4 0-2 4zM702 180l-6-2 6-3 2 3-2 2zM688 183l-3-1-1-2 4-3 3 1 1 2-4 3zM716 182l-4 0-1-4 5 0 0 4zM630 185l-3-1 1-4 7 0-5 5zM2 186l-2 0 0-4 6 2-4 2zM656 187l-4 0-1-3 5-3 4 1-4 5zM656 198l-6 1-1-3 11-2 14-13 5 1-17 14-6 2zM750 188l-24-2-4-2 4-2 22 2 6-1 0 3-4 2zM98 190l-5-2 3-4 3 2-1 4zM112 189l-4-1 2-4 3 2-1 3zM164 189l-6-1 9-4-3 5zM190 190l-4-2 6-5 0 5-2 2zM432 192l-4 1-3-3 1-2 8 0 12-4 3 2-17 6zM122 192l-3 0 1-4 4-3 2 1-4 6zM254 196l-12-7-1-3 3-1 11 7 1 2-2 2zM464 264l-4 0 4-5 8-1 38-23 43-37 39-11 20 0 6-1 4 2-4 3-6-2-22 2-34 10-10 6-31 29-19 12-24 10-8 6zM232 193l-5-1 0-4 4 0 1 5zM642 193l-4-1-1-2 6-2 2 2-3 3zM754 198l-22 0-30-7-11 1-1-2 4-2 12 0 30 7 18 0 0 3zM216 197l-4-3 4-4 2 6-2 1zM284 199l-5-3-2-6 6 4 1 5zM152 196l-5-2 5-4 2 2-2 4zM178 196l-4 0-1-4 6 0-1 4zM628 198l-1-4 5-1 0 3-4 2zM664 209l-8-1 10-4 14-12 7 0-23 17zM0 198l0-4 5 0-1 3-4 1zM88 197l-4 1-2-2 4-4 2 2 0 3zM116 203l-12-4-2-4 4 0 4 5 8-2-2 5zM268 198l-5-2 1-3 5 1 1 2-2 2zM454 195l-2-1 2-1 0 2zM266 209l-20-5-8-4-2-4 14 7 16 3 0 3zM428 208l-3 0 5-6 22-8 1 2-2 2-15 5-8 5zM226 248l-54-14-38-20-8-10 0-3 4-4 2 11 38 21 26 7 22 9 12 1-4 2zM166 203l-4 0-3-3 5-2 2 5zM194 202l-6 0-3-2 7-2 3 2-1 2zM418 202l-4-2 4-3 3 3-3 2zM424 375l-4-3 1-6-2-6 1-20 4-24 8-16 11-12 23-16 54-29 10-11 29-24 39-10 25 2 0 2-3 1-16-2-14 2-28 8-31 25-7 10-54 27-22 15-13 14-8 16-5 36 2 21zM76 205l-4 1-2-2 6-4 0 5zM150 262l-10-4-12-10-23-34-12-10 0-4 14 10 4 8 11 13 3 9 15 14 10 4 1 2-1 2zM144 205l-4-1 0-5 3 1 1 5zM230 205l-5-1-4-4 5-1 4 6zM640 205l-4-1 2-4 5 2-3 3zM672 216l-2 0 0-3 16-11 14-3 34 8 20-1 0 2 0 2-22 0-26-7-10 0-8 2-16 11zM226 216l-24-11 0-3 4-1 20 11 1 2-1 2zM292 209l-5-3 1-4 5 4-1 3zM398 207l-4 0-3-5 5 0 2 5zM266 232l-9 0-25-7-10 1-24-11-14-2-13-7 3-2 10 5 14 3 24 11 8 1 6-3 22 7 14 2-6 2zM278 209l-6-1 0-2 2-2 4 1 1 3-1 1zM156 211l-6-2-2-3 5 0 4 4-1 1zM408 212l-4-2 2-4 4 2-2 4zM88 214l-5-4 1-4 4 3 1 3-1 2zM274 220l-14 0-10-2-14-5-3-5 27 9 14 0 2 1-2 2zM502 214l-4-2 1-2 7-4 1 2-5 6zM630 214l-4-2 4-4 2 2-2 4zM654 210l-4 1-2-3 4-1 4 1-2 2zM62 214l-4-2 6-4 1 4-3 2zM124 220l-7-8 1-4 8 10-2 2zM380 217l1-7 3-2 2 4-6 5zM418 217l-2-1 0-3 7-3-5 7zM466 226l2-4 21-12 4 0 0 2-27 14zM438 379l-5-5-3-14 4-32 4-15 11-15 29-20 54-27 6-9 27-24 19-6 18-3 17 3-1 3-8-3-16 1-26 8-10 7-26 28-52 25-28 19-8 10-5 12-6 36 6 18-1 3zM224 236l-6 0-22-9-20-4-19-11 5-1 20 10 16 3 25 10 1 2zM340 215l-4 0-4-3 6-1 2 1 0 3zM366 217l-4-5 6 0 1 2-3 3zM670 228l-4 0 0-4 8 1 22-14 12 1 18 6-6 2-6-4-14-2-6 1-10 9-14 4zM134 285l-12-9-35-46-9-10-5-2-1-4 4 0 10 9 36 47 6 6 7 4-1 5zM144 272l-14-6-41-52 1-1 6 4 26 35 14 14 8 2 2 2-2 2zM332 236l-6 1-14-4-8-12-8-4 0-4 12 7 6 9 8 4 10-1 2 2-2 2zM642 219l-3-3 3-3 3 3-3 3zM286 220l-6-2 6-3 2 3-2 2zM350 220l-3 0-1-4 5 0-1 4zM382 235l-2 1 0-4 12-16 4-1 0 4-14 16zM336 260l-6 1-21-5-13-4-2-4 4 0 6 3 22 6 8 0 16-11 15-14 11-14 3 0-15 20-28 22zM656 223l-4 0-1-3 8-2 1 2-4 3zM8 244l-8 2 0-4 18-5 32-18 4 1 0 3-8 2-22 13-16 6zM132 226l-4-1-4-5 2-2 6 4 0 4zM406 225l-3-1 3-5 3 3-3 3zM754 222l-2 1-10-2-8 3-5-4 25-2 0 4zM140 306l-7-2-19-19-27-37-17-19-10-5 2-2 4 0 10 8 56 69 4 3 10 0 0 2-6 2zM334 248l-19-2-12-4-2-4 3-1 6 4 22 4 14-10 12-13 4-1 0 3-10 10-18 14zM480 232l-3 0 2-4 13-8 4 2-16 10zM448 350l-3-2 1-22 4-11 8-9 29-20 51-23 25-29 8-6 23-7 12-1 5 2-3 3-8-2-30 10-33 35-45 19-32 22-9 13-3 18 2 8-2 2zM620 227l-3-3 3-3 3 3-3 3zM634 226l-4-2 0-3 4 1 0 4zM642 266l-6 1-5-1 19-8 18-21 16-4 9-5 5-6 3 0 0 4-10 8-13 3-10 5-13 16-13 8zM338 230l-1-4 5-2 0 4-4 2zM244 262l-30-4-26-9-22-4-22-13-4-6 28 15 23 5 27 9 20 3 6 4zM300 230l-2 2-7-4 5-2 4 4zM418 231l-4-1 0-2 4-3 2 3-2 3zM712 230l-4 1 2-6 4 1-2 4zM282 232l-10-2 12-2 2 2-4 2zM434 244l-4 0 0-2 27-14 5 0-4 4-20 9-4 3zM644 234l-2 0-1-4 3-3 3 3-3 4zM722 234l-2 0 1-4 4-2 1 4-4 2zM396 236l-2 0 0-4 4-3 1 3-3 4zM428 234l-2-2 1-2 7-1-6 5zM686 290l-3 0 20-20 31-36 8-5 5 1-1 2-11 6-29 34-20 18zM138 319l-6-1-16-14-14-15-21-31-21-21-12 0-12 6-7 7-29 9 0-4 26-8 11-9 14-6 13 3 18 19 26 36 22 22 10 3 8-4 4 1-2 3-12 4zM480 244l-5 0 17-11 6-1-3 4-15 8zM478 367l-10-3-10-16 0-20 4-10 34-24 46-19 21-21 11-14 24-8 8 2-26 7-36 37-46 19-32 23-5 8 0 16 9 16 9 4 1 2-2 1zM628 236l-4-2 1-2 5 0-2 4zM654 239l1-7 3-2 2 4-6 5zM700 293l-3-1 1-2 16-14 26-32 12-6 2-7 0-1 0 4 0 2-14 14-26 32-8 4-6 7zM284 293l-6-1-44-19-24-5-28-9-20-2-20-12-9-7-1-4 2-1 6 6 24 14 19 3 27 9 32 7 44 20-2 1zM238 237l-10-1 6-3 6 3-2 1zM468 238l-3-2 2-2 6 0-5 4zM616 236l-4 1-4-3 6-1 2 3zM696 246l-4 1-1-3 7-4 4-5 4-1-1 4-9 8zM338 273l-4 1-24-6-19-8 5 0 34 10 6-1 22-15 20-19 2 1-4 7-6 4-4 5-28 21zM408 241l-3-3 3-4 3 4-3 3zM250 241l-4 1-5-4 7-1 2 4zM292 242l-10 1-12-1-1-2 3-2 12 2 6-2 3 2-1 2zM668 291l-4 0 0-3 8-4 24-22 6-10 16-16 0 4-22 26-28 25zM422 245l-4-3 2-3 4 3-2 3zM442 252l-4 2-2-2 22-12 0 4-8 2-8 6zM636 244l-3-2 5-4 2 2-4 4zM632 256l-6 0 2-3 16-4 6-9 2-2 2 2-10 13-12 3zM260 246l-4-4 2-2 5 2-3 4zM388 247l-4-3 2-3 4-1 1 4-3 3zM482 327l-3-3 9-10 14-10 46-19 24-22 11-15 13-4 12 0 3 2-1 2-10-1-14 4-11 15-27 24-44 17-17 13-5 7zM624 247l-5-1 1-3 6 1-2 3zM644 278l-4 1-2-3 18-9 18-19 11-4 0 2-9 6-13 14-19 12zM728 279l-2-1 2-3 17-19 9-14 0 4-6 12-20 21zM136 332l-14-6-18-17-12-14-21-31-13-14-8-1-10 4 1-3 11-5 6 1 18 19 23 33 31 30 8-1 14-5 4 0-2 3-18 7zM238 250l-8-2 0-2 8 0 2 2-2 2zM400 255l-3-7 3-4 2 6-2 5zM468 250l-4 0 0-2 8-2-4 4zM250 255l-4-2 0-3 5 0 1 2-2 3zM290 258l-12-6-6 2-3-4 16 2 5 6zM414 255l-4-3 2-4 4 4-2 3zM374 258l0-4 5-2 0 4-5 2zM264 258l-4 2-3-4 5-2 2 4zM390 259l-4-3 2-3 4 3-2 3zM428 258l-4 1 0-5 6 0-2 4zM454 258l-6 0 8-5 1 3-3 2zM618 258l-4 0-1-4 8 2-3 2zM646 290l-2 0 1-4 15-7 24-23 6-2 0 3-21 19-13 10-10 4zM0 272l0-4 4-2 34-11 2 3-2 3-6 0-32 11zM586 274l-6 0 8-15 12-4 5 1-1 3-8-1-10 8 0 8zM744 278l-2 2-2-2 13-14 1-8 0 4-10 18zM54 263l-4 0-2-3 2-2 4 0 2 2-2 3zM350 278l-4 2 0-2 20-16 5-2-2 4-19 14zM408 265l-4-1 0-4 4 0 0 5zM426 278l-3 0 1-2 6-10 17-6-13 8-8 10zM342 285l-14 0-30-9-26-11-2-3 4-1 20 10 34 10 8 1 10-2-4 5zM270 301l-34-16-24-4-30-10-26-2-3-5 31 4 26 9 20 3 40 16 2 2-2 3zM352 299l-27-3-26-8-54-24 7-1 4 5 6 0 32 15 32 10 18 1 10 4-2 1zM384 268l-7 0 5-4 2 4zM394 271l-2-5 4-2 1 4-3 3zM418 271l-3-1 1-4 4-3 1 3-3 5zM436 282l0-4 4-4 14-8 6 0-24 16zM612 270l-4-2 0-2 20 0-4 3-12 1zM126 342l-12-8-26-26-28-40 2-2 2 1 23 35 13 14 20 19 8 3-2 4zM600 272l-4 1 0-5 5 0-1 4zM0 286l0-5 6-3 25-8 11-1 10 2 3 3-1 2-10-3-18 2-18 6-8 5zM746 292l-2-1 1-3 9-19 0 4-8 19zM358 288l-4 2-3-2 19-15 4-1-2 5-14 11zM406 279l-3-5 3-2 3 4-3 3zM496 341l-3-1-1-12 13-12 11-6 34-11 22-22 4-1-2 5-24 23-32 9-10 5-13 12 1 11zM622 281l-4 1-1-4 9-1 4-2 4 1-12 5zM260 309l-4-1-4-5-14-6-31-5-9-5-30-6-14-1-8 3-2-3 18-3 30 5 18 7 21 3 15 5 13 7 2 2-1 3zM362 301l-9-1 11-5 16-17 4-2-2 6-20 19zM392 284l0-6 2-2 2 4-4 4zM608 283l-4-1 2-5 4 3-2 3zM594 286l-3-4 3-3 3 5-3 2zM724 290l-3-4 5-7 0 9-2 2zM736 287l-1-3 5-6 2 2-6 7zM118 353l-2 0-4-7-6-3-18-18-16-18-10-16-6-4-22-2-20 6-14 9 0-4 12-8 19-6 13 0 8 4 8-2 28 36 26 26 5 2-1 5zM414 290l0-6 4-4 1 4-5 6zM410 361l-2-3-1-18 7-18-2-8 14-26 8-4-17 28-6 26 1 18-2 5zM554 316l-6-2 8-4 26-26 2 0 0 4-30 28zM754 296l0-4 0-9 0 4 0 9zM370 309l2-7 19-16-2 6-19 17zM376 322l-2-4 30-34 1 4-8 12-21 22zM630 290l-4 1-1-3 10-2-5 4zM252 320l-4-1-8-10-36-5-16-9-24-2-24 1-4-2 0-4 10 3 12-2 26 3 20 8 30 4 13 6 5 6 0 4zM616 294l-4-2 2-3 4 1-2 4zM402 312l-4 2-1-2 15-21 0 6-10 15zM604 296l-2 1-3-3 3-3 3 1-1 4zM680 296l-4 0-1-2 7-3 1 1-3 4zM714 297l-4-1 2-4 4 1-2 4zM104 356l-2 2-4-7-36-37-2-8-10-7-20-2-18 8-12 11 0-5 13-11 16-6 11-1 14 3 14 19 31 33 6 4-1 4zM366 315l-48-9-26-8-6-4 0-2 36 11 40 8 6-2 1 3-3 3zM530 348l-3 0 1-5 6 0 20-10 18-23 16-15 4-1 0 4-17 14-19 24-26 12zM640 298l-6 0 6-4 0 4zM736 299l-5-3 3-3 4 3-2 3zM634 312l-4-2 2-2 8-1 8-5 4-6 4 1-1 3-11 8-10 4zM668 302l-4 1-2-3 4-2 2 4zM690 305l-3-3 3-5 2 3-2 5zM626 303l-4 0-1-3 3-2 4 1-2 4zM702 305l-2 1 0-4 2-3 2 3-2 3zM724 308l-3-8 3-2 3 4-3 6zM748 304l-4 0 4-5 3 1-3 4zM754 302l0-3 0 3zM238 318l-2 2-8-3-30-2-14-8-30-2-4-3 14-1 22 3 14 7 24 2 12 3 2 2zM284 306l-4-1-2-3 6 0 2 2-2 2zM612 307l-4-3 2-3 5 3-3 3zM746 320l-2 2-2-2 4-6 8-12-8 18zM538 358l-3-2 1-2 8-2 16-10 26-30 10-8 4 0 0 4-8 3-29 33-25 14zM678 309l-4-3 2-3 4 3-2 3zM712 310l-2-2 2-4 3 4-3 2zM0 332l0-5 15-15 7-4 18-3 13 5-1 3-12-5-18 3-22 21zM310 314l-4 1-12-5-2-4 16 5 2 3zM274 313l-5-1 0-4 6 2-1 3zM702 315l-5-3 3-6 3 6-1 3zM732 319l-1-1 3-9 4-2 1 3-7 9zM626 334l-3-2 7-11 18-6 8-5 12 2 0 3-10-1-24 9-4 3-4 8zM722 316l-1-4 3-4 1 6-3 2zM622 317l-3-1 1-5 4 2-2 4zM690 320l-5-4 3-5 2 3 0 6zM230 329l-34-3-14-7-20-2-2-3 2-2 20 3 16 8 30 2 4 3-2 1zM288 318l-4 0-3-4 6 0 1 4zM366 327l-4 0-22-6-20-2-5-3 3-2 26 4 20 5 2 4zM386 339l-3-3 3-6 0-6 5-8 5-3 2 1-11 16 1 6-2 3zM514 328l-3 0 1-2 4-3 26-10 6 1-34 14zM608 318l-6 0 0-2 6-3 2 3-2 2zM752 330l-4 0 2-3 4-14 0 5-2 12zM224 578l-2 2-3-2-29-37-5-15-7-12-1-8-17-30-36-50-9-22-7-7-10-5-6-8-7-30-25-26-6-3-22-6-16 13-1 8 27 16 18 17 8 3 7 8-3 0-18-12-14-13-24-13-6-12 13-14 15-4 10 5 10 1 32 33 5 29 17 12 8 10 9 20 33 45 16 31 15 36 31 40zM678 320l-4-1-1-3 6 0-1 4zM278 325l-16-3-3-4 3-2 6 6 8 0 3 2-1 1zM714 322l-4 0-1-4 5 0 0 4zM298 327l-3-3-1-4 6 2-2 5zM548 366l-6 0 28-18 24-28 4-2 1 2-25 29-26 17zM400 362l-4-2 2-6-3-16 4-14 5-3-5 19 1 22zM616 327l-3-3 5-3 1 3-3 3zM704 328l-7-2-3-4 6 1 4 5zM376 346l-32-13-34-5-3-4 3-1 8 4 20 1 14 4 11 4 5 5 8 1 2 2-2 2zM518 349l-2 1-2-6 6-10 28-11 2 1-2 4-27 10-2 2-1 9zM754 531l0-23-6-22-1-34-19-52-6-24-10-20-10-13-14-10-28-7-22 8-2-2 2-2 22-8 14 5 10 0 17 11 13 14 12 23 5 23 19 51 2 11 1 30 1 20 0 13 0 8zM724 330l-4-2 2-4 4 2-2 4zM738 329l-2 1-1-4 5-2-2 5zM242 330l-4-2 2-3 5 3-3 2zM288 332l-7-6 5 0 2 6zM480 356l-5-2-7-12 1-12 3-4 3 0-4 10 2 10 8 6-1 4zM78 366l-24-27-22-9 0-2 4-1 18 7 24 24 0 8zM272 347l-32-6-44-3-24-9-8 2-3-1 5-4 12 1 20 8 48 3 24 5 3 3-1 1zM278 339l-27-9 5-2 22 6 2 2-2 3zM544 381l-6-1 34-19 10-9 20-24 4-1 0 3-25 28-13 10-24 13zM374 334l-4-4 4-2 3 4-3 2zM754 506l0-22 0-32-14-53-5-23-14-28-15-19 6 2 9 9 17 35 5 23 11 58 0 22 0 28zM754 333l0-1 0-4 0 5zM506 338l-2-4 4-4 1 4-3 4zM28 339l-5-3 3-4 3 2-1 5zM130 354l-3 0 1-4 6-4 4-6 14-6 6 0-21 12-7 8zM294 340l-5-2 1-5 4 3 0 4zM306 340l-4-2 1-4 5 2 1 2-3 2zM540 394l-4 1-1-3 23-9 16-10 16-13 22-25 4 0-1 3-31 32-21 14-23 10zM754 402l0-32-12-32 4-5 1 9 7 25 0 19 0 16zM484 343l-2 0-3-3 3-5 3 3-1 5zM720 408l-5-4-2-20-5-12-10-16-10-10-24-7-10 1-8 4-3-2 1-2 18-5 22 5 12 8 8 10 10 18 6 32zM754 435l-2-36-7-29-16-32 1-4 3 2 17 38 4 24 0 16 0 21zM754 344l0-6 0-3 0 7 0 2zM318 342l-4-2 2-3 5 1 1 2-4 2zM388 362l-26-8-16-8-16-5-2-3 18 4 34 15 8 1 2 2-2 2zM86 416l-18-21-38-28-12-8-9-3-8-12 0-4 3-1 3 9 7 7 21 11 15 13 24 16 13 17-1 4zM68 366l-4 0-14-15-16-8-1-3 4 0 13 6 16 16 2 4zM336 376l-40-14-66-11-34-1-24-8-6 1-16 8-12 13-2-2 1-4 11-10 16-8 8-2 26 9 34 1 72 12 12 7 18 5 2 2 0 2zM632 344l-4 0-1-2 7-2 1 2-3 2zM286 349l-5-1 1-4 5 2-1 3zM594 376l-4 0 27-30 3-2 5 0-31 32zM388 350l-4 0-1-4 5 0 0 4zM506 351l-4-1 2-5 3 1-1 5zM754 360l0-10 0-6 0 10 0 6zM298 352l-4-2 2-3 4 0 2 3-4 2zM314 354l-4-1-4-3 6-2 2 6zM400 373l-18-1-23-6-19-11-16-4-1-3 18 4 21 11 22 6 14 0 2 4zM492 354l-5-2 5-4 2 2-2 4zM754 581l-2-2-9-23-19-26-13-40 3-8-1-16-12-46 2-22-4-20-7-10-14-15-16-3-10 4-3-2 3-3 12-1 18 3 10 11 10 15 5 25-3 16 13 46 0 14-2 6 1 8 10 32 20 30 8 27zM640 355l-5-3 6-2 2 2-3 3zM400 396l-14 0-38-9-20-1-36-13-58-10-40-1-20-8-12 3-9 7-5 8-2-4 9-10 17-8 26 9 30 0 64 11 44 16 6-4 46 11 32-2 5 3-3 2-8-2-14 2zM512 364l-1-6 3-4 2 4-4 6zM608 381l-3-3 11-14 10-10 6 0-10 8-14 19zM416 384l-8-2-18 3-32-7-12-4-10-9-17-5-1-4 18 6 18 11 32 8 24 0 6-2 2 3-2 2zM458 383l-6-1-6-9-5-13 1-5 2 1 1 8 6 10 7 9zM524 364l-1-6 3-3 2 3-4 6zM2 370l-2-13 4 7-2 6zM116 373l-5-5 0-8 3-3 2 16zM484 379l-13-1-9-4-4-4-6-12 2-2 2 2 3 8 7 6 10 4 8-2 1 2-1 3zM502 363l-4 0 0-5 4 0 0 5zM126 367l-3-3 3-6 2 6-2 3zM664 367l-4-3 0-4 4 0 0 7zM102 372l-3-8 3-3 1 5-1 6zM172 367l-6-1 1-2 6-2 2 2-3 3zM488 366l-6 0-1-2 7-3 2 3-2 2zM620 387l-2 1-1-6 7-10 10-9 6-1 0 2-8 4-7 8-5 11zM652 366l-4 0-1-4 5 0 0 4zM704 482l-3-2 1-14-13-42 0-36-2-8-15-16 2-4 11 12 7 12 2 16-1 20 12 46-1 16zM410 373l-3-3 3-5 3 5-3 3zM508 376l-1-6 3-5 1 5-3 6zM534 372l-2 0 0-4 4-2 3 2-5 4zM80 429l-20-25-46-32-2-5 14 7 40 30 14 19 0 6zM82 377l-3-1-3-4 2-6 4 11zM236 374l-42 0-10-2-3-4 3-1 14 4 34 0 4 1 0 2zM520 378l-2-2 4-10 1 8-3 4zM138 376l-4-2 2-6 3 4-1 4zM162 376l-2 2-3-4 5-5 0 7zM496 376l-4-2 4-4 3 2-3 4zM638 410l-4 0-4-9-1-15 5-8 10-6 2 2-8 4-6 10 1 10 5 12zM682 437l-3-7-1-36-3-10-7-6-2-7 4 2 11 15 1 14-1 22 3 10-2 3zM8 382l-4-3 0-7 7 8-3 2zM126 400l-10-11-12-8-2-7 2-1 6 8 12 8 5 9-1 2zM126 381l-8-7 6 0 3 4-1 3zM174 378l-4-2 2-3 4 2-2 3zM460 422l-4 1-34-16-26 1-21-2-52-10-25-8-6-3-46-6-5-3 1-2 4 0 40 6 40 13 22 3 30 7 46 1 12 4 16 10 6 0 2 4zM658 381l-5-3 3-4 3 4-1 3zM146 396l-2-2 0-12 4-6 1 4-3 16zM504 384l-1-4 5-4-1 6-3 2zM534 408l-2 0 2-4 22-7 30-19 3 0-4 6-21 13-30 11zM240 386l-44 0-12-1-3-3 3-2 8 2 32 0 14 2 2 2zM530 386l-4-2 4-4 3 2-3 4zM248 626l-3 0-5-6-11-6-39-33-15-5-10-8-7-10-6-14-26-26-21-40-13-13-25-35-21-23-18-11-16-14 6 1 12 10 17 11 15 14 44 56 25 44 25 24 5 14 8 10 11 9 10 1 38 33 19 13 1 4zM430 387l-4-2 0-4 4 1 0 5zM136 393l-4-3-2-7 5 3 1 7zM158 393l-2-5 2-4 3 4-3 5zM172 390l-4-2 0-3 2-1 3 2-1 4zM446 390l-6-2 0-6 5 4 1 4zM468 389l-4 0-4-5 8 1 0 4zM492 388l-4-2 2-3 4 1-2 4zM516 391l-3-3 3-4 3 4-3 3zM598 388l-5 0 3-5 3 1-1 4zM646 406l-6-14 2-6 4-3 1 3-4 6 5 12-2 2zM168 511l-4-3-19-34-31-41-7-21-7-6-10-4-14-17 6 1 10 12 16 10 9 22 31 42 21 36-1 3zM670 412l-2 1-1-3 0-10-3-14 4 2 2 6 0 18zM288 396l-40-5-3-3 5-1 30 6 8-1 3 2-3 2zM480 392l-6-4 6-1 0 5zM610 392l-4 1 0-5 3 0 1 4zM34 412l-7-2-19-14-2-6 3 0 5 6 21 14-1 2zM502 396l-3-2 3-4 3 2-3 4zM658 417l-3-3 1-14-4-8 2-3 3 3 2 10 1 12-2 3zM244 400l-24-3-26 1-14-2-3-4 21 3 30-1 12 2 4 4zM458 396l-4 1-3-5 5 0 2 4zM588 396l-4 2-2-2 4-4 2 0 0 4zM638 426l-16-14-5-16 1-5 2-1 0 12 7 12 9 6 3 4-1 2zM438 399l-9-3 5-2 5 4-1 1zM526 400l-4-2 4-4 3 2-3 4zM158 427l-4-2-9-11-4-12 3-7 4 15 6 10 7 4-3 3zM490 401l-4-3 0-2 6 0 1 2-3 3zM600 400l-4 2-1-4 3-2 2 4zM294 442l-12-4-20-10-12 1-32-7-24-1-32-6-8-11-1-4 3-3 4 11 8 5 24 4 26 1 30 7 16 0 22 12 8 1 0 4zM170 404l-4-2 0-5 6 3 1 2-3 2zM454 435l-38-18-14 3-24-2-53-10-21-6-6 0-6 5-4-3 14-6 24 7 52 9 20 2 20-2 36 16 2 2-2 3zM474 401l-6 1-3-4 5-1 4 4zM514 403l-5-1 3-4 4 2-2 3zM8 409l-7-3-1-7 10 9-2 1zM244 596l-11-12-2-10-31-41-30-65-34-46-10-22 2-2 4 4 7 18 11 13 3 7 9 8 10 15 31 67 29 40 6 15 7 7-1 4zM280 408l-22-4-6 0-5-2 5-2 14 2 6 3 8-2 2 3-2 2zM448 405l-4-1-4-5 6 1 2 5zM574 404l-3-2 7-3 0 3-4 2zM610 406l-3-2 1-4 4 2-2 4zM416 454l-4 0-14-10-6-2-24-2-60-13-12 2-8 0-22-12-17-1-23-6-41-2-7-2-1-2 53 3 20 6 24 3 8 7 6 2 20-2 60 14 24 1 10 4 12 8 2 4zM498 410l-2 0 0-4 6-2 0 3-4 3zM458 410l-4-1-1-3 6 0-1 4zM486 410l-4 1-3-5 5 0 2 4zM524 441l-2-1 0-4 8-16 8-5 28-9-2 5-30 10-10 20zM588 411l-4-1 2-5 4 1-2 5zM470 415l-4-1 1-4 3 0 2 2-2 3zM526 413l-4 1-2-4 6-1 1 1-1 3zM600 415l-3-3 1-3 4 1-2 5zM754 549l-8-29-4-10-6-22-1-34-11-32-2-13 4 6 12 37 2 12 0 24 5 20 9 26 0 6 0 9zM20 422l-6-8 0-3 6 5 0 6zM82 470l-26-38-8-5-14-15 2-1 6 3 20 21 20 29 2 4-2 2zM404 433l-36-5-60-13-18 3-4-1-1-3 9 0 10-4 66 15 32 3 3 2-1 3zM502 432l-3-4 4-10 5-6 4-1 0 3-7 8-3 10zM578 416l-4 1-2-3 2-2 4 0 0 4zM614 418l-5-2 1-3 4 1 0 4zM102 420l-4 0-2-7 4 2 2 5zM648 420l-4-2 0-4 4 0 0 6zM754 573l-1-23-21-32-8-28 1-28-14-44 1-5 2 1 14 46 0 28 7 28 19 39 0 13 0 5zM490 424l-1-4 4-4 1 4-4 4zM110 584l-4 0-12-15-8-2-10 1-18-8-6-7-7-17-1-18-8-18-11-36-8-8-13-39 5 3 11 32 8 12 8 19 3 15 10 22-1 10 7 22 7 7 14 5 16 0 10 8 8 12zM480 423l-4-2 2-4 4 3-2 3zM592 423l-4-1 0-4 6 2-2 3zM670 425l-4-3 2-5 3 3-1 5zM38 437l-4-9-6-6 2-3 10 12-2 6zM540 433l-2 1-1-2 2-4 13-6 14-3 3 3-3 3-6-2-12 4-8 6zM92 427l-4-3 0-3 4 2 0 4zM528 467l-4-1-4-4-6 0-7-10 4-8-1-8 4-12 4-4 2 2-5 8-4 24 9 8 8 0 0 5zM622 427l-5-1-1-4 4 0 2 5zM62 519l-4-1-7-12-7-26-9-20-7-10-8-22 0-5 6 9 5 16 17 30 5 22 4 10 6 6-1 3zM248 441l-22-6-34-2-20-4-7-5 29 5 36 3 18 5 0 4zM468 430l-3-4 3-3 3 3-3 4zM580 430l-4-2 2-4 4 2-2 4zM606 430l-5-4 1-3 6 3 0 3-2 1zM658 431l-4-5 2-3 4 5-2 3zM450 444l-4 2-35-20 3-2 12 5 16 11 8 2 0 2zM640 426l-2 0 2 0zM648 436l-5-4-1-5 5 3 1 6zM48 582l-4-1-14-19-10-22 0-16-10-22-6-20 1-24-5-17 0-11 9 28-3 10 2 16 5 16 11 23 1 19 10 22 15 16-2 2zM216 587l-6-3-14-14-4-10-14-15-6-19-12-6-6-6-21-36-35-46 2-3 3 1 33 46 21 36 7 7 6 0 3 3 10 24 33 41zM478 437l-2 0-1-3 5-4 1 4-3 3zM594 438l-3-4 1-4 4 2-2 6zM660 458l-2 2-5-2-25-24-2-5 6 3 28 26zM490 438l-2-4 2-4 3 4-3 4zM670 439l-4-3 2-4 3 2-1 5zM184 568l-14-13-7-19-13-9-12-14-17-31-36-46 1-3 10 9 20 27 29 47 9 10 11 6 6 18 14 14-1 4zM170 442l-9-4-2-4 12 4 2 2-3 2zM546 444l-1-4 3-3 10-5 5 2-3 2-6 0-8 8zM554 509l-2 1-1-4 20-32-1-34-5-6 5-1 2 3-2 6 3 4 2 16 0 14-21 33zM620 440l-5-2 0-4 5 2 0 4zM288 454l-29-14-1-4 28 12 2 2 0 4zM396 455l-10-3-20 0-62-13-2-3 4-1 64 14 22 1 4 2 0 3zM426 446l-15-6-2-4 4 0 12 6 1 4zM464 441l-3-3 3-4 3 4-3 3zM572 500l-2-2 9-12 4-10 0-16-3-20 2-5 2 3 2 18 0 22-4 10-10 12zM82 506l-10-12-4-22-20-32 0-3 4 2 18 28 4 9 0 10 3 10 7 6-2 4zM536 444l-4-2 4-5 2 5-2 2zM606 448l-3-6 1-4 2 0 2 4-2 6zM664 450l-10-8-1-4 5 2 7 6-1 4zM186 444l-7-4 3-2 8 4-4 2zM488 446l-2 1-3-3 5-5 0 7zM498 456l-4-1 0-3 4-4 0-6 2-4 3 4-5 6 0 8zM674 446l-2-2 0-5 5 5-3 2zM70 509l-5-3-5-11-4-19-17-30-1-5 4 3 18 30 3 18 8 14-1 3zM244 453l-10-5-28-4-8 1-5-3 19-1 18 3 12 4 2 2 0 3zM578 509l0-5 10-10 5-10 2-14-3-24 2-5 5 23-1 16-6 14-14 15zM474 449l-4-1 4-5 2 3-2 3zM560 451l-4-3 2-4 4 2-2 5zM648 469l-2 1-2-2-3-6-15-15 0-4 4 2 16 17 2 7zM688 460l-3-2 0-6-3-6 2-3 3 3 3 10-2 4zM280 463l-8-6-18-7-3-4 27 10 3 4-1 3zM524 453l-4-3 2-5 3 5-1 3zM372 465l-66-14-6 0-3-3 3-1 12 1 38 8 14 5 8-1 4 2-4 3zM436 453l-4 0 0-5 5 2-1 3zM460 452l-4-2 2-4 3 2-1 4zM734 686l-3-2 1-8-4-4-17-34-19-26-6-13-13-43-8-18-4-18-19-28-7-18-19-21 0-5 18 18 13 28 17 24 5 22 22 62 23 34 18 34 0 6 4 6-2 4zM180 456l-6-4 0-4 6 4 0 4zM536 492l-4 2-1-2 10-10 8-14 0-8-6-8 3-2 6 9 1 9-12 20-5 4zM194 456l-4 0-1-4 5 0 0 4zM534 456l-4-2 4-3 3 3-3 2zM208 456l-4 1-2-3 4-2 3 2-1 2zM220 458l-4 0-1-4 5 0 3 2-3 2zM448 458l-4 1 0-5 5 0-1 4zM484 458l-4 0 0-4 5 0-1 4zM610 462l-4-1 0-8 4 5 0 4zM674 459l-4-1-1-2 5-3 3 3-3 3zM234 461l-5-1-1-4 6 2 0 3zM354 473l-62-12-3-5 1-1 8 5 8-1 40 10 6-1 3 2-1 3zM426 458l-4 2-3-4 3-2 4 4zM470 461l-5-1 3-4 3 2-1 3zM544 502l-2 1-2-3 6-6 13-20 2-8-1-8 2-3 2 5-1 14-19 28zM258 463l-5-1-2-4 5 0 2 5zM404 463l-4-1 0-5 6 3-2 3zM254 592l-10-14-5-12-29-40-29-62 0-4 5 4 29 62 40 60 1 4-2 2zM392 476l-2 1-2-3 3-6-12-6 2-2 5 0 6 4 1 8-1 4zM502 466l-3-2 1-4 4 2 0 4-2 0zM246 469l-4-3-1-4 3 0 2 7zM436 466l-6 0 6-5 3 1-3 4zM456 466l-4 2-1-2 7-6 1 4-3 2zM198 470l-3-4 1-3 4 3-2 4zM210 470l-3-4 3-2 3 2-3 4zM272 468l-6 0-3-4 7 1 2 3zM416 469l-4 0 0-5 4 0 0 5zM492 469l-4 0 0-5 4 0 0 5zM540 468l-4-2 2-4 4 2-2 4zM224 472l-4-3 2-3 4 2-2 4zM334 481l-28-5-12-5-8 0-4-5 48 11 3 1 1 3zM480 470l-4 1-1-5 5 0 0 4zM676 597l-8-15-7-24-9-20-1-14-21-30-3-10-11-18 4 1 8 12 7 17 19 27 3 17 21 54-2 3zM658 472l-3-4 3-2 2 4-2 2zM672 470l-4 1 0-5 4 2 0 2zM680 470l-3-2 3-4 3 4-3 2zM694 487l-4-3-2-6 4-13 2 3-2 8 2 11zM78 582l-27-12-11-14-8-20 0-14-15-40-3-12 2-4 2 2 9 32 9 20 1 18 6 16 7 10 6 5 18 8 8 1-4 4zM390 537l-2 0 0-3 5-8 1-8 12-29 8-10 8-5 4-6 4-1-2 5-16 14-5 8-10 26-1 10-6 7zM406 527l-2-3 14-32 18-17 10-7 6 0-18 13-14 15-11 28-3 3zM238 477l-4-3-2-4 4 0 3 6-1 1zM254 474l-7-4 1-1 6 1 2 2-2 2zM466 475l-6-1 6-5 2 3-2 3zM522 477l-12-3-1-4 13 3 0 4zM366 476l-4-1-1-3 3-1 3 1-1 4zM378 476l-3-2 3-4 3 4-3 2zM406 476l-4 2 0-6 4 0 0 4zM610 478l-2 1-2-3 0-4 2-2 3 4-1 4zM88 478l-4 1 2-6 5 3-3 2zM272 604l-4-3-5-17-12-20-29-42-22-44 0-5 4 3 2 8 19 36 39 58 5 16 4 6-1 4zM500 481l-3-3 1-4 4 2-2 5zM534 479l-5-1 3-4 3 2-1 3zM216 484l-3-4 1-4 4 3 0 4-2 1zM268 481l-5-1 1-4 5 2-1 3zM296 482l-10 2-12-6 0-2 4-1 4 5 12-1 2 3zM420 531l-4-1 0-2 9-26 16-16 17-10-6 8-10 5-4 7-11 10-7 25zM486 495l-2-1 2-10-1-6 3-2 1 14-3 5zM748 685l-4-2-5-17-18-36-21-28-23-64-4-20-19-28-5-14 4 2 3 8 19 28 13 41 3 17 10 24 11 18 14 16 1 8 15 26 6 21zM242 485l-3-5 1-4 4 4-2 5zM476 485l-4-3 2-4 4 2-2 5zM666 486l-4-6 2-3 3 3-1 6zM680 486l-4-4 0-4 4 0 0 8zM322 643l-4-1-16-22-3-10-9-18-5-16-10-20-35-50-9-18-5-6 0-3 4 1 9 18 22 34 20 26 26 62 14 18 1 5zM344 485l-5-5 6 0-1 5zM98 489l-4-3 2-5 4 5-2 3zM254 486l-3-2 3-3 3 3-3 2zM360 487l-4-1-2-4 6 0 0 5zM372 488l-2 1-2-3 2-4 4 2-2 4zM360 544l-2 0 0-4 6-5 3-5 5-22 9-18 0-6 3-2 2 4-9 18-8 30-9 10zM512 488l-3-2 1-4 5 2-3 4zM88 493l-5-3 1-7 5 7-1 3zM380 534l-2-4 6-19 10-26 4-3 1 4-19 48zM462 494l-2-1-1-3 5-7 2 3-4 8zM526 490l-4-2 0-3 4 0 2 3-2 2zM618 495l-3-3 1-10 4 8-2 5zM286 607l-4-4-11-29-41-62-12-22 0-6 52 81 8 15 9 24-1 3zM352 518l-18-23-22-6-8 0-1-3 5-1 28 6 14 16 2 11zM500 491l-4-1 2-6 3 4-1 3zM604 496l-2-2 1-6 3-3 1 5-3 6zM700 558l-4-2-6-17-7-27-15-21-2-5 2-1 18 26 7 27 8 16-1 4zM276 493l-4-1 0-4 5 0 1 2-2 3zM754 618l0-9-10-6-12-13-13-30-13-14-6-13-7-25-11-16 0-5 13 15 12 38 15 18 13 30 13 13 6 3 0 7 0 7zM754 594l-2 0-10-9-11-27-17-22-11-36-7-13 6 4 4 8 11 35 19 26 11 26 7 5 0 3zM262 495l-3-3 1-3 4 1-2 5zM464 582l-2-2 3-6 2-14-1-42 5-24 3-5 2 3-8 32 2 42-3 14-3 2zM264 518l-4-2-9-16-5-6 0-3 4 1 7 10 7 12 0 4zM288 496l-2 0 2-4 11 0-11 4zM356 498l-4 0-5-6 1-2 7 4 1 4zM106 500l-4-2 1-4 4 2-1 4zM366 500l-2-4 4-4 1 4-3 4zM448 500l-1-4 5-2 0 4-4 2zM510 535l-2-1 1-12-4-12 1-15 3 1 3 24-2 15zM518 583l-3-3-1-28 5-22-3-32 2-3 4 3-2 6 3 20-5 28 0 31zM588 515l-3-1 0-2 17-18 2 2-4 7-12 12zM94 505l-3-3 1-4 4 2-2 5zM280 504l-1-4 5-2 0 4-4 2zM346 529l-2 1-2-3-10-17-10-7-10-2-10 2-10 6-4 5-2 1-2-3 8-8 14-6 17 2 6 2 9 9 8 18zM476 579l3-23-3-32 8-28 1 8-6 20 3 40-2 11-4 4zM496 514l-4-2 1-12 3-2 1 4-1 12zM210 754l-12-12-14-11-28-15-28-10-12-10-31-48-15-15-10-16-18-15-9-16-15-20-12-28 3-10-9-18 0-11 12 25-1 16 11 24 16 22 5 12 18 14 12 18 15 16 32 48 10 9 26 9 38 22 12 12 4 8 2 0-2 0zM270 504l-4 0 0-5 5 1-1 4zM454 574l-2-2 4-8-3-38 3-20 4-7 2 3-5 24 2 34-2 12-3 2zM554 525l-1-5 7-5 10-17 1 2-4 12-13 13zM612 507l-3-1 3-6 2 2-2 5zM644 530l-14-14-8-11 0-4 4 1 2 6 16 18 0 4zM508 735l-8 1-11-4-11-9-10-15-5-30 4-44-8-28 3-2 2 3 6 22 0 15-4 32 6 30 5 10 11 11 12 5 8-1 11-9 4-10-6-20 2-8 8-74-1-56 5-28-1-26 4 4 0 14-5 36 1 20-2 8 3 28-10 82 6 20-5 12-14 11zM110 511l-4-3 2-3 4 3-2 3zM362 515l-3-7 3-3 2 5-2 5zM446 510l-8-2 8-3 0 5zM276 515l-4 0 0-5 4 0 0 5zM336 586l-2-2-1-10 4-24-6-20-7-11-10-5-10 1-12 11 0-5 10-9 10-2 12 4 12 18 4 16-4 28 2 8-2 2zM432 536l-3-8 3-14 4-5 2 1-4 12-2 14zM596 522l-6 0 14-11 4-1-2 4-10 8zM76 519l-4-1 0-6 4 2 0 5zM88 517l-4-3 2-3 4 1 1 2-3 3zM544 517l-2-5 6-1-4 6zM620 520l-4-3 0-4 4 1 0 6zM574 522l-4 0 6-7 2 3-4 4zM238 633l-13-7-39-33-16-7-11-8-9-10-10-18-27-28-1-4 4-1 2 7 26 24 9 18 9 10 10 7 16 7 38 32 10 6 2 5zM444 567l-2-3 4-8-3-6-1-28 4-6 1 46-3 5zM96 526l-2 0 0-4 8-4 2 2-2 2-6 4zM500 534l-3-2 1-12 2-1 0 15zM634 534l-4-1-6-7-2-6 10 9 2 5zM270 529l-4-3 1-4 4 2-1 5zM282 527l-4-3 2-3 3 1-1 5zM326 587l-2 0-2-5-1-10 4-18-4-20-9-8-6 2-4 6-2-2 2-5 8-5 10 4 6 12 3 14-4 24 1 11zM356 530l-2-4 2-5 3 5-3 4zM488 534l-2-8 2-5 3 3-3 10zM584 557l-2-5 2-12 24-18 3 0 0 4-24 16-2 4-1 11zM84 531l-4-3 2-4 3 2-1 5zM542 532l-1-6 3-3 1 5-3 4zM572 553l-2-5 4-14 11-10 5-2 2 2-15 12-5 17zM0 531l0-6 0 6zM82 556l-4 1-14-7-5-10-3-10 1-4 3 2 1 8 5 10 17 8-1 2zM84 544l-12-4-4-10 0-4 4 1 1 9 11 5 0 3zM566 532l-2 1-2-3 2-4 4-2-2 8zM228 642l-12-7-34-30-18-9-16-12-17-26-21-22-6-2 0-4 4-1 25 25 11 20 8 9 40 25 30 28 8 3-2 3zM292 538l-2 1-3-3 3-5 2 3 0 4zM552 539l-2-5 4-3 1 5-3 3zM620 537l-6-3 2-3 4 2 1 3-1 1zM96 541l-5-3 1-5 4 3 0 5zM280 541l-5-3 1-4 4 2 0 5zM348 541l-2-3 0-6 4 4-2 5zM362 564l-2 1-1-3 2-8 14-14 3-8 2 8-14 14-4 10zM398 545l-2-3 4-4 6-4 4 0 0 2-12 9zM328 614l-10-15-8-18 0-13 4-10-5-20 3-3 2 3 3 14-4 20 2 14 14 24-1 4zM492 574l-3-2 2-8-1-28 4 8 0 26-2 4zM540 572l-2-2-1-16 3-16 2-2 1 4-2 8 0 14 1 8-2 2zM422 543l-3-1 3-5 2 3-2 3zM434 549l-3-5 3-8 2 8-2 5zM606 543l-5-1 7-5 1 3-3 3zM668 604l-10-16-9-30-10-18 1-3 4 3 8 16 9 30 9 16-2 2zM506 576l-4-2 0-16 0-14 4-5 0 37zM562 547l-3-3 3-5 2 3-2 5zM702 675l-6-3-5-20-20-30-15-15-6-9-13-40-13-16 0-4 6 4 8 11 17 47 7 10 8 4 22 33 4 9 2 10 6 8-2 1zM256 707l-16-9-14-20-14-30-11-12-21-19-25-13-18-14-16-26-23-20 0-3 7 3 17 16 20 30 18 13 24 13 32 30 2 10 14 24 14 18 11 6-1 3zM304 561l-3-3 0-8-3-6 2-3 3 3 3 12-2 5zM410 550l-5 0 7-6 2 2-4 4zM596 552l-2 0-1-4 7-4-4 8zM154 727l-28-9-10-6-10-10-34-50-14-14-4-10-20-18-20-32-7-4-7-21 0-8 9 23 11 13 15 25 20 18 8 14 15 15 31 47 15 13 28 10 4 3-2 1zM294 565l-3-3-7-16 6 2 4 17zM374 564l-2-2 2-5 12-11 5 0-17 18zM690 681l-6-3 0-6-3-12-12-20-31-40-13-40-5-7-7-5 1-3 4 1 10 12 15 44 9 12 12 12 18 28 5 20 4 6-1 1zM348 570l-2-4 4-8-2-8 2-3 3 3-3 8 1 8-3 4zM554 569l-4-5-2-14 2-4 3 2-2 10 4 8-1 3zM122 588l-14-21-12-10-7-3 0-4 3 0 20 16 10 16 2 4-2 2zM394 574l0-4 30-20 0 4-30 20zM380 580l-1-4 5-12 12-10 8-3-17 15-7 14zM608 557l-4 0 0-5 4 0 0 5zM434 560l-4 0 4-7 2 3-2 4zM562 561l-3-5 3-3 2 3-2 5zM576 564l-4-2 0-4 2-1 2 2 0 5zM594 564l-5 0-1-4 6 0 2 2-2 2zM674 680l-5-16-10-18-33-42-9-34-5-8 2-3 4 5 11 38 29 36 12 20 6 16-2 6zM754 640l-1-20-17-8-12-14-17-36 1-3 4 4 15 33 11 12 16 8 0 16 0 8zM372 572l-2 1-2-3 4-8 0 10zM406 582l-4 0 2-4 17-14 5-2 0 4-10 5-10 11zM614 600l-12-32 2-3 3 3 8 26-1 6zM754 675l0-19-5-22-9-10-8 0-16-17-17-37 0-4 3 2 12 28 7 12 17 16 6 0 4 2 6 12 0 18 0 19zM324 629l-10-13-12-24-6-25 5 3 4 20 14 28 7 6-2 5zM542 754l-6 0 19-2 14-26 4-20-3-16-1-36 6-52-6-26-5-6 2-3 7 13 6 22-6 48 1 40 3 16-3 16-11 24-6 6-3 2-12 0zM582 578l-3-6 1-4 4 4-2 6zM434 574l-4 2-2-2 8-6 2 2-4 4zM358 578l-2-4 2-3 3 3-3 4zM596 695l-3-3 0-54 7-32-1-12-8-20 3-2 3 2 7 26-7 32-1 63zM348 583l-4-3 2-6 3 4-1 5zM424 580l-5 0 1-3 8-3 2 2-6 4zM442 582l-4 2-2-2 10-7 0 3-4 4zM512 754l-4 0-4 0 12-1 18-13 7-10 6-14 1-12-4-12 2-43 5-41-2-24-3-6 2-3 3 3 3 26-6 86 4 14-1 12-5 13-8 12-26 13zM94 584l-10-6 4-2 4 2 3 2-1 4zM522 754l-5 0 21-3 9-9 8-14 4-12 2-12-4-14 0-36 6-48-6-26 3-3 7 27-6 52 0 30 4 18-3 16-6 14-10 15-24 5zM754 583l0-1 0-5 0 6zM368 586l-2-4 4-3 1 3-3 4zM394 585l-4-1 2-5 3 3-1 3zM510 747l-20-1-20-15-6-9 2-1 8 9 14 11 12 3 14-3 10-8 7-9 5-14-6-18 9-80-3-30 2-2 2 2 3 26-9 82 5 16-1 10-8 16-20 15zM584 695l-2-5-1-46 6-40-5-22 2-3 7 23-6 36 1 52-2 5zM132 674l-10-12-17-28-13-13-16-23-21-16 5 0 14 8 21 28 11 10 26 41 0 5zM486 611l-3-7 1-20 2-4 2 4-2 27zM496 609l-2-3 2-26 2 1 1 3-1 22-2 3zM40 630l-6-1-9-11-19-30-1-4 5 2 15 26 15 18zM394 597l-4 1-2-2 2-3 24-6 8 3 14-8 2 2-10 7-20 2-14 4zM454 588l-4 0 0-2 4-4 2 2-2 4zM474 592l-2-4 2-6 2 6-2 4zM498 682l-1-6 4-32 0-26 4-8 0-24 3-2 1 22-4 16-4 54-3 6zM356 593l-3-5 5-2 1 4-3 3zM382 591l-4-1 2-6 3 4-1 3zM90 595l-6-3 0-4 5 2 1 5zM102 593l-4-2 0-4 4 2 0 4zM256 718l-14-4-10-6-16-24-13-26-12-16-21-18-18-8-27-20-1-9 8 10 20 14 23 13 16 14 15 17 13 27 14 22 15 9 10 3-2 2zM236 603l-19-15 9 1 11 13-1 1zM502 724l-12-6-10-14-6-28 4-46-8-28 4-5 1 11 6 18 0 20-4 30 5 14 1 12 11 16 10 2 5-4 2-6-8-16 5-16 8-72 0-14 2-5 2 21-9 74-4 10 7 20-4 8-8 4zM136 697l-12-11-27-42-17-19-12-17-18-14-2-4 4 0 11 8 11 11 12 17 12 13 30 47 10 8-2 3zM344 596l-3-2 1-4 4 2-2 4zM464 596l-3-2 1-4 4 2-2 4zM108 600l0-4 6-5 1 5-7 4zM332 599l-3-3 1-4 4 4-2 3zM364 603l-3-3 9-9 1 3-7 9zM440 596l-2-2 1-2 5-1 1 3-5 2zM754 598l0-4 0-3 0 7zM26 636l-4-2-22-34 0-7 26 39 0 4zM258 604l-4-2 0-5 5 3-1 4zM384 645l-5-5 0-12 2-14 3-4 6-4 14-4 29-4-1 4-26 3-18 6-5 9 1 25zM454 602l-4-2 2-4 3 2-1 4zM122 620l-14 0-16-20 2-2 3 2 11 15 6 3 6-2 2 4zM352 606l-3-2 3-4 2 2-2 4zM370 682l-7-16-1-14 5-14 3-29 6-9 4-1 1 3-5 4-3 8-2 26-6 12 3 18 4 8-2 4zM124 608l-10 1-1-3 7-2 4 4zM246 609l-9-5 7 0 3 4-1 1zM340 610l-4-3 2-4 4 3-2 4zM444 609l-4-2 0-3 5 0 1 4-2 1zM614 610l-3-2 3-5 3 5-3 2zM710 666l-4-4-5-16-25-38 2-4 28 43 4 13 0 6zM136 616l-7-2-3-4 6 1 4 5zM256 636l0-16-8-11 6 3 5 10 0 10-3 4zM266 615l-3-3 1-4 4 4-2 3zM316 662l-3-10-21-24 0-8-4-11 5 5 0 8 25 33 0 5-2 2zM364 699l-2 1-2-4 0-6-10-30 8-40 0-8 2-3 2 5-9 44 11 41zM410 616l-4 2-5-2 5-3 24-3 6 4-26 2zM282 621l-2 0-2-3-2-8 4 3 2 8zM458 707l-3-3-3-18-1-24 5-22-3-18-4-8 1-3 4 3 5 20-4 34 0 14 4 22-1 3zM348 622l-3-6 3-3 2 3-2 6zM488 679l-2 0-1-3 5-38-2-24 5 4 0 12-5 49zM626 621l-5-3 1-5 4 3 0 5zM70 703l-2 0-18-18-26-33-9-8-15-23 0-7 16 25 52 59 2 5zM446 644l-2-2 0-6-3-12-5-8 2-1 4 3 4 10 2 12-2 4zM146 625l-6-3-2-5 7 3 3 4-2 1zM336 625l-3-3 1-4 4 2-2 5zM418 754l-2 0-3 0-14-102-8-18 0-14 5-4 2 2-5 10 10 22 12 98 3 6zM610 624l-2-4 4-3 2 5-4 2zM270 627l-3-3 1-4 4 3-2 4zM432 631l-7-7 2-2 5 2 2 6-2 1zM132 629l-4-2 0-4 4 1 0 5zM416 628l-3-2 3-4 3 2-3 4zM156 630l-4 0-4-4 7 0 3 4-2 0zM370 754l-4 0-9-40-7-14-12-38 1-16 7-21 2 5-7 22 0 10 12 38 7 10 10 44zM426 749l-3-3-13-100-9-18 3-3 11 23 8 70 5 28-2 3zM636 633l-6-3 0-4 5 2 1 5zM138 662l-5-4-6-14-11-13 0-3 4 1 8 9 5 14 6 6-1 4zM306 672l-3-2 1-8-3-4-22-26 1-5 2 0 3 7 20 22 2 12-1 4zM168 634l-4 2-6-6 6 0 4 4zM606 695l-2-5 2-28-2-18 1-12 3-3 1 37-1 25-2 4zM620 635l-2 1-1-4 3-4 3 4-3 3zM152 736l-4 1-24-7-19-12-11-12-13-22-30-36-9-16 4 0 4 10 16 17 40 55 16 11 28 9 2 2zM142 636l-4 2-2-4 2-2 3 0 1 4zM334 638l-2 2-2-2-1-4 3-2 3 2-1 4zM436 642l-2 1-2-3 2-9 2 11zM246 639l-7-5 7 0 2 2-2 3zM294 668l-4-7-22-23 0-5 27 29-1 6zM424 638l-4 1-1-5 4 0 1 4zM754 685l0-3-5-24-14-22 1-4 5 4 13 24 0 16 0 6 0 3zM60 710l-20-18-24-32-9-6-7-10 0-8 7 12 13 12 21 28 20 18 1 2-2 2zM664 696l-5-2 3-6-4-18-9-18-10-10 0-6 13 14 8 14 4 15-2 9 3 6-1 2zM146 747l-25-5-25-16-12-14-9-18-35-40-11-16 7 2 10 15 30 35 9 18 15 17 22 13 24 6 0 3zM154 642l-5 0 1-4 4 0 0 4zM178 645l-6-2 0-5 4 2 2 5zM630 645l-4-3 2-3 4 3-2 3zM286 672l-4-1-10-9-12-16-1-4 3 1 16 19 9 8-1 2zM620 676l-2 1-1-3 1-18-2-15 3 3 2 14-1 18zM162 650l-3 0 3-6 3 2-3 4zM240 650l-4-2 0-4 5 2-1 4zM144 650l-4-2 0-3 5 1-1 4zM186 651l-4 0-3-5 5 0 2 5zM276 679l-16-13-12-16 1-4 3 1 14 21 12 10-2 1zM408 754l-5 0 1 0-3-2-15-107 4 5 1 14 5 18 8 72 4 0zM426 652l-3-2 1-4 4 2-2 4zM328 655l-3-5 3-3 3 3-3 5zM230 657l-4-3 0-4 5 2-1 5zM380 674l-4-6-3-14 1-4 2-1 2 3 2 22zM444 654l-6 1-2-3 6-2 3 2-1 2zM650 704l-3-2 2-8-1-20-10-18-8-1 0-3 2-1 8 3 11 20 1 26-2 4zM154 656l-4 2-3-4 7-1 1 1-1 2zM174 658l-5-2 1-3 4 1 2 4-2 0zM252 673l-11-13 1-4 10 12 0 5zM428 665l-4-3 2-4 4 2-2 5zM256 730l-30-10-10-11-1-7-10-12-4-12-9-14-4-2-6 1-3-3 15 0 27 48 11 11 22 8 28-11 4 0 2 2-32 12zM356 754l-2 0-7-32-21-56 2-6 22 60 8 34-2 0zM162 666l-4 2-2-2 6-5 2 3-2 2zM260 695l-6-2-6-5-14-19 0-6 17 23 9 9zM442 671l-2 1-2-6 2-4 3 2-1 7zM632 671l-3-3 1-5 4 3-2 5zM88 751l-5-1-2-6-17-19-32-24-24-31-2-4 2-2 26 34 22 19 8 3 24 28 0 3zM146 669l-4 0-2-3 2-2 6 2-2 3zM718 674l-4-2-4-6 2-1 5 3 1 6zM174 672l-4-2 0-3 4 0 3 3-3 2zM344 754l-2 0 1 0-8-30-15-38 0-8-6-6 2-4 3 4 19 50 8 32-2 0zM432 708l-4-20 0-19 3 3 3 30-2 6zM32 714l-6 0-24-32-2-11 32 43zM194 686l-14-14 7 0 7 10 0 4zM446 713l-3-3 1-6-5-22 1-10 3 4 3 22-2 6 4 6-2 3zM138 683l-4-3 0-4 5 2-1 5zM152 680l-4 0 0-4 5 0-1 4zM186 692l-4 1-4-6-16-8-2-3 4-1 4 4 10 3 8 10zM288 696l-4 1-10-5-16-11-3-5 3-1 20 16 10 2 0 3zM288 684l-4 0-7-4 1-2 12 3 6-5 3 0-1 4-10 4zM394 754l-3 0-1 0 1 0-8-32 0-32-3-8 0-7 4 5 2 12 0 24 9 38-1 0zM634 720l-2-2 3-8 3-26-2-8 2-2 3 4 0 14-4 24-3 4zM710 684l-4-2 0-6 5 4-1 4zM722 686l-4-2 2-7 3 3-1 6zM310 687l-4-3 2-4 3 2-1 5zM616 729l-1-3 10-24 2-14-1-8 2-2 2 4-3 26-7 17-4 4zM676 688l-5-2 3-6 4 6-2 2zM700 688l-4-1-4-6 7 3 1 4zM606 724l-2-2 8-16 4-12 0-10 2-1 1 5-3 16-7 18-3 2zM374 695l-4-5 2-5 3 5-1 5zM500 712l-9-12 0-14 3-2 2 2-2 6 2 10 7 8-3 2zM146 691l-4-1 2-3 3 1-1 3zM198 714l-34-21-8-2-2-3 6-1 10 5 8 7 10 3 11 10-1 2zM688 694l-6-2-1-4 7 2 2 4-2 0zM300 697l-4-3 2-5 4 3-2 5zM754 696l0-2 0-4 0 6zM0 697l0-6 0 6zM206 706l-13-10 1-4 2-1 5 7 5 4 0 4zM712 697l-4 0-2-3 7-2 2 2-3 3zM730 696l-4 1-2-5 4 0 2 4zM742 696l-4-1 0-4 5 1-1 4zM754 696l-2-1 0-5 2 2 0 4zM314 700l-5-4 3-3 3 3-1 4zM270 700l-4 2-4-6 6 1 2 3zM678 702l-7-2-2-4 5 0 5 4-1 2zM696 701l-4-5 5 0 1 2-2 3zM230 754l-6 0-15-18-11-9-40-23-12-4 4-2 12 4 41 24 13 13 6 13 8 2zM54 754l-2 0-12-4-16-13-14-27-6-6 0-4 4 1 8 12 7 17 23 22 8 2zM382 754l-3 0-9-38-1-12 5-4-2 10 10 44zM572 750l-2-2 13-26 3-20 2-2 3 4-4 6-1 16-11 22-3 2zM596 719l-2-1 1-4 5-12 4-2 0 4-8 15zM686 706l-8-4 2-1 6 1 0 4zM726 712l-7-6-1-4 6 4 2 6zM748 706l-3-2 3-3 3 3-3 2zM280 709l-4-1 0-5 5 1-1 5zM292 709l-4-3 2-3 4 1-2 5zM306 711l-5-3 3-4 3 2-1 5zM690 718l-16-4-8-5-6 0-2-5 4 0 18 9 9 1 2 2-1 2zM698 709l-4-1 2-4 3 2-1 3zM738 709l-4-1 0-5 4 2 0 4zM754 709l0-1 0-4 0 5zM332 754l-2 0 1 0-4-14-11-30 0-6 4 4 8 22 6 24-2 0zM730 734l-10-12-13-12-1-4 4 0 3 6 11 9 8 11-2 2zM96 741l-6-3-20-24 0-5 2 0 18 23 7 6-1 3zM268 714l-4 0-2-2 6-3 2 3-2 2zM434 720l-3-2 1-7 4 5-2 4zM462 719l-6-3 2-5 4 5 0 3zM718 754l-3 0-6-8-11-13-20-6-24-10-6 0-2-1 0-4 2-2 6 6 38 10 10 6 12 16 5 6-1 0zM36 754l-14-1-10-13-12-22 0-5 4 3 15 28 17 10zM244 740l-14-7-8 0-12-13-12-6 10 0 20 17 19 5 1 2-4 2zM750 717l-4 0-2-3 4-2 3 2-1 3zM74 754l-16-18-18-14-4-6 4 1 20 16 13 15 1 6zM298 721l-6-3 6-2 0 5zM320 754l-3 0 2 0-8-28-4-6 1-3 4 3 8 25 3 9-3 0zM706 724l-6-2-2-4 6 0 2 6zM738 724l-5-4 1-3 5 3-1 4zM754 737l0-17 0-3 0 2 0 10 0 8zM446 725l-4-3 4-3 2 3-2 3zM464 721l0-2 0 2zM66 754l-14-8-15-12-9-10 4 0 21 18 14 12-1 0zM644 729l-4-1 2-5 5 3-3 3zM500 754l-10 0-12-2-18-14-6-8 0-4 3 0 4 8 25 19 18 1-4 0zM596 733l-3-3 3-4 3 2-3 5zM630 731l-2 1-2-2 4-6 2 4-2 3zM730 754l-3 0-3-6-16-22 2-1 6 4 8 12 0 7 6 6zM754 754l-2-20-6-6 2-3 4 3 2 10 0 16zM260 742l-4 0 2-4 28-11 4 1 1 2-1 2-10 0-20 10zM308 754l-3 0 2 0-4-16-4-8 1-3 4 3 4 14 3 10-3 0zM436 737l-3-3 1-7 3 5-1 5zM706 754l-3 0-1 0-10-11-36-11-4-4 4-1 18 8 20 5 12 14zM166 735l-5-1-2-4 8 2-1 3zM602 746l-3 0 0-4 9-10 4 0-2 4-5 4-3 6zM10 754l-10-13 0-8 12 19-2 2zM454 745l-5-1-4-8 1-3 8 12zM612 750l-2-2 1-2 9-10 4-2-2 6-10 10zM754 754l-2 0-1 0-13-20 2-2 8 11 6 11zM202 754l-4 0-8-4-13-10-2-4 3 0 14 11 10 7zM590 742l-2 0-1-4 5-2 1 4-3 2zM634 742l-4 0 6-6 2 2-4 4zM650 741l-4 1-2-4 6-1 0 4zM294 754l-2 0 3 0-4-12 1-3 4 3 2 12-4 0zM144 754l-10 0-16 0-16-12 4 0 14 8 26 4-2 0zM250 751l-14-1-8-4-2-4 2-1 14 7 10-2 1 2-3 3zM284 744l-6 2-1-2 5-4 3 2-1 2zM662 746l-4-1-1-3 5 0 0 4zM742 754l-3 0-2 0-5-10 1-2 3 2 6 10zM158 748l-4-2 2-4 4 2-2 4zM170 747l-4-3 4-1 2 3-2 1zM440 749l-4-1 0-5 4 1 0 5zM618 754l-3 0 6 0 9-11 1 1-5 10-8 0zM240 754l-4 0 1 0 17 0 16-8 7 0-11 6-6 2-20 0zM670 754l-3 0 5 0-2-6 2-3 3 3-5 6zM480 754l-20-1-2-5 22 6 1 0-1 0zM594 754l-10-2-1-4 11 3 2 3-2 0zM100 754l-7-4 5-1 2 5zM630 754l-5 0 5 0 7-4 3-2 1 4-7 2-4 0zM646 754l-4 0 5 0 1-4 2-1 2 3-6 2zM688 754l-4 0-2-4 2-2 4 2 0 4zM186 754l-9 0 1-4 8 4 1 0-1 0zM284 754l-3 0 3-2 3 2-3 0zM170 754l-5 0 5 0zM448 754l-4 0 4-1 3 1-3 0zM658 754l-3 0 4 0 3-1 1 1-5 0zM80 754l-4 0-1 0 7 0-2 0zM108 754l-5 0 6 0 2 0-3 0zM156 754l-7 0 7 0zM438 754l-10 0-2 0 4 0 9 0-1 0zM566 754l-3 0 5 0 1 0-3 0zM606 754l-4 0-1 0 7 0-2 0zM4 754l-4 0 4 0zM268 754l-5 0 11 0-1 0-5 0zM598 754l-9 0-11 0-2 0 4 0 4 0 14 0zM694 754l-2 0 2 0 2 0-2 0zM18 754l-4 0 5 0-1 0zM92 754l-6 0 1 0 6 0 1 0-2 0zM216 754l-4 0 6 0-2 0zM460 754l-7 0 5 0 3 0-1 0zM682 754l-3 0 3 0 2 0-2 0zM134 754l-16 0-2 0 2 0 14 0 3 0-1 0zM190 754l-2 0 2 0zM28 754l-4 0 2 0 3 0-1 0zM42 754l-4 0 2 0 2 0zM146 754l-3 0 5 0-2 0zM164 754l-6 0 2 0 4 0zM178 754l-5 0 3 0 2 0zM282 754l-3 0 3 0 2 0-2 0zM420 754l-5 0 3 0 4 0-2 0zM504 754l-3 0 3 0z"/>
<path transform="scale(0.25)" fill="#dbdbdb" d="M28 1l-3-1 3 1zM40 2l-1-2 3 0-2 2zM146 2l-3-2 5 0-2 2zM162 1l-1-1 3 0-2 1zM178 0l-2 2-2-2 4 0zM190 3l-1-3 2 0-1 3zM228 3l-2-1 3-2 1 2-2 1zM280 2l-1-2 3 0-2 2zM380 2l0-2 0 2zM448 0l-3 0 3 0zM504 0l-2 1-3-1 5 0zM536 1l1-1-1 1zM668 2l0-2 0 2zM72 4l-2-2 2 2zM204 5l0-4 0 4zM492 2l-4 0 2-2 2 2zM572 2l-3 0 3 0zM612 2l-5 0 5 0zM754 4l0 2 0-5 0 3zM8 4l-2 0 2 0zM58 5l0-3 0 3zM110 7l-2-3 3 0-1 3zM468 6l-2 0 2-3 2 1-2 2zM6 6l0-2 0 2zM242 6l-2 0 2 0zM402 6l-2 0 2 0zM584 6l-2 0 2 0zM638 7l0-1 0 1zM678 8l0-2 0 2zM690 9l0-3 0 3zM750 9l0-5 0 5zM18 11l0-4 2 1-2 3zM124 9l-2-1 3 0-1 1zM134 8l-2 0 2-1 0 1zM156 10l-2-2 3 0-1 2zM216 10l-2 0 2-2 2 0-2 2zM274 10l-1-2 3 0-2 2zM512 9l0-2 0 2zM524 10l2-4 1 2-3 2zM636 9l0-2 2 1-2 1zM714 10l0-2 0 2zM726 10l0-2 0 2zM738 10l0-3 0 3zM32 12l-2 0 2-3 2 1-2 2zM48 12l-3 0 3-3 0 3zM122 10l0-2 0 2zM168 13l-2-1 2-3 0 4zM180 14l-1-2 3-2-2 4zM288 11l0-2 0 2zM388 12l2-3-2 3zM458 11l-3-1 5 0-2 1zM4 13l0-3 0 3zM196 13l0-1 0 1zM262 13l-3-1 3 1zM502 12l-3 0 3 0zM622 12l-4 0 4-1 0 1zM102 17l-3-1 1-2 3 0-1 3zM146 16l-3 0 1-3 2 3zM194 15l0-2 2 1-2 1zM374 14l0-1 0 1zM424 14l-3 0 3 0zM438 14l-3 0 4 0-1 0zM490 16l-2 0 0-2 5 0-3 2zM754 18l0-4 0 4zM14 18l-2 0 2-2 0 2zM76 16l-3 0 3 0zM88 19l-4-1 4-2 0 3zM114 18l0-2 0 2zM250 16l-3 0 3 0zM132 20l-4 0 4-2 0 2zM470 18l2 0-2 0zM532 21l-2-1 4-3-2 4zM644 20l0-2 0 2zM24 23l0-3 2 0-2 3zM158 22l-4 0 2-2 2 2zM398 20l-2 2-1-2 3-2 0 2zM410 20l-2 0 2 0zM520 21l-3-1 3-1 0 2zM630 20l-2 0 2-1 0 1zM722 21l0-3 0 3zM746 21l0-2 0 2zM172 25l-2-3 2 3zM186 24l-2-2 3 0-1 2zM272 22l-4 0 2-2 2 2zM382 25l0-3 0 3zM460 22l2 0-2 0zM2 26l-2 2 0-5 2 0 0 3zM260 24l-2 0 2 0zM448 24l-4 0 4 0zM566 25l-3-1 4 0-1 1zM598 24l-2 0 3 0-1 0zM618 24l-3 0 5 0-2 0zM108 28l-2 0 2-3 0 3zM198 28l0-3 0 3zM256 26l-2 0 2 0zM320 27l0-2 0 2zM420 26l-3 0 3 0zM432 27l-2-1 4 0-2 1zM482 26l-2 0 2 0zM496 26l-3 0 3 0zM730 31l2-5-2 5zM66 28l-3 0 3 0zM80 28l-3 0 3 0zM94 29l-3-1 3-1 0 2zM146 29l-4-1 2-1 2 2zM212 28l-1 0 1 0zM306 32l0-5 0 5zM344 29l0-1 0 1zM356 31l0-3 0 3zM368 30l0-3 0 3zM754 32l0-2 0-3 0 5zM12 32l-2 0 4-2-2 2zM210 31l-2-1 2-2 0 3zM404 33l-2-3 2-1 2 3-2 1zM540 31l0-2 0 2zM132 33l0-2 1 1-1 1zM272 34l-4 0 2-2 2 2zM318 34l0-4 0 4zM330 35l0-3 0 3zM392 35l-2 0 0-4 2 0 0 4zM166 37l-3-3 1-1 2 4zM342 36l0-2 0 2zM452 36l-3 0 2-2 4 0-3 2zM152 40l-2-2 2-2 0 4zM186 36l-2 0 2-1 0 1zM378 39l0-4 0 4zM504 36l-3 0 4 0-1 0zM566 38l-3-2 5 0-2 2zM596 36l-4 0 4 0zM616 36l-4 0 4 0zM100 39l-2-1 2-1 0 2zM200 40l-2 0 2-3 0 3zM258 38l-2 0 2-1 0 1zM366 41l-2-1 2-3 0 4zM414 40l-2 0 0-3 2 1 0 2zM426 41l-2-1 0-3 3 1-1 3zM438 39l-1-1 3 0-2 1zM738 40l0-3 0 3zM70 40l-2 0 2 0zM126 42l0-2 2 0-2 2zM142 42l-2 2-2-2 2-2 2 2zM736 40l2 0-2 0zM754 40l0-1 0 1zM90 43l-4-1 4 1zM212 43l0-2 0 2zM328 50l0-8 0 8zM340 45l0-5 0 5zM352 45l0-3 0 3zM402 46l-2-2 0-3 2 5zM724 44l-1-2 3-1-2 3zM750 44l0-4 2 2-2 2zM176 47l-2-1 2-3 0 4zM270 47l-3-1 3-2 0 3zM160 48l-2-2 2-1 2 1-2 2zM188 49l0-3 2 0-2 3zM388 48l-2-2 3 0-1 2zM458 47l0-2 2 1-2 1zM574 48l-3 0 3-2 0 2zM316 52l0-6 0 6zM444 50l0-2 2-1-2 3zM560 49l-3-1 3-1 0 2zM588 48l-2-1 2 1zM600 48l-2 0 2 0zM614 48l-6 0 6 0zM4 51l-1-1 1 1zM100 52l-2 0 4-2-2 2zM118 52l2-4-2 4zM202 52l-3 0 3-2 0 2zM260 50l-2 0 2 0zM374 52l-1-2 1-2 2 2-2 2zM418 51l0-3 2 2-2 1zM2 53l-2-1 2-2 2 2-2 1zM76 52l-4 0 4-2 2 2-2 0zM132 54l-2-2 2-2 1 2-1 2zM148 54l-3 0 0-2 5 0-2 2zM362 56l0-5 0 5zM430 53l-3-1 3-1 0 2zM486 52l-2 0 2 0zM660 54l-2 0 4-3-2 3zM730 55l-2-1 4-2-2 3zM754 54l-1 0 1-2 0 2zM546 54l-2 0 2 0zM688 55l0-2 0 2zM716 57l0-3 2-1-2 4zM90 56l-2 2-1-2 3 0zM440 57l0-2 0 2zM110 60l-1-2 3-1-2 3zM180 59l0-2 0 2zM272 60l-2-3 2 0 0 3zM396 59l0-2 0 2zM452 61l0-3 2-2-2 5zM566 60l-2 0 0-2 3 0-1 2zM578 62l-1-2 3-2 1 2-3 2zM624 58l-3 0 3 0zM160 60l-3 0 3 0zM192 62l1-2-1 2zM384 62l0-4 0 4zM606 60l-4 0 6 0-2 0zM614 60l2 0-2 0zM648 61l-2-1 3 0-1 1zM8 65l-2-1 2-2 0 3zM124 64l-3 0 3-3 0 3zM260 64l-3 0 3-2 0 2zM372 66l0-5 2 3-2 2zM478 62l0-1 0 1zM592 64l-2-2 2-1 2 1-2 2zM76 66l-1-2 3-2 1 2-3 2zM100 66l-2 0 0-3 3 1-1 2zM136 66l0-3 2 1-2 2zM312 65l0-2 0 2zM554 64l-2 0 2 0zM694 65l0-2 1 1-1 1zM736 64l-1 0 1 0zM754 65l0-1 0-2 0 3zM148 67l0-2 2 1-2 1zM338 69l0-5 0 5zM374 67l0-2 0 2zM634 66l-2 0 2 0zM682 67l-1-1 1 1zM708 68l0-3 0 3zM722 68l-3 0 1-2 4 0-2 2zM170 68l-3 0 3-2 0 2zM362 71l0-3 0 3zM444 68l-3 0 3 0zM542 68l-2 0 2 0zM88 72l-3 0 3-3 0 3zM114 72l-4 0 2-2 2 2zM568 71l-3-1 3 1zM624 70l-2 0 2 0zM516 72l-5 0 5 0zM614 72l-4 0 4 0zM646 73l-2-1 2-1 0 2zM0 77l0-4 2 1-2 3zM156 76l-1-2 3-1-2 3zM266 76l-2-2 2-2 0 4zM328 76l0-2 0 2zM378 76l0-2 0 2zM500 75l1-1-1 1zM582 74l-3 0 3-1 0 1zM672 77l-3-1 1-2 4 0-2 3zM742 77l-3-1 3-3 2 1-2 3zM142 79l0-3 2-1-2 4zM292 77l0-2 0 2zM304 76l0-1 0 1zM418 76l2 0-2 0zM596 76l-2 0 2 0zM730 78l-5 0 3-2 2 2zM754 76l0-1 0 1zM98 80l-1-2 1-1 2 1-2 2zM254 79l0-2 2 1-2 1zM552 79l-4-1 4-2 0 3zM636 78l-3 0 3 0zM714 80l-3 0 3-2 0 2zM754 80l-1-2 1-1 0 3zM60 81l0-2 1 1-1 1zM168 81l-1-1 2 0-1 1zM354 81l0-2 0 2zM442 80l-5 0 7 0-2 0zM686 81l1-1-1 1zM110 85l-2-1 2-2 1 2-1 1zM166 83l-2-1 2-2 2 2-2 1zM538 82l-4 0 4 0zM566 83l-3-1 3-1 0 2zM624 82l-3 0 3 0zM88 86l-2 1 0-3 3 0-1 2zM386 86l-3-2 3 0 0 2zM524 84l-5 0 5 0zM648 85l-2-1 2 1zM8 87l0-3 0 3zM36 86l-2 0 2-1 0 1zM72 88l-2-2 2-2 2 2-2 2zM134 87l0-2 0 2zM150 88l0-2 3 0-3 2zM246 86l0-1 0 1zM284 88l0-2 0 2zM296 89l0-3 0 3zM410 86l-2 0 2 0zM508 86l-2 0 2 0zM586 86l-5 0 5 0zM662 88l-2 0 2-2 0 2zM754 89l0 1 0-4 0 3zM34 88l0-2 0 2zM48 90l0-2 2-1-2 3zM120 91l0-3 2 0-2 3zM260 90l-2-2 2-2 2 2-2 2zM308 89l0-1 0 1zM676 88l-3 0 3-1 0 1zM698 88l-2 0 2 0zM736 88l-3 0 5 0-2 0zM750 91l-3-1 1-2 4 2-2 1zM176 90l-2 0 2 0zM426 90l-2 0 2 0zM546 92l-2-2 3 0-1 2zM556 92l-1-2 3 0-2 2zM722 90l-4 0 4 0zM60 93l0-1 0 1zM96 94l-1-2 3-1-2 3zM310 93l0-1 0 1zM334 93l0-2 0 2zM360 93l0-2 0 2zM396 93l2-1-2 1zM444 92l-9 0 9 0zM570 94l1-2-1 2zM82 97l-2-1 2-2 0 3zM110 97l-3-1 1-2 2 0 0 3zM144 96l-2 0 2-3 0 3zM194 94l-1 0 1 0zM374 95l0-3 0 3zM400 94l-4 0 2-2 2 2zM40 100l-1-2 3-3 1 3-3 2zM252 98l-3 0 1-2 2-1 0 3zM532 96l-1 0 1 0zM650 96l-1 0 1 0zM708 96l-2 0 2-1 0 1zM4 100l0-3 0 3zM28 101l0-3 0 3zM154 101l0-3 2-1-2 4zM266 100l-2 1-1-3 3 2zM288 100l0-3 0 3zM300 102l0-4 1 4-1 0zM408 98l2 0-2 0zM664 100l-2 0 4-2-2 2zM68 101l0-2 0 2zM324 100l0-2 0 2zM458 100l-2 0 2 0zM742 100l-4 0 6 0-2 0zM754 102l-1 0 1-2 0 2zM52 103l0-2 0 2zM120 105l0-5 2 2-2 3zM326 104l0-3 0 3zM426 102l-3 0 3 0zM562 103l-3-1 3-1 0 2zM696 103l-2-1 4 0-2 1zM722 102l-2 0 2 0zM98 105l2-1-2 1zM394 106l-2-2 2 0 0 2zM444 104l-6 0 6 0zM88 107l0-1 0 1zM132 111l0-5 0 5zM368 107l0-2 2 1-2 1zM656 106l-2 0 2 0zM74 111l0-3 2 0-2 3zM108 110l-1-2 3 0-2 2zM144 111l0-3 2 0-2 3zM242 110l0-4 1 2-1 2zM256 111l-2-1 2-3 0 4zM382 110l-4 0 0-2 3 0 1 2zM528 109l-2-1 4 0-2 1zM710 108l-4 0 4 0zM268 113l0-4 0 4zM280 111l0-2 0 2zM294 112l-2 0 0-4 2 4zM588 110l-2 0 2 0zM668 112l2-3-2 3zM682 112l2-4 2 2-4 2zM306 115l-2-3 2 0 0 3zM318 113l0-2 1 1-1 1zM416 112l-3 0 3 0zM570 112l-2 0 2-2 0 2zM742 112l-6 0 6 0zM118 118l0-4 2 0-2 4zM178 114l-2 0 2 0zM320 115l-1-1 1-2 0 3zM332 114l0-2 0 2zM426 114l-3 0 3 0zM558 115l-5-1 6 0-1 1zM696 116l-1-2 3 0-2 2zM724 114l2 0-2 0zM754 114lzM96 118l-2 1-1-1 3-3 0 3zM392 118l-2 0 0-2 2 0 0 2zM542 116l-4 0 4 0zM142 120l-2 2 2-4 0 2zM34 122l-3 0 1-2 3 0-1 2zM106 124l0-4 0 4zM234 121l0-2 0 2zM248 122l-2 0 2-4 1 2-1 2zM260 124l0-4 2 2-2 2zM406 122l-4-2 4 2zM470 122l-3 0 4-2-1 2zM524 124l-2-2 4-2 1 2-3 2zM592 123l-2-1 2-2 4 0-4 3zM710 120l-2 0 2 0zM286 124l0-3 0 3zM314 126l-3-2 1-2 2 4zM378 122l-2 0 2 0zM486 125l-1-3 3 0-2 3zM674 124l0-3 1 1-1 2zM688 125l-2-1 2-3 0 4zM46 126l-1-2 3-1-2 3zM128 127l0-5 2 2-2 3zM274 126l0-3 0 3zM300 127l-2-4 3 1-1 3zM326 127l-2-3 2-1 2 3-2 1zM456 127l-3-1 3-2 0 3zM498 126l0-3 0 3zM740 124l-8 0 8 0zM552 127l-4-1 5 0-1 1zM726 126l-3 0 3 0zM116 131l-2-1 2-2 0 3zM212 129l0-3 0 3zM432 128l-5 0 3-1 2 1zM444 131l-3-1 1-2 3 0-1 3zM512 131l-2-3 2-1 0 4zM538 130l-4 0 2-2 2 0 0 2zM24 131l-2-1 2-2 0 3zM196 132l-1-2 3-1 1 1-3 2zM240 133l-1-1 1-2 0 3zM398 131l-4-1 2-2 2 3zM478 134l-2-2 2-3 0 5zM712 132l-2-2 3 0-1 2zM38 135l-3-1 1-2 2 0 0 3zM138 136l0-5 0 5zM254 135l-3-1 1-3 2 1 0 3zM368 132l-4 0 4 0zM584 132l-3 0 3-1 0 1zM600 132l-5 0 5 0zM682 134l-3 0 1-2 2 0 0 2zM710 132l0-2 2 2-2 0zM266 136l0-4 0 4zM308 137l-2-4 2 1 0 3zM410 135l-3-1 3 0 0 1zM466 136l-2-2 2-2 0 4zM488 138l0-3 2-1 0 4-2 0zM694 136l-2 0 2-2 0 2zM2 137l1-1-1 1zM50 138l-3 0 3-2 0 2zM126 140l-2 0 2-4 1 2-1 2zM186 139l0-4 2 1-2 3zM294 137l0-2 0 2zM322 138l-3-2 1-2 2 4zM334 139l-2-3 2 0 0 3zM386 136l-2 0 2 0zM502 137l-2 1 0-3 2 2zM524 137l-2 1-2-2 4-2 0 3zM738 136l-6 0 6 0zM16 140l0-2 0 2zM420 138l-1 0 3 0-2 0zM454 141l-4-1 1-2 4 0-1 3zM546 140l-3 0 5-2-2 2zM558 138l-3 0 3 0zM670 140l-2-2 2-1 2 1-2 2zM150 143l0-5 0 5zM434 140l-4 0 4 0zM720 140l-3 0 3 0zM28 143l-2-2 2-1 0 3zM232 143l0-2 0 2zM400 142l-3 0 3 0zM510 145l-2-1 2-3 2 1-2 3zM606 142l-3 0 3 0zM656 142l-3 0 3-1 0 1zM704 144l-1-2 3-1 0 3-2 0zM198 146l0-2 0 2zM244 146l0-2 2-2 1 2-3 2zM260 146l-3 0 1-3 2 3zM272 146l0-2 0 2zM302 148l-2-4 2 4zM362 144l-2 0 4 0-2 0zM478 146l0-2 0 2zM534 145l-3-1 3-2 0 3zM38 148l-2-2 2-1 1 1-1 2zM116 146l0-1 0 1zM136 148l0-3 0 3zM286 146l0-1 0 1zM314 147l1-1-1 1zM344 147l-1-1 1 1zM466 146l-2 2-1-2 3-2 0 2zM680 149l-2-1 0-2 4-1-2 4zM134 148l1 0-1 0zM160 150l0-3 0 3zM184 152l0-4 0 4zM288 149l0-2 0 2zM316 149l-1-1 1-2 2 2-2 1zM330 150l-2-2 4 2-2 0zM498 152l-2-2 2-2 2 2-2 2zM522 150l-3 0 3-2 0 2zM566 148l-3 0 5 0-2 0zM694 150l-2-2 2-1 0 3zM208 155l2-5-2 5zM418 150l-2 0 2 0zM554 150l-4 0 4 0zM664 152l-2-2 4-1-2 3zM728 150l-3 0 3 0zM22 154l-2-2 4-1-2 3zM48 154l-1-2 3 0-2 2zM432 153l-5-1 5 0 0 1zM456 152l-4 0 4 0zM238 155l0-3 0 3zM252 157l-3-1 3-2 0 3zM474 156l-3 0 3-2 0 2zM594 154l-2 0 2 0zM608 154l-3 0 5 0-2 0zM266 159l-2-4 2 4zM488 159l-2 0 1-3 1 0 0 3zM510 159l-2-1 2-3 2 1-2 3zM582 156l-1 0 1 0zM634 156l-2 0 2 0zM650 157l-2-1 2-1 0 2zM686 160l-2-2 2-2 2 2-2 2zM704 156l-2 0 2 0zM36 160l-3 0 0-2 3 0 0 2zM168 160l0-2 0 2zM194 159l0-3 0 3zM296 159l0-2 0 2zM310 160l-2-2 2-2 2 2-2 2zM326 161l-3-3 3 3zM574 158l-3 0 3 0zM674 161l-3-1 1-2 2 0 0 3zM12 162l-3-2 3-1 1 1-1 2zM218 161l0-1 0 1zM562 160l-2 0 4 0-2 0zM660 164l-2 0 2-3 2 1-2 2zM754 162lzM114 166l0-2 0 2zM230 165l0-2 0 2zM242 168l2-4 1 2-3 2zM456 164l-2 0 4 0-2 0zM500 166l-2 0 2-2 0 2zM522 164l-3 0 3 0zM550 164l-5 0 5 0zM614 164l2 0-2 0zM642 166l0-2 2 0-2 2zM22 168l2-3 2 1-4 2zM228 168l0-2 0 2zM258 169l-2-3 4 2-2 1zM480 166l-3 0 3 0zM590 166l-2 0 4 0-2 0zM694 168l-1-2 3-1-2 3zM710 168l-3 0 1-2 3 0-1 2zM176 170l-1-2 1-2 0 4zM202 168l0-1 0 1zM306 171l-3-3 3 3zM320 171l-2-3 2 3zM376 169l-4-1 2-1 2 2zM534 170l-3 0 5-2-2 2zM582 168l-2 0 2 0zM572 170l-3 0 3 0zM630 170l-2 0 4 0-2 0zM654 172l-3 0 3-3 0 3zM682 171l-4-1 4-1 0 2zM162 174l0-3 2 1-2 2zM510 174l0-2 0 2zM668 174l-3 0 3-3 0 3zM726 173l-4-1 6 0-2 1zM14 175l-4-1 4-1 0 2zM92 175l1-1-1 1zM416 174l-3 0 3 0zM444 174l-3 0 3 0zM490 174l-2 0 2 0zM558 174l-3 0 3 0zM740 174l-3 0 3 0zM754 174lzM104 178l2-4-2 4zM118 178l-1-2 3-1-2 3zM198 177l0-2 0 2zM234 180l2-4-2 4zM250 179l-2-1 2-2 2 2-2 1zM458 176l-2 0 2 0zM618 176l-2 0 2 0zM132 179l0-2 0 2zM196 180l0-2 0 2zM430 178l2 0-2 0zM522 179l0-2 0 2zM544 178l-2 0 3 0-1 0zM644 179l-4-1 4-1 0 2zM702 179l-4-1 2-2 2 3zM714 181l-2-1 1-2 2 2-1 1zM26 180l-2 0 2 0zM208 182l0-2 0 2zM690 180l-4 0 4 0zM84 183l-1-1 1 1zM220 183l0-1 0 1zM260 184l-2 1-1-3 3 2zM402 182l2 0-2 0zM632 182l-4 0 4-2 0 2zM674 184l0-2 3 0-3 2zM2 185l-2-1 4 0-2 1zM272 185l0-2 0 2zM654 186l-1-2 5 0-4 2zM730 184l-6 0 6 0zM96 189l-2-1 2-3 2 3-2 1zM110 189l0-4 2 1-2 3zM164 188l-4 0 4-2 0 2zM190 189l-3-1 3-2 0 3zM244 189l-2-1 2-2 2 2-2 1zM416 187l-3-1 3 1zM446 187l-4-1 4-1 0 2zM748 186l-10 0 10 0zM754 186lzM14 188l-2 0 2-2 0 2zM122 190l0-2 2 0-2 2zM512 188l-1 0 1 0zM606 188l-5 0 7 0-2 0zM618 190l-3-2 5 0-2 2zM72 191l2-1-2 1zM202 193l-2-1 2-3 2 1-2 3zM230 192l-2-2 2-1 0 3zM394 191l-2-1 2 1zM430 191l-2-1 2 1zM642 191l-3-1 3-1 0 2zM696 190l-3 0 4 0-1 0zM708 190l-3 0 3 0zM152 195l-3-1 1-2 3 0-1 3zM178 195l-5-1 3-2 2 3zM254 194l-4-2 4 2zM374 192l-2 0 2 0zM682 194l-3 0 4-2-1 2zM86 197l-3-1 1-2 3 0-1 3zM216 195l-2 1 0-4 2 3zM268 197l-4-1 0-2 3 0 1 3zM280 195l0-2 2 1-2 1zM630 196l-2 0 2-3 0 3zM2 197l-2-2 2 0 1 1-1 1zM282 197l0-3 0 3zM406 197l-3-1 1-1 2 2zM654 198l-3 0 1-2 2 2zM732 196l-5 0 5 0zM62 198l-3 0 3 0zM242 200l-4-2 4 2zM384 199l-2-1 3 0-1 1zM418 201l-3-1 1-2 3 0-1 3zM448 198l-4 0 4 0zM16 200l-2 0 2 0zM142 204l-2-4 2 0 0 4zM164 202l-4-2 4-1 0 3zM192 201l-5-1 5-1 0 2zM226 203l-2-3 3 2-1 1zM316 200l1 0-1 0zM440 200l2 0-2 0zM554 200l-2 0 2 0zM598 200l-4 0 6 0-2 0zM612 200l-3 0 3 0zM674 200l-2 2 0-2 2 0zM74 205l-2-1 2-3 2 1-2 3zM96 205l-2-3 2 0 0 3zM128 204l0-4 0 4zM514 202l-2 0 2 0zM586 202l-2 0 2 0zM640 204l-3 0 0-2 4 0-1 2zM206 205l-3-1 1-2 2 3zM290 207l0-3 2 2-2 1zM348 204l-3 0 3 0zM374 205l-3-1 3 1zM396 206l-2-3 2 1 0 2zM430 205l1-1-1 1zM176 208l-3-2 5 2-2 0zM262 207l-4-1 4 0 0 1zM276 208l-2-2 4 0-2 2zM2 208l-2 0 2 0zM86 211l-2-4 2 1 0 3zM152 209l-2-1 2-1 0 2zM326 209l0-2 2 1-2 1zM408 210l-2 0 0-3 3 1-1 2zM650 210l0-2 3 0-3 2zM662 208l0-2 0 2zM732 208l-3 0 3 0zM754 208lzM62 213l-2-2 4-1-2 3zM120 214l-2-4 3 2-1 2zM384 213l-2 0 0-3 2 0 0 3zM502 213l-2-1 4-2-2 3zM604 210l-2 0 2 0zM630 212l-2 0 0-2 3 0-1 2zM106 213l0-2 0 2zM338 214l-2-2 2 0 0 2zM420 213l-2-1 2 1zM442 212l-3 0 3 0zM490 212l-2 0 2 0zM616 214l-3-2 5 0-2 2zM676 212l-2 0 2 0zM164 215l-3-1 3 1zM226 214l-3 0 3 0zM366 215l0-2 1 1-1 1zM418 215l0-3 2 2-2 1zM642 218l-2-2 2-2 0 4zM674 215l-3-1 3-2 0 3zM708 215l-2-1 2 1zM76 218l-3-2 1-1 3 1-1 2zM286 219l-4-1 2-2 2 3zM300 217l-2-2 2 2zM350 219l-3-1 1-2 2 0 0 3zM94 219l0-2 0 2zM260 218l-5 0 5 0zM272 219l-3-1 4 0-1 1zM394 219l-2-1 2-2 0 3zM430 220l-3 0 5-2-2 2zM480 218l-2 0 2 0zM722 219l-4-1 4 1zM52 222l-3 0 3-2 0 2zM176 220l-3 0 3 0zM392 220l0-1 0 1zM406 224l-2-2 2-2 0 4zM654 222l-1-2 5 0-4 2zM734 222l-1-2 4 0-3 2zM754 220lzM130 225l-2-4 2 1 0 3zM154 222l-2 0 2 0zM328 223l-5-1 5-1 0 2zM360 224l-2 0 2-2 0 2zM470 224l-2 0 4-2-2 2zM492 224l-2 0 4-2-2 2zM608 224l-4-2 4-1 0 3zM632 225l0-3 2 2-2 1zM684 222l-3 0 3 0zM66 225l-4-1 4 1zM192 224l-3 0 3 0zM238 224l-2 0 2 0zM442 224l2 0-2 0zM506 226l-2 0 2-2 0 2zM620 226l-2-2 2-1 2 1-2 2zM698 226l-2 0 4-3-2 3zM340 228l-2 0 2-3 2 1-2 2zM418 229l-2 0 0-3 2 0 0 3zM670 226l-3 0 3 0zM712 229l-2 1 0-4 2 0 0 3zM14 228l-2 0 2 0zM298 230l-5-2 3-1 2 3zM482 230l-3 0 4-2-1 2zM74 231l-1-1 1 1zM144 230l0-1 0 1zM266 230l-4 0 4 0zM282 231l-5-1 7 0-2 1zM384 231l0-2 0 2zM458 230l-3 0 3 0zM644 232l-2-2 2-2 1 2-1 2zM724 232l-2 0 2-3 0 3zM744 232l-4 0 4-2 0 2zM2 232l-2 0 2 0zM172 232l2 0-2 0zM316 232l-2 0 2 0zM352 232l-1 0 1-1 0 1zM382 233l0-2 0 2zM396 235l-1-3 3-1-2 4zM430 233l-3-1 3-2 0 3zM658 234l-2 1 0-3 3 0-1 2zM690 233l-2-1 2 1zM54 234l-4 0 4 0zM330 236l-4-2 6 0-2 2zM470 236l-3 0 3-2 0 2zM494 235l-1-1 3 0-2 1zM602 234l-5 0 5 0zM614 236l-3-2 3 0 0 2zM628 235l-3-1 3-2 0 3zM134 237l0-2 1 1-1 1zM192 236l-3 0 3 0zM236 236l-5 0 3-2 2 2zM408 240l-2-2 2-2 2 2-2 2zM492 236l-2 0 2 0zM588 236l-2 0 2 0zM702 239l0-3 2-1-2 4zM198 238l-2 0 2 0zM248 240l-3-2 2 0 1 2zM670 239l2-1-2 1zM274 241l-3-1 3 1zM290 241l-2-1 2-1 0 2zM306 241l-3-1 1-2 2 3zM422 243l-2 1 0-4 2 3zM638 242l-4 0 4-2 0 2zM716 241l-2-1 2-1 0 2zM10 242l-3 0 3 0zM260 245l-3-3 4 0-1 3zM374 243l0-2 0 2zM388 245l-2-1 2-3 0 4zM434 243l-2 1 0-2 2 1zM458 242l-2 2-1-2 3 0zM480 243l-2-1 4 0-2 1zM650 245l0-3 0 3zM714 242l0-1 0 1zM170 244l-2 0 2 0zM316 244l-2 0 3 0-1 0zM624 246l-4-2 4 0 0 2zM696 244l-3 0 3 0zM728 244l0-1 0 1zM754 244l0 1 0-1zM54 247l2-1-2 1zM184 246l-3 0 3 0zM224 247l-3-1 3 1zM332 247l-2-1 4 0-2 1zM596 246l-3 0 3 0zM608 247l-3-1 5 0-2 1zM662 248l0-2 0 2zM682 246l-2 0 2 0zM754 246lzM28 248l1 0-1 0zM192 248l-2 0 2 0zM238 249l-5-1 3-1 2 2zM400 252l0-5 0 5zM468 249l-3-1 3-1 0 2zM298 251l-2-2 4 1-2 1zM414 254l-3-2 1-2 2 0 0 4zM442 250l-1 0 1 0zM676 250l-2 1 2-1zM250 253l-3-1 1-2 3 2-1 1zM274 252l-4 0 2-2 2 2zM364 252l0-1 0 1zM162 254l-2 0 2 0zM286 256l-4-2 4 0 0 2zM310 254l-3 0 3 0zM376 256l0-2 2-1-2 3zM428 256l-3 0 2-2 1 2zM454 257l-3-1 5-2-2 3zM480 254l-2 0 2 0zM632 254l-2 0 2 0zM4 256l-3 0 3 0zM214 256l-2 0 4 0-2 0zM262 258l-3-2 3 0 0 2zM390 257l-2 0 0-2 2 0 0 2zM476 256l1 0-1 0zM602 258l-2-2 3 0 1 2-2 0zM618 257l-4-1 2-1 2 2zM686 258l-2 0 4-3-2 3zM146 258l-3 0 3 0zM184 258l-2 0 2 0zM228 258l-4 0 4 0zM52 262l-3-2 3-2 3 2-3 2zM192 260l-2 0 2 0zM240 261l-4-1 4 1zM466 262l-1-2 3 0-2 2zM590 262l0-3 2 1-2 2zM24 262l-2 0 2 0zM272 262l2 0-2 0zM298 262l-3 0 3 0zM406 264l0-3 2 1-2 2zM464 262l2 0-2 0zM252 266l-3-2 2 0 1 2zM276 264l-3 0 1-2 2 2zM366 265l1-1-1 1zM382 268l-3-2 3-1 0 3zM396 268l-2 1-1-3 3 0 0 2zM418 269l-2-1 2-3 2 1-2 3zM638 266l-3 0 3 0zM62 270l0-2 0 2zM172 268l-5 0 5 0zM218 268l-3 0 3 0zM454 269l-1-1 2 0-1 1zM598 272l-2-2 2-2 2 2-2 2zM612 269l-2-2 4 1-2 1zM692 268l-2 0 2 0zM64 270l-2 0 2 0zM144 270l-5 0 5 0zM184 270l2 0-2 0zM230 270l-3 0 3 0zM264 270l-3 0 3 0zM584 274l-1-2 1-2 0 4zM32 272l-3 0 3 0zM336 272l-4 0 4 0zM54 274l-4 0 2-1 2 1zM372 274l-1 0 1 0zM406 277l-1-1 1-3 2 3-2 1zM276 277l-2-1 2 1zM352 276l-2 0 2 0zM370 277l0-3 0 3zM440 278l-2 0 4-3-2 3zM644 276l-2 0 2 0zM254 278l-2 0 2 0zM380 282l3-4-3 4zM394 281l0-3 0 3zM574 279l0-1 0 1zM620 281l-2-2 3-1-1 3zM698 278l-2 0 2 0zM150 280l-2 1-2-1 4 0zM176 280l-4 0 5 0-1 0zM218 280l-4 0 4 0zM572 281l0-2 2 1-2 1zM606 282l-1-2 3-2 0 4-2 0zM678 281l1-1-1 1zM712 281l0-1 0 1zM230 282l-2 0 4 0-2 0zM326 282l-2 0 2 0zM454 282l-2 0 2 0zM594 285l-2-3 2-1 2 1-2 3zM738 284l-2 0 2-2 0 2zM32 284l-3 0 3 0zM46 284l-3 0 3 0zM194 284l-3 0 3 0zM340 284l-2 0 2 0zM416 286l0-4 1 2-1 2zM724 288l-2-2 2-2 0 4zM60 287l-3-1 3 1zM356 288l-4 0 6-2-2 2zM582 288l-2 0 2-3 2 1-2 2zM688 288l1-2-1 2zM402 290l0-4 0 4zM430 288l-2 2 0-2 2 0zM632 288l-4 2-1-2 5 0zM666 290l0-2 3 0-3 2zM702 290l-2 2-1-2 3-2 0 2zM748 289l-2-1 2-1 0 2zM210 290l-5 0 5 0zM280 290l-3 0 3 0zM314 290l-2 0 2 0zM372 290l-2 0 2 0zM388 291l0-2 0 2zM616 293l-3-1 1-2 3 0-1 3zM746 291l0-3 0 3zM142 292l-4 0 4 0zM174 292l-4 0 4 0zM224 292l-4 0 4 0zM258 292l-2 0 2 0zM386 293l0-2 0 2zM604 294l-2 2 0-4 2 2zM754 294l0-2 0 2zM184 294l-2 0 2 0zM232 294l-1 0 1 0zM324 294l2 0-2 0zM680 295l-2 1-1-2 3-1 0 2zM712 296l-1-2 3-1 0 3-2 0zM734 298l0-4 2 2-2 2zM294 296l-3 0 3 0zM344 296l-1 0 1 0zM410 298l0-2 0 2zM590 298l-3 0 3-3 0 3zM638 298l-2 0 1-2 3 0-2 2zM54 299l-2-1 2 1zM270 299l-4-1 2-1 2 2zM362 299l-1-1 1 1zM396 299l0-2 0 2zM522 298l-2 0 2 0zM652 301l0-3 2-1-2 4zM16 300l2 0-2 0zM306 300l-2 0 4 0-2 0zM360 300l-2 0 2-2 1 2-1 0zM626 302l-3 0 0-2 3-1 0 3zM666 302l-2-2 3 0-1 2zM690 303l-2-1 2-3 0 4zM724 304l0-4 0 4zM748 303l-3-1 3-2 0 3zM206 302l-3 0 5 0-2 0zM284 304l-4 0 0-2 4 2zM550 302l-3 0 3 0zM702 303l0-2 0 2zM142 304l-6 0 6 0zM176 304l-6 0 6 0zM258 308l-2-4 4 2-2 2zM318 304l-2 0 2 0zM374 304l-2 0 2-2 0 2zM612 306l-2-3 3 1-1 2zM188 307l-2-1 2 1zM234 306l-3 0 3 0zM330 306l-4 0 4 0zM596 308l0-2 3 0-3 2zM678 307l-3-1 1-2 2 0 0 3zM712 309l0-4 2 3-2 1zM28 308l-2 0 2 0zM50 312l-4-4 5 2-1 2zM296 310l-3-2 4 0-1 2zM344 308l-3 0 3 0zM530 308l-2 0 2 0zM272 312l-2-3 3 1-1 2zM402 310l0-1 0 1zM634 311l-2-1 2-1 2 1-2 1zM700 314l0-5 2 3-2 2zM736 312l0-4 1 2-1 2zM198 312l-2 0 2 0zM306 314l-2-2 4 0-2 2zM722 315l0-3 0 3zM150 314l-4 0 4 0zM166 316l-4-2 4 2zM212 314l-5 0 7 0-2 0zM414 317l0-4 0 4zM622 315l-2 0 0-2 2-1 0 3zM688 317l0-3 0 3zM136 317l-3-1 5 0-2 1zM250 319l-1-3 1 0 0 3zM286 317l-3-1 1-2 3 2-1 1zM322 316l-5 0 5 0zM426 318l0-3 0 3zM542 316l-3 0 3 0zM608 317l-4-1 4-1 0 2zM678 318l-3 0 1-2 2 2zM746 318l0-2 2-1-2 3zM40 319l-4-1 4 1zM184 318l-1 0 1 0zM236 318l-3 0 1-2 2 2zM264 321l-3-3 2 0 1 3zM336 318l-4 0 4 0zM376 320l2-4 0 4-2 0zM438 319l0-2 0 2zM538 318l-2 0 2 0zM644 318l-2 0 2 0zM712 321l-2-2 3 1-1 1zM390 322l0-2 0 2zM298 325l-2-1 0-3 3 1-1 3zM402 326l-2 2 2-6 0 4zM594 323l2-1-2 1zM124 325l-2-1 3 0-1 1zM152 324l2 0-2 0zM276 324l-3 0 1-2 2 2zM312 327l-3-1 1-2 4 2-2 1zM364 326l-4-2 4 0 0 2zM388 326l0-3 0 3zM448 326l0-2 0 2zM516 326l-2 0 4-2-2 2zM616 326l-1-2 1-1 0 3zM662 324l-3 0 3 0zM700 326l-3-2 3 0 0 2zM146 326l-2 0 2 0zM228 328l-4-2 4 0 0 2zM548 327l-2 1-1-2 3-1 0 2zM724 328l-2 1-1-3 3 0 0 2zM738 328l-2-2 2 0 0 2zM164 330l0-2 4 0-4 2zM242 329l-2-2 2-1 0 3zM286 329l-2-1 2 1zM326 328l-3 0 3 0zM436 330l0-4 0 4zM472 330l-2 1 2-3 0 2zM602 332l0-2 3-2-3 4zM0 330l0-1 0 1zM38 330l-3 0 1-2 2 2zM136 330l-3 0 3 0zM180 330l-2-1 3 1-1 0zM256 331l-3-1 5 0-2 1zM340 330l-3 0 3 0zM374 333l-2-3 2-1 0 4zM412 332l0-3 0 3zM626 333l0-4 0 4zM640 333l-2-1 4-2-2 3zM684 330l2 0-2 0zM266 332l-2 0 2 0zM534 332l-3 0 3 0zM710 333l-1-1 1 1zM12 335l2-1-2 1zM26 337l-1-1 1-2 2 2-2 1zM386 337l-2-1 2-3 0 4zM506 337l-1-3 3-1-2 4zM54 336l-2 0 2 0zM152 336l-2 0 2 0zM196 336l-2 0 2 0zM278 337l-3-1 3 1zM292 339l0-3 2 2-2 1zM306 339l-2-1 0-3 3 1-1 3zM458 340l0-5 0 5zM614 337l-1-1 1 1zM732 340l-2-4 2 4zM744 339l0-3 1 2-1 1zM126 340l-4-2 4 0 0 2zM320 340l-4 0 2-2 2 2zM362 339l-1-1 1 1zM422 341l0-5 0 5zM482 342l-1-2 1-4 2 4-2 2zM494 340l0-4 0 4zM612 338l0-1 0 1zM754 341l0-4 0 4zM172 340l-3 0 3 0zM246 340l-2 0 2 0zM334 340l-4 0 4 0zM470 343l0-4 0 4zM646 343l-2-1 2-2 3 0-3 3zM678 340l-2 0 2 0zM4 345l-2-5 2 1 0 4zM38 343l-3-1 3 1zM140 342l-2 0 2 0zM258 342l-3 0 3 0zM434 347l0-6 0 6zM542 342l-3 0 3-1 0 1zM632 343l-2-1 2-1 0 2zM18 346l-2-2 2 0 0 2zM94 346l-1-2 1 2zM270 346l-4-2 4 0 0 2zM376 344l-4 0 4 0zM516 346l0-2 0 2zM530 347l-2 0 0-2 4-1-2 3zM46 346l2 0-2 0zM284 349l-2-3 3 0-1 3zM448 348l-2-2 2 0 0 2zM504 350l0-4 2 2-2 2zM48 348l0-2 0 2zM198 348l-5 0 5 0zM300 350l-4 0 2-2 2 2zM386 349l-2-1 2-2 2 2-2 1zM398 350l0-2 0 2zM422 349l0-2 0 2zM736 349l0-2 0 2zM118 350l-2 1 0-3 2 2zM130 352l1-2-1 2zM312 352l-3-2 3 0 0 2zM328 350l-3 0 3 0zM492 352l-3 0 1-2 2-1 0 3zM552 350l-3 0 3 0zM654 352l-2 0 5-2-3 2zM668 350l-1 0 1 0zM750 351l0-2 0 2zM754 352l0-3 0 3zM102 355l0-3 2 2-2 1zM172 352l-4 0 4 0zM246 352l-2 0 4 0-2 0zM480 354l-5-2 4 0 1 2zM640 353l-2-1 2-1 0 2zM10 355l0-2 0 2zM260 354l-3 0 3 0zM410 358l0-5 0 5zM538 357l-2-1 1-2 4 0-3 3zM628 356l-3 0 3-2 0 2zM754 354l0-1 0 1zM38 356l2 0-2 0zM376 357l-4-1 4 1zM138 362l2-4-2 4zM278 358l-3 0 3 0zM398 361l0-3 2 2-2 1zM442 360l0-2 0 2zM454 362l0-4 0 4zM512 360l2-4 0 3-2 1zM526 361l-2-1 2-3 0 4zM76 361l0-3 0 3zM198 360l-5 0 5 0zM216 360l-9 0 9 0zM226 360l-3 0 5 0-2 0zM290 360l-2 0 2 0zM388 361l-3-1 3-1 0 2zM500 363l-2-3 2-2 2 2-2 3zM662 364l-2-2 2-2 0 4zM688 361l0-1 0 1zM26 362l-2 0 2 0zM66 366l-4-4 4 1 0 3zM126 366l-2-2 2-4 0 6zM304 362l-3 0 3 0zM332 362l-3 0 3 0zM356 362l-2 0 2 0zM650 365l-2-1 2-2 2 2-2 1zM676 366l-2-2 0-2 3 2-1 2zM690 363l0-2 0 2zM754 364l0-2 0 2zM2 366l0-3 0 3zM102 368l-2-4 2 0 0 4zM172 365l-4-1 4-1 0 2zM474 364l-2 0 2 0zM488 365l-4-1 4-1 0 2zM548 365l-2 1 0-2 3 0-1 1zM638 364l-4 0 4 0zM150 367l-2-1 2-1 0 2zM256 366l-3 0 5 0-2 0zM16 371l-3-3 3 1 0 2zM148 369l0-3 0 3zM186 371l-3-3 5 2-2 1zM270 368l-3 0 3 0zM410 371l-2-1 2-3 1 3-1 1zM534 371l-2-1 1-2 3 0-2 3zM282 370l-5 0 5 0zM424 372l-2 1 0-4 2 3zM510 370l-2 0 2-2 0 2zM78 374l0-3 2 1-2 2zM136 375l0-5 2 4-2 1zM160 376l0-5 2 1-2 4zM196 372l-2 0 4 0-2 0zM208 372l-5 0 7 0-2 0zM220 372l-5 0 7 0-2 0zM232 374l-3-2 4 0-1 2zM398 372l-4 0 4 0zM496 375l-2-1 2-3 0 4zM522 373l-2-1 2 1zM596 374l-2 0 3-2-1 2zM682 373l0-2 0 2zM698 374l0-2 0 2zM80 376l-2-2 2-2 0 4zM302 374l-3 0 3 0zM334 375l-4-1 4 1zM436 375l0-2 0 2zM520 376l0-4 2 2-2 2zM644 374l-4 0 4 0zM684 375l-2-1 2-1 0 2zM748 375l0-3 0 3zM124 378l-2-2 2 0 0 2zM174 377l-2-2 2-1 0 3zM248 376l-5 0 5 0zM306 376l-2 0 2 0zM482 378l-2-2 4 0-2 2zM608 379l-2-1 4-2-2 3zM658 379l-2 1-1-4 2 0 1 3zM670 378l-1-2 1-1 0 3zM8 380l-2 0 0-3 2 3zM68 379l-2-1 2 0 0 1zM106 380l-2-4 2 4zM260 378l-5 0 5 0zM366 378l-1 0 1 0zM542 380l0-2 4 0-4 2zM92 381l0-2 0 2zM270 380l-2 0 4 0-2 0zM374 380l-2 0 2 0zM454 382l-2-3 3 1-1 2zM506 382l-2 0 2-3 0 3zM620 383l0-3 0 3zM738 382l0-2 0 2zM146 383l0-2 0 2zM186 383l-4-1 5 0-1 1zM286 382l-7 0 7 0zM404 382l-3 0 3 0zM416 383l-3-1 1-2 2 3zM430 385l-4-1 2-2 2 3zM530 385l-2-1 2-3 2 1-2 3zM690 386l0-4 0 4zM714 383l0-2 0 2zM200 384l-5 0 5 0zM212 384l-7 0 7 0zM226 384l-6 0 6 0zM328 384l-2 0 2 0zM344 384l-3 0 3 0zM492 387l-3-1 1-2 3 0-1 3zM632 385l0-2 0 2zM20 388l-2-4 2 4zM158 391l0-5 0 5zM172 388l-3-2 3 2zM238 386l-4 0 2-2 2 2zM444 389l-2-1 0-3 2 4zM466 388l-3-2 4 0-1 2zM516 390l-2-2 2-3 2 3-2 2zM596 388l-2-2 2-2 2 2-2 2zM644 388l0-3 2 1-2 2zM678 389l0-4 0 4zM754 388l0-3 0 3zM134 391l-2-3 2-2 0 5zM250 390l-3-2 3 0 2 2-2 0zM358 388l-3 0 3 0zM480 390l-2 1-2-3 3 0 1 2zM552 388l-2 0 2 0zM576 388l-2 1 2-1zM666 392l0-4 0 4zM752 392l0-5 0 5zM100 391l-2-1 2 1zM262 391l-3-1 4 0-1 1zM608 393l-2-3 2-1 0 4zM740 394l0-5 0 5zM10 396l-2-2 0-3 3 3-1 2zM122 393l0-2 0 2zM502 395l-2-1 2-3 2 1-2 3zM538 394l-1-2 4 0-3 2zM656 396l-2-2 0-3 2 5zM668 396l0-4 0 4zM704 394l0-3 0 3zM716 394l0-4 0 4zM182 394l-3 0 4 0-1 0zM276 394l-3 0 3 0zM288 395l-5-1 5-1 0 2zM384 394l-2 0 3 0-1 0zM422 394l-3 0 3 0zM456 396l-3-2 1-1 3 1-1 2zM586 396l-2 0 2-3 0 3zM620 397l0-3 0 3zM692 401l0-7 0 7zM194 396l-3 0 5 0-2 0zM208 396l-7 0 7 0zM216 396l-4 0 4 0zM228 396l-4 0 4 0zM434 397l-2-1 4 0-2 1zM526 399l-3-1 1-2 3 0-1 3zM170 402l-4-2 2-2 2 2 0 2zM240 400l-4-2 4 0 0 2zM348 398l-2 0 2 0zM470 401l-3-1 0-2 5 2-2 1zM490 400l-3-2 1-2 3 2-1 2zM598 401l-2-1 0-2 3 0-1 3zM680 404l0-6 0 6zM156 405l0-5 0 5zM302 400l-2 0 2 0zM512 402l-1-2 3 0-2 2zM576 403l-3-1 3-2 0 3zM644 401l0-2 0 2zM730 402l0-3 0 3zM742 400l0-2 0 2zM130 404l0-2 0 2zM254 403l-4-1 5 0-1 1zM446 404l-3-2 1-2 3 2-1 2zM548 402l-2 0 2 0zM610 405l-2-1 0-2 3 0-1 3zM646 405l-2-3 2-1 0 4zM268 404l-5 0 5 0zM294 404l-3 0 3 0zM376 404l-3 0 3 0zM704 406l0-3 0 3zM184 406l-4 0 6 0-2 0zM280 406l-4 0 4 0zM402 406l-7 0 7 0zM458 409l-3-1 1-2 2 0 0 3zM500 408l-3 0 1-2 3 0-1 2zM536 406l-3 0 3-1 0 1zM588 409l-2 1 0-4 2 0 0 3zM636 410l-2-5 2 5zM210 408l-16 0 16 0zM220 408l-6 0 6 0zM338 408l-4 0 4 0zM484 410l-3-2 1-1 3 1-1 2zM562 410l-2 0 5-2-3 2zM622 410l0-4 0 4zM670 409l-2 0 0-2 2 2zM86 414l-2-4 2 4zM350 410l-3 0 3 0zM436 410l-2 0 2 0zM524 412l-2 0 0-2 3 0-1 2zM600 413l-2-3 3 0-1 3zM162 413l-2-1 2 1zM304 413l-2-1 2 1zM468 414l-1-2 3-1 0 3-2 0zM658 415l0-4 0 4zM148 416l0-3 0 3zM510 414l-2 0 2 0zM576 416l-3-2 3-1 2 1-2 2zM612 417l-2-3 2-1 0 4zM680 418l0-5 0 5zM748 415l0-1 0 1zM18 418l0-3 0 3zM100 419l-3-3 1-1 2 4zM292 416l-5 0 5 0zM318 416l-2 0 2 0zM378 416l-5 0 7 0-2 0zM446 417l-2-1 3 0-1 1zM542 416l-2 0 2 0zM646 419l-2-3 2-1 2 3-2 1zM714 421l-2-5 2 0 0 5zM724 417l0-2 0 2zM754 416l0-2 0 2zM136 418l0-1 0 1zM188 418l-3 0 3 0zM274 419l-2-1 2 1zM404 418l-4 0 4 0zM426 418l-3 0 3 0zM490 422l2-4 1 2-3 2zM750 420l0-2 0 2zM8 424l-3-4 1-2 2 6zM124 422l0-2 0 2zM200 420l-4 0 6 0-2 0zM220 420l-12 0 12 0zM338 420l-3 0 3 0zM458 422l-3-2 3 0 0 2zM480 421l-2 1 0-4 2 3zM590 422l-2-2 2-1 2 1-2 2zM670 422l-2 2 0-5 2 3zM726 422l0-2 0 2zM738 422l0-2 0 2zM32 424l-2-4 3 2-1 2zM350 422l-2 0 2 0zM516 426l-1-2 3-2-2 4zM566 423l-4-1 4-1 0 2zM636 423l-2-2 2 2zM90 425l0-2 0 2zM156 425l1-1-1 1zM240 424l-2 0 2 0zM554 424l-3 0 3 0zM606 429l-3-3 0-2 3 2 0 3zM620 425l-2-2 3 1-1 1zM692 428l0-5 0 5zM170 427l-2-1 4 0-2 1zM368 426l-3 0 3 0zM416 428l-3-2 3 0 1 2-1 0zM468 428l-2-2 2-1 0 3zM502 430l0-5 0 5zM580 429l-2-1 0-3 3 1-1 3zM658 429l-2-1 0-3 2 1 0 3zM294 428l2 0-2 0zM318 428l-2 0 4 0-2 0zM388 428l-2 0 4 0-2 0zM444 428l-2 0 2 0zM542 430l-3 0 4-2-1 2zM704 429l0-2 0 2zM716 430l0-3 0 3zM190 430l-2 0 2 0zM328 430l-2 0 2 0zM402 431l-3-1 3 1zM424 431l-2-1 2 1zM644 431l2-1-2 1zM682 435l-2-6 2 6zM754 431l0-3 0 3zM24 434l0-3 0 3zM38 434l0-3 0 3zM102 434l-2-3 2 0 0 3zM220 432l-5 0 5 0zM340 432l-4 0 4 0zM454 433l-3-1 3 1zM478 436l-2-2 4-2-2 4zM594 436l-2-4 3 0-1 4zM632 434l-4-2 4 2zM646 433l0-3 0 3zM232 434l-3 0 3 0zM350 434l2 0-2 0zM490 435l0-3 0 3zM524 438l0-4 0 4zM560 434l-3 0 3 0zM670 437l-2-1 0-3 2 4zM164 438l-3-2 3 0 0 2zM308 438l-4 0 0-2 4 2zM464 439l-2-1 2-2 0 3zM512 439l0-4 0 4zM570 437l-2-1 2-1 0 2zM618 439l-2-1 0-3 2 1 0 3zM706 436l0-1 0 1zM246 439l-3-1 4 0-1 1zM264 440l-5-2 3 0 2 2zM366 438l2 0-2 0zM414 439l-3-1 3 0 0 1zM582 443l0-6 0 6zM14 441l0-2 0 2zM50 441l0-2 0 2zM186 442l-5-2 5 2zM292 440l-2 0 2-1 0 1zM320 440l-3 0 3 0zM500 444l0-4 0 4zM536 443l-2 0 0-3 2-1 0 4zM548 442l-1-2 1-2 0 4zM606 445l-2-5 2-1 0 6zM200 444l-3-2 3 0 0 2zM424 445l-3-3 4 2-1 1zM448 444l-4-2 4 0 0 2zM488 444l-2 2-1-2 3-2 0 2zM746 444l0-2 0 2zM754 442l0-1 0 1zM16 446l0-2 0 2zM40 446l0-2 0 2zM214 444l-3 0 4 0-1 0zM338 444l-2 0 2 0zM594 449l0-5 0 5zM734 445l0-2 0 2zM4 449l0-3 0 3zM230 446l-4 0 4 0zM472 448l-1-2 3-1 0 3-2 0zM560 449l-3-1 1-3 2 1 0 3zM628 447l0-2 2 1-2 1zM662 448l-2-2 3 0-1 2zM254 448l2 0-2 0zM302 450l-3-2 3 0 0 2zM460 451l-3-1 1-2 2 0 0 3zM524 451l-2 1-1-2 1-3 2 4zM572 452l0-4 0 4zM630 449l0-3 0 3zM698 450l0-2 0 2zM178 454l-3-4 3 1 0 3zM242 452l-2-3 3 1-1 2zM286 450l-2 0 2 0zM312 450l-2 0 2 0zM368 450l-4 0 4 0zM434 453l-2-3 2-1 2 1-2 3zM510 453l0-4 0 4zM618 453l-2-3 2 0 0 3zM736 451l0-2 0 2zM192 456l-2-4 4 2-2 2zM394 453l-4-1 4 0 0 1zM412 453l0-2 2 1-2 1zM496 455l0-4 0 4zM584 456l0-5 0 5zM724 453l0-2 0 2zM206 456l-3-2 4 0-1 2zM268 454l-3 0 3 0zM446 458l-2-2 2-2 2 2-2 2zM484 457l-4-1 2-2 2 3zM534 455l-2-1 2-1 2 1-2 1zM712 456l0-3 0 3zM220 457l-4-1 2-1 2 2zM338 456l-3 0 3 0zM424 458l-3-2 3 0 0 2zM674 458l-3-2 3-2 2 2-2 2zM688 458l-2-2 2-1 0 3zM754 462l0-7 0 7zM232 460l-3-2 3-1 0 3zM278 460l-2-2 2 0 0 2zM292 459l0-2 0 2zM468 460l-1-2 3 0-2 2zM562 462l0-4 0 4zM608 461l0-5 0 5zM738 462l0-4 0 4zM750 464l0-8 0 8zM256 461l-3-1 1-2 2 3zM360 460l-3 0 3 0zM402 462l0-3 2 1-2 2zM516 460l-2 0 2 0zM168 462l0-2 0 2zM310 462l-6 0 6 0zM372 463l-3-1 3 1zM386 463l-3-1 3 1zM456 465l0-3 2 0-2 3zM502 465l0-4 0 4zM574 468l0-6 0 6zM82 467l-2-4 2 4zM184 466l0-3 0 3zM198 468l-2-4 2 0 0 4zM244 465l-2-1 2 1zM436 465l-3-1 3-2 0 3zM526 466l-2-2 2-1 2 1-2 2zM540 467l-3-1 1-2 3 0-1 3zM646 468l-2-5 2 1 0 4zM210 469l-2-3 2-1 2 1-2 3zM270 468l-5-2 5 0 0 2zM328 466l-4 0 4 0zM414 469l-2-3 2-2 2 2-2 3zM490 468l-2-2 2-2 2 2-2 2zM632 468l0-2 0 2zM680 469l0-4 2 3-2 1zM16 473l0-5 2 2-2 3zM224 470l-2 0 0-3 3 1-1 2zM340 468l-5 0 5 0zM478 470l-2-2 2-2 0 4zM618 470l0-3 0 3zM658 471l0-4 0 4zM670 470l-2-2 3 0-1 2zM692 472l0-5 0 5zM288 470l-2 0 0-2 2 2zM352 472l-3-2 4 0-1 2zM426 472l0-2 0 2zM448 470l-2 0 2 0zM562 473l0-3 0 3zM620 472l-1-2 1-1 0 3zM236 473l-2-2 2 2zM254 472l-4 0 4 0zM366 475l-3-1 0-2 3 0 0 3zM380 474l-4 0 1-2 3 0 0 2zM464 474l-1-2 3-1-2 3zM512 473l-2-1 2 1zM608 477l0-5 0 5zM30 475l0-2 0 2zM392 474l-2 0 2-2 0 2zM404 477l-2-3 2-2 2 2-2 3zM520 476l-2-2 3 0-1 2zM6 481l0-5 0 5zM72 478l0-2 0 2zM176 477l0-2 0 2zM202 479l0-3 0 3zM318 476l-3 0 3 0zM500 479l-2-3 2-1 0 4zM532 479l-1-3 1-1 2 1-2 3zM546 477l0-2 0 2zM596 480l0-4 0 4zM704 481l-2-1 0-4 2 0 0 5zM716 476l0-2 0 2zM190 479l0-2 0 2zM216 482l-2-4 2 0 0 4zM266 481l-2-4 3 1-1 3zM332 480l-6-2 6 2zM488 481l-2-3 2-1 0 4zM572 479l0-2 0 2zM652 482l-2-4 2 4zM230 484l-3-4 3 4zM242 483l-2-3 2-1 0 4zM416 481l1-1-1 1zM476 483l-2-1 0-3 2 1 0 3zM666 483l-2-1 0-3 2 4zM678 483l-2-3 2-2 0 5zM690 481l0-3 0 3zM254 485l0-3 0 3zM294 482l-7 0 7 0zM344 483l-3-1 1-2 2 3zM358 486l-3-2 1-2 4 2-2 2zM738 490l0-8 0 8zM750 489l0-9 0 9zM754 486l0-5 0 5zM98 488l-2-2 0-3 2 1 0 4zM110 486l0-3 0 3zM180 486l0-2 0 2zM372 486l-2 1 0-4 3 1-1 2zM384 487l-2-1 2-2 0 3zM512 487l-2-1 0-3 3 1-1 3zM308 486l-2 0 2 0zM396 488l0-4 0 4zM462 491l-1-3 3-3-2 6zM524 488l0-3 0 3zM726 491l0-7 0 7zM86 492l-2-5 3 3-1 2zM182 489l0-1 0 1zM276 491l-4-1 2-2 2 1 0 2zM408 490l0-2 0 2zM498 490l0-3 2 1-2 2zM604 492l0-4 2 0-2 4zM618 493l0-6 0 6zM642 489l0-2 0 2zM208 492l0-3 0 3zM220 491l0-1 0 1zM262 493l-2-3 2 0 0 3zM322 490l2 0-2 0zM486 493l0-4 0 4zM592 492l0-3 0 3zM630 491l0-2 0 2zM672 494l-2-4 2 4zM714 491l0-2 0 2zM74 494l0-3 0 3zM222 494l0-2 0 2zM248 496l0-4 2 2-2 2zM474 495l-2-1 2-2 0 3zM658 493l0-1 0 1zM62 495l0-2 0 2zM290 494l-2 0 4 0-2 0zM354 498l-4-4 4 1 0 3zM106 498l-2 0-1-2 3 0 0 2zM172 496l0-1 0 1zM366 498l0-4 2 2-2 2zM380 497l0-3 0 3zM392 497l0-2 0 2zM450 498l-2 0 2-4 0 4zM472 497l0-3 0 3zM118 499l0-3 0 3zM174 499l0-2 0 2zM508 499l-2-2 2 2zM520 500l-2 0 0-3 2 0 0 3zM544 501l-2 1-1-2 3-2 0 3zM94 503l-2-3 2-1 0 4zM270 502l-4 0 2-2 2 2zM282 502l-3 0 1-2 3 0-1 2zM310 500l-4 0 4 0zM496 503l-2 0 0-3 2 0 0 3zM82 505l-2-4 2 1 0 3zM214 503l0-2 0 2zM554 507l2-5-2 5zM598 504l0-3 0 3zM612 505l-2-1 2-3 0 4zM624 505l0-3 2 2-2 1zM692 502l0-1 0 1zM742 504l0-2 0 2zM68 507l-2-4 2 4zM256 506l0-3 0 3zM294 506l0-2 3 0-3 2zM458 508l0-4 2-1-2 5zM482 506l0-4 0 4zM532 507l-2-3 2-1 0 4zM580 506l0-2 0 2zM638 505l0-2 0 2zM706 505l0-2 0 2zM718 504l0-2 0 2zM730 505l0-2 0 2zM54 507l0-2 0 2zM168 510l-4-4 2 0 2 4zM242 507l0-3 0 3zM388 507l0-1 0 1zM110 509l-2-2 2 0 0 2zM362 513l-2-3 2-3 0 6zM374 511l0-4 0 4zM470 510l0-3 0 3zM508 512l0-4 0 4zM386 512l0-3 0 3zM494 513l0-3 0 3zM520 513l0-5 0 5zM720 512l0-2 0 2zM180 514l0-2 0 2zM274 515l-2-3 2-1 2 1-2 3zM288 513l-2 1 0-2 2-2 0 3zM312 512l-2 0 2 0zM336 513l0-1 0 1zM350 514l0-3 0 3zM398 515l0-3 0 3zM544 515l0-3 2 0-2 3zM588 513l1-1-1 1zM74 518l0-4 2 2-2 2zM88 516l-2-3 3 1-1 2zM248 515l0-1 0 1zM262 516l0-3 0 3zM322 514l-2 0 2 0zM338 516l0-3 0 3zM422 517l0-3 0 3zM434 517l0-4 0 4zM604 514l-2 0 2-2 0 2zM618 517l0-3 2 2-2 1zM632 516l0-2 0 2zM60 518l0-4 2 2-2 2zM396 518l0-2 0 2zM746 517l0-2 0 2zM754 517l0-1 0 1zM114 521l0-3 2 2-2 1zM250 518l0-2 0 2zM532 521l0-4 0 4zM574 521l0-3 2-1-2 4zM722 519l0-1 0 1zM34 523l0-3 0 3zM408 524l-3 0 3-4 0 4zM444 524l0-5 0 5zM556 522l-3 0 3-3 0 3zM98 523l-1-1 2 0-1 1zM294 523l0-2 0 2zM370 523l0-2 0 2zM500 524l0-2 0 2zM10 527l0-3 0 3zM22 526l0-3 0 3zM96 525l0-2 0 2zM270 528l-2-2 0-3 2 1 0 4zM282 526l-2 0 0-4 2 0 0 4zM314 524l-4 0 4 0zM344 527l-2-3 2 0 0 3zM358 528l-3 0 1-4 2 4zM382 527l0-4 0 4zM488 528l0-5 0 5zM608 526l0-2 2-1-2 3zM84 529l-2 1-1-2 1-3 2 1 0 3zM256 528l0-2 0 2zM542 529l0-4 2 0-2 4zM642 529l-2-3 2-1 0 4zM700 527l0-2 0 2zM712 527l0-2 0 2zM754 529l0-4 0 4zM58 532l0-5 0 5zM70 531l0-4 0 4zM418 530l0-4 2 2-2 2zM432 531l0-3 0 3zM510 532l0-4 0 4zM566 530l-3 0 3-3 0 3zM754 530l0-2 0 2zM122 530l0-2 0 2zM176 531l0-1 0 1zM302 532l0-3 1 1-1 2zM630 531l0-2 0 2zM108 534l-4-2 2-2 3 2-1 2zM392 534l0-3 0 3zM444 534l0-3 0 3zM690 535l0-3 0 3zM702 534l0-2 0 2zM34 537l0-4 0 4zM46 535l0-2 0 2zM290 538l0-5 1 3-1 2zM390 535l0-2 2 1-2 1zM554 536l-2 1 0-4 2 0 0 3zM618 535l-2-2 2-1 0 3zM666 538l0-6 0 6zM678 536l0-3 0 3zM22 540l0-4 0 4zM94 538l-2-3 2 0 0 3zM278 540l-2-4 2 0 0 4zM312 541l-2-3 2-2 0 5zM348 539l0-4 0 4zM408 536l-2 0 2 0zM654 539l0-4 0 4zM48 540l0-3 0 3zM264 540l0-3 0 3zM324 540l0-2 0 2zM60 540l2 0-2 0zM360 543l-1-3 3 0-2 3zM400 542l-2 0 2-2 0 2zM422 542l-2-2 2-1 0 3zM586 541l0-1 0 1zM606 541l-2-1 2-1 2 1-2 1zM642 542l-2-2 2-1 0 3zM680 541l0-2 0 2zM62 543l0-3 0 3zM82 543l-4-1 4 1zM154 544l-1-2 1 2zM434 546l0-5 0 5zM562 545l-2-1 2-3 0 4zM102 545l-1-1 1 1zM180 544l0-2 0 2zM302 547l-2-1 0-3 2 4zM492 546l0-4 0 4zM504 547l0-4 0 4zM694 544l0-1 0 1zM326 549l0-4 0 4zM338 548l0-3 0 3zM410 549l-2-1 4-2-2 3zM468 553l0-8 0 8zM480 552l0-7 0 7zM528 550l0-4 0 4zM618 549l-3-1 1-2 2 3zM288 551l-2-3 2 0 0 3zM314 552l0-5 0 5zM386 550l0-2 2-1-2 3zM446 551l0-4 0 4zM516 554l0-7 0 7zM550 553l0-5 2 2-2 3zM572 550l0-4 0 4zM596 550l-2 0 2-4 0 4zM14 552l0-2 0 2zM68 550l-1 0 1 0zM352 552l-2 2 0-5 2 3zM672 551l0-2 0 2zM92 553l-2-1 2 1zM144 552l0-2 0 2zM422 554l-3 0 3-3 2 1-2 2zM584 554l0-3 0 3zM648 553l0-2 0 2zM80 555l-4-1 4 0 0 1zM492 560l0-7 0 7zM606 556l-2-2 2-1 2 1-2 2zM686 555l0-2 0 2zM698 556l0-4 2 4-2 0zM304 559l-2-3 2-1 0 4zM338 560l0-5 0 5zM398 556l-2 0 2 0zM434 559l-2-1 2-3 0 4zM504 562l0-7 0 7zM562 559l-2-3 2-2 0 5zM30 559l0-1 0 1zM100 558l2 0-2 0zM360 562l2-5 0 5-2 0zM376 559l0-2 0 2zM6 563l0-3 0 3zM280 563l0-3 0 3zM292 562l0-4 0 4zM480 565l0-6 0 6zM528 565l0-6 0 6zM574 562l0-3 0 3zM664 562l0-2 0 2zM676 563l0-3 0 3zM444 565l2-5 0 4-2 1zM516 569l0-8 0 8zM592 563l-2-1 3 0-1 1zM616 566l-2-5 2 1 0 4zM652 562l0-2 0 2zM688 564l0-2 0 2zM710 565l-1-3 1 0 0 3zM20 567l0-3 0 3zM184 566l-4-4 4 4zM348 568l0-5 2 1-2 4zM424 566l-3 0 3-2 0 2zM468 569l0-6 0 6zM554 567l-2 0 0-4 2 4zM76 566l2 0-2 0zM90 566l-2 0 4 0-2 0zM268 566l0-2 0 2zM540 571l0-6 0 6zM642 568l0-2 0 2zM654 568l0-2 0 2zM750 568l0-3 0 3zM754 570l0-5 0 5zM312 569l0-2 0 2zM336 572l0-4 0 4zM372 570l-2 1 0-3 2-1 0 3zM492 573l-1-1 1-5 0 6zM604 570l0-3 2 1-2 2zM630 569l0-2 0 2zM702 573l-2-5 2 5zM324 573l0-4 0 4zM396 572l0-2 3 0-3 2zM434 573l-2-1 2-2 0 3zM454 573l2-5-2 5zM504 574l0-5 0 5zM568 571l-3-1 1-2 2 3zM582 574l-2-4 2 0 0 4zM606 571l0-3 0 3zM10 573l-2-3 2 3zM114 572l0-2 0 2zM358 577l0-5 2 2-2 3zM528 575l0-4 0 4zM714 573l0-2 0 2zM176 574l-2 0 2 0zM286 574l0-1 0 1zM382 576l0-2 0 2zM478 575l0-3 0 3zM596 577l-3-1 1-3 2 4zM620 576l0-3 0 3zM632 576l0-2 0 2zM644 575l0-2 0 2zM740 575l0-2 0 2zM68 576l1 0-1 0zM222 578l-3-2 1-2 2 4zM246 578l0-2 0 2zM728 576l0-2 0 2zM754 580l-2-5 2 1 0 4zM30 579l0-1 0 1zM44 579l1-1-1 1zM92 581l-4-3 4 1 0 2zM188 578l2 0-2 0zM288 579l0-2 0 2zM312 583l0-6 0 6zM348 581l-3-1 1-3 2 4zM406 581l-2-1 4-2-2 3zM422 580l-1-2 4 0-3 2zM444 579l0-2 0 2zM464 581l0-4 2 1-2 3zM548 579l0-2 0 2zM608 580l0-3 0 3zM46 580l0-2 0 2zM78 580l-2 0 2 0zM106 581l0-1 0 1zM442 580l0-1 0 1zM560 583l0-4 0 4zM572 585l0-5 0 5zM634 583l0-3 0 3zM18 582l0-1 0 1zM108 584l-2-2 2-1 0 3zM120 583l0-2 0 2zM234 583l0-2 0 2zM324 585l0-5 0 5zM336 584l-1-2 1-1 0 3zM368 584l0-4 2 2-2 2zM392 585l0-4 2 1-2 3zM538 586l0-4 0 4zM584 585l0-3 0 3zM622 585l0-3 0 3zM670 583l0-2 0 2zM730 582l0-1 0 1zM60 585l-2-1 2 1zM454 587l-2 1 0-4 2 0 0 3zM486 587l0-5 0 5zM496 585l0-2 0 2zM8 589l-2-3 3 0-1 3zM474 590l0-5 0 5zM586 588l0-3 0 3zM598 590l0-5 0 5zM254 589l0-2 0 2zM278 591l0-4 0 4zM358 590l-3 0 1-3 2 3zM380 590l0-4 2 2-2 2zM430 588l-2 0 2 0zM550 592l0-5 0 5zM648 590l0-2 0 2zM88 593l-4-3 4 0 0 3zM100 592l0-4 1 2-1 2zM184 590l2 0-2 0zM224 591l-2-1 2 1zM266 591l0-3 0 3zM416 590l-4 0 4 0zM54 594l-4-3 4 3zM244 594l-4-2 2-2 2 4zM344 595l-2-3 2-1 0 4zM404 592l-2 0 2 0zM442 595l-2-1 2-2 0 3zM464 595l-2-1 0-3 3 1-1 3zM518 598l0-6 0 6zM562 593l0-3 0 3zM612 595l0-4 2 3-2 1zM662 593l0-2 0 2zM674 593l0-3 0 3zM754 593l-3-1 1-2 2 3zM112 596l0-2 2-1-2 3zM332 598l-2-4 2 0 0 4zM392 596l-2 0 2-2 0 2zM496 596l0-4 0 4zM676 595l0-2 0 2zM754 596l0-2 0-1 0 3zM14 597l0-1 0 1zM318 596l0-2 0 2zM540 600l0-6 0 6zM588 597l0-1 0 1zM614 596l0-2 0 2zM638 597l0-2 0 2zM232 600l-2-2 2 0 0 2zM454 601l-3-1 1-2 2 0 0 3zM576 599l0-3 0 3zM602 602l0-4 0 4zM688 600l0-2 0 2zM258 602l-3 0 1-4 2 4zM270 602l0-4 0 4zM364 601l0-2 0 2zM378 603l0-3 2 0-2 3zM432 600l-4 0 4 0zM552 604l0-5 0 5zM564 603l0-4 0 4zM666 601l0-2 0 2zM284 604l0-3 0 3zM352 605l-2-1 2-3 0 4zM418 602l-5 0 5 0zM474 602l-2 1 0-3 2 2zM484 606l0-4 0 4zM496 608l0-6 0 6zM754 607l0-1 0-2 0 3zM120 606l-5 0 5 0zM244 607l-3-1 3 1zM340 608l-2 0 0-3 3 1-1 2zM444 607l-3-1 1-2 2 3zM462 610l0-4 0 4zM614 609l0-4 1 3-1 1zM678 609l0-3 2 2-2 1zM328 612l-3-2 1-3 2 5zM266 613l-2-3 2 0 0 3zM372 611l0-2 0 2zM680 610l0-2 0 2zM130 613l2-1-2 1zM254 615l-2-3 2 3zM280 618l-3-4 1-2 2 6zM290 615l0-3 0 3zM314 614l0-3 0 3zM360 616l0-5 0 5zM432 612l-3 0 3 0zM564 615l0-3 0 3zM600 614l0-3 0 3zM132 614l0-1 0 1zM384 614l0-1 0 1zM452 617l-2-3 2-1 0 4zM552 617l0-4 0 4zM316 616l0-2 0 2zM348 619l-2-3 2-1 0 4zM382 617l0-2 0 2zM406 616l2 0-2 0zM504 618l0-2 0 2zM540 619l0-3 0 3zM624 620l-2-4 3 2-1 2zM636 616l0-1 0 1zM668 616l0-2 2 2-2 0zM752 617l-1-1 1 1zM120 619l-2-1 2 1zM304 620l0-3 0 3zM394 622l0-4 0 4zM440 620l0-2 0 2zM490 620l0-3 0 3zM516 621l0-4 0 4zM528 621l0-4 0 4zM144 623l-3-3 3 3zM166 620l-2 0 2 0zM336 624l-2-4 2-1 0 5zM370 624l0-4 0 4zM442 621l-2-1 2 1zM466 621l0-2 0 2zM612 622l-2 0 0-3 3 1-1 2zM246 626l-2-5 3 3-1 2zM270 626l-2-2 2-2 0 4zM598 626l0-4 0 4zM734 622l-2 0 2 0zM132 628l-4-2 2-2 2 4zM324 627l-2-4 2 1 0 3zM358 629l0-5 0 5zM416 627l-2-1 2-2 2 2-2 1zM430 627l-2-4 3 1-1 3zM574 625l0-2 0 2zM36 628l-2-2 2 0 2 2-2 0zM294 629l0-4 0 4zM456 629l0-3 0 3zM468 632l0-6 0 6zM480 629l0-4 0 4zM562 628l0-3 0 3zM746 628l-2-2 4 2-2 0zM154 628l-2-1 2 1zM404 631l-2-3 2-2 0 5zM444 630l0-4 0 4zM550 632l0-5 0 5zM634 631l-2-1 0-3 2 4zM22 631l0-2 0 2zM118 632l0-3 2 1-2 2zM282 633l-2-3 2 0 0 3zM346 633l0-5 0 5zM492 633l0-4 0 4zM538 635l0-7 0 7zM620 634l-2-2 2-3 0 5zM24 634l0-3 0 3zM120 632l-2 0 2-1 0 1zM166 634l-4-2 3 0 1 2zM392 634l0-2 0 2zM606 636l0-3 2-1-2 4zM724 632l0-1 0 1zM10 635l0-3 0 3zM46 638l0-4 0 4zM58 635l0-2 0 2zM140 636l-2-2 2-1 2 1-2 2zM332 638l-2-2 2-3 2 3-2 2zM480 641l0-7 0 7zM526 640l0-8 0 8zM738 638l-2-4 3 2-1 2zM12 637l0-2 0 2zM60 637l0-2 0 2zM246 636l-3 0 3 0zM270 638l-2-3 2 0 0 3zM394 638l0-3 0 3zM422 639l-2-1 0-3 3 1-1 3zM572 641l0-5 0 5zM712 637l0-2 0 2zM320 642l-2-4 2 0 0 4zM356 640l0-3 0 3zM408 639l0-2 0 2zM434 641l0-5 0 5zM446 643l0-5 0 5zM34 643l-2-3 2 0 0 3zM152 642l-2-2 2-2 2 2-2 2zM174 643l0-3 2 2-2 1zM228 641l-3-1 3 1zM368 641l0-1 0 1zM382 641l0-2 0 2zM514 646l0-7 0 7zM560 647l0-7 0 7zM630 644l-2 0 0-4 2 1 0 3zM642 643l0-3 0 3zM290 642l0-1 0 1zM2 644l0-2 0 2zM342 646l0-2 0 2zM468 646l0-3 0 3zM548 650l0-6 0 6zM68 647l0-2 0 2zM142 649l0-4 2 3-2 1zM162 649l0-4 0 4zM240 648l-3-2 3 0 0 2zM262 647l0-2 0 2zM278 647l0-2 0 2zM618 649l0-4 0 4zM730 647l0-2 0 2zM744 647l0-2 0 2zM54 650l0-3 0 3zM184 650l-2-3 3 1-1 2zM250 650l0-3 2 3-2 0zM426 650l-2 0 0-3 3 1-1 2zM456 651l0-4 0 4zM502 652l0-6 0 6zM704 648l0-1 0 1zM732 650l0-2 0 2zM746 650l0-2 0 2zM328 653l0-4 2 1-2 3zM388 657l0-7 0 7zM400 651l0-3 0 3zM536 654l0-5 0 5zM42 654l0-2 0 2zM230 655l-3-1 1-3 2 4zM376 657l-2-5 2-1 0 6zM442 653l-4-1 4 0 0 1zM490 657l0-5 0 5zM152 656l-3 0 1-2 3 0-1 2zM174 656l-4 0 0-2 4 2zM524 658l0-5 0 5zM286 657l0-2 0 2zM316 660l0-5 0 5zM512 660l0-4 0 4zM694 658l0-3 0 3zM122 660l0-2 0 2zM136 660l-2-2 2-1 0 3zM242 658l2 0-2 0zM272 659l0-1 0 1zM340 660l0-3 0 3zM466 661l0-4 0 4zM708 662l0-4 0 4zM722 659l0-2 0 2zM244 661l0-3 0 3zM274 661l-1-1 1 1zM352 664l0-5 0 5zM364 665l0-6 0 6zM428 663l-2-1 0-3 3 1-1 3zM454 662l0-2 0 2zM500 664l0-4 0 4zM596 671l0-12 0 12zM752 662l0-3 0 3zM754 661l0-2 0 2zM20 664l0-2 0 2zM584 679l0-17 0 17zM644 665l0-3 0 3zM670 663l0-2 0 2zM160 666l-2 0 0-2 4-1-2 3zM222 665l0-2 0 2zM262 666l0-2 0 2zM294 666l0-3 0 3zM328 668l0-6 0 6zM440 668l0-4 2 0-2 4zM684 667l0-3 0 3zM10 671l-2-5 3 2-1 3zM144 668l-1-2 2 0 1 2-2 0zM248 667l0-1 0 1zM378 669l0-4 0 4zM632 669l-2-1 0-3 3 1-1 3zM128 669l0-2 0 2zM174 671l-3-3 3 0 0 3zM236 670l0-3 0 3zM250 670l-2-2 2-1 0 3zM282 669l0-2 0 2zM306 669l0-2 0 2zM488 675l-2-1 2-6 0 7zM510 673l0-5 0 5zM522 672l0-6 0 6zM534 671l0-4 0 4zM716 672l-2-4 3 2-1 2zM728 670l0-3 0 3zM742 671l0-4 0 4zM130 671l0-2 0 2zM198 671l0-2 0 2zM284 671l-2-1 2-1 1 1-1 1zM416 672l0-3 0 3zM572 673l0-4 0 4zM700 673l-2-1 0-3 2 4zM730 672l-2-2 2-1 0 3zM754 672l0-4 0 4zM186 675l-2-3 2 3zM318 674l-2-4 2 1 0 3zM430 676l-2-1 0-3 2 0 0 4zM618 674l0-2 2 0-2 2zM674 675l0-3 0 3zM274 676l-4-3 4 3zM392 674l0-2 0 2zM452 675l0-2 0 2zM498 678l0-4 0 4zM370 679l-2-4 2 4zM688 678l-3 0 1-2 2 2zM138 681l-3-1 1-3 2 1 0 3zM152 679l-4-1 2-2 2 3zM164 679l-2-3 3 2-1 1zM228 678l0-1 0 1zM258 680l0-3 0 3zM296 680l0-3 1 1-1 2zM596 682l0-5 0 5zM638 680l0-4 2 2-2 2zM662 683l0-6 0 6zM260 681l0-2 0 2zM346 683l0-3 0 3zM382 684l0-5 0 5zM418 686l0-6 0 6zM628 685l0-5 0 5zM710 682l-3 0 1-3 2 3zM720 684l0-4 2 2-2 2zM746 684l0-4 0 4zM754 684l0-2 0-2 0 4zM192 684l0-3 0 3zM284 682l-2 0 3 0-1 0zM310 685l-3-1 1-3 2 1 0 3zM358 683l0-3 0 3zM394 685l0-4 0 4zM734 685l-2-4 2 0 0 4zM322 687l0-5 0 5zM360 686l0-2 0 2zM572 688l0-6 0 6zM650 688l0-5 0 5zM674 687l0-4 2 3-2 1zM698 687l-3-3 3 0 0 3zM430 691l0-6 0 6zM454 690l0-4 0 4zM584 692l0-6 0 6zM618 688l-1-2 1 0 0 2zM160 690l-3 0-1-2 3 0 1 2zM184 692l-3-4 3 2 0 2zM336 690l0-2 0 2zM372 692l0-5 0 5zM606 692l0-4 0 4zM12 692l-2-3 2 3zM146 690l-2 0 0-2 2 2zM256 693l-4-3 4 3zM480 693l0-3 0 3zM560 692l0-3 0 3zM596 693l-2-1 2-2 0 3zM686 693l-3-3 3 0 0 3zM300 695l-3-1 1-3 2 1 0 3zM350 695l0-3 0 3zM662 695l0-4 0 4zM742 694l-2 1-1-3 3 2zM754 695l-2-3 2 2 0 1zM754 695l0-4 0 4zM134 694l1 0-1 0zM170 696l-2-2 2 2zM196 696l0-3 0 3zM286 695l-3-1 3-1 0 2zM312 698l0-4 2 2-2 2zM362 698l0-5 0 5zM384 696l0-3 0 3zM468 697l0-4 0 4zM712 695l-2 1-2-2 4-1 0 2zM728 696l-2 0 0-3 3 1-1 2zM172 697l-1-1 1 1zM326 699l0-3 0 3zM396 702l0-6 0 6zM420 699l0-4 0 4zM444 699l0-4 0 4zM506 697l0-2 0 2zM268 700l-4-2 3 0 1 2zM494 701l0-3 0 3zM650 702l0-4 0 4zM674 700l-3-2 3-1 0 3zM152 701l-4-1 5 0-1 1zM408 706l0-7 0 7zM432 705l0-6 0 6zM456 704l0-5 2 3-2 2zM8 705l-2 0-1-3 3 3zM20 703l0-2 0 2zM206 704l-4-2 4 2zM562 705l0-4 0 4zM588 706l0-4 0 4zM602 706l0-4 0 4zM638 705l0-4 0 4zM686 704l-4 0 0-2 4 2zM748 705l0-3 2 2-2 1zM256 705l-5-1 5 1zM280 707l-2 1-2-2 2-2 2 3zM292 707l-3-1 1-2 2 0 0 3zM372 706l0-3 0 3zM458 704l-1 0 1 0zM722 708l-2-5 2 5zM736 708l-2-2 2-2 2 2-2 2zM58 708l0-3 0 3zM306 708l-2 1-1-3 2 0 1 2zM524 707l0-2 0 2zM662 708l-3-2 3-1 0 3zM696 708l0-2 0 2zM754 708l0-3 0 1 0 2zM60 708l-1 0 1 0zM218 708l0-1 0 1zM318 711l-2-3 2-1 0 4zM384 713l0-7 0 7zM446 711l-2-4 2 1 0 3zM500 711l-2-5 3 2-1 3zM708 710l0-4 2 2-2 2zM724 709l-2-1 2 1zM420 710l0-2 0 2zM612 712l0-2 0 2zM672 711l-2-1 2 1zM28 713l-2-1 2-1 0 2zM72 715l0-4 1 3-1 1zM152 713l-3-1 5 0-2 1zM268 713l-4-1 2-2 2 3zM512 715l0-4 0 4zM676 712l-3 0 3 0zM14 715l0-2 0 2zM434 718l-2-2 2-2 0 4zM460 717l-2-3 2 3zM596 717l0-3 2-1-2 4zM634 718l2-4-2 4zM648 715l0-3 2 2-2 1zM748 716l-2-2 3 0-1 2zM2 719l0-4 0 4zM208 717l-2-1 2 1zM254 717l-3-1 5 0-2 1zM372 719l0-4 0 4zM688 717l-3-1 5 0-2 1zM132 718l-2 0 2 0zM284 718l-3 0 3 0zM296 720l-2-2 2-1 2 1-2 2zM536 718l0-2 0 2zM606 723l2-5-2 5zM704 720l-2 1-2-2 4 1zM166 720l-2 0 2 0zM310 723l-2-3 2-1 0 4zM322 721l0-3 0 3zM348 721l0-2 0 2zM560 722l0-3 0 3zM572 724l0-5 0 5zM736 722l-2-3 3 1-1 2zM754 721l0-2 0 2zM324 724l0-2 0 2zM336 724l0-3 0 3zM398 725l0-3 0 3zM422 724l0-2 0 2zM446 724l-2 0 0-3 3 1-1 2zM502 722l-3 0 5 0-2 0zM152 725l-3-1 3 1zM242 725l-2-1 2 1zM386 726l0-3 0 3zM618 726l0-3 0 3zM8 729l0-3 0 3zM32 728l-2-2 2-1 0 3zM264 726l-2 0 2 0zM468 727l0-2 0 2zM584 727l0-3 0 3zM630 729l-2-1 2-2 0 3zM642 728l-1-2 3-1 0 3-2 0zM680 726l-2 0 2 0zM750 730l-2-4 3 2-1 2zM124 728l1 0-1 0zM374 729l0-3 0 3zM458 731l-2-1 0-3 2 4zM596 731l0-4 1 3-1 1zM658 730l-4 0 0-2 4 2zM692 728l-2 0 2 0zM128 730l2 0-2 0zM290 730l-5 0 3-2 2 2zM302 734l-2-4 2 0 0 4zM314 733l0-3 0 3zM350 730l0-1 0 1zM436 734l-2-1 0-4 2 2 0 3zM714 731l0-2 0 2zM728 732l0-3 0 3zM754 731l0-2 0 2zM138 732l-2 0 2 0zM164 734l-2-3 3 1-1 2zM730 732l-2 0 2 0zM150 736l-2 0-1-2 3 2zM272 734l1 0-1 0zM388 737l0-4 0 4zM400 737l0-4 0 4zM608 736l-1-2 3 0-2 2zM670 735l-3-1 3 1zM94 739l-3-3 4 2-1 1zM328 738l0-2 0 2zM364 739l0-3 0 3zM448 738l-2-4 2 4zM78 739l0-2 0 2zM246 738l-5 0 3-1 2 1zM340 739l0-2 0 2zM352 739l0-2 0 2zM464 738l-2 0 2 0zM590 741l-2-1 2-3 2 1-2 3zM622 738l-2 1 2-1zM648 741l-2-1 0-2 3 0-1 3zM682 739l-2-1 3 0-1 1zM2 742l0-2 0 2zM14 740l0-1 0 1zM122 740l-2 0 2 0zM260 740l-2 0 2-1 0 1zM634 741l0-2 1 1-1 1zM282 744l-2 0 0-2 3 0-1 2zM294 745l-2-3 2-1 0 4zM306 746l0-4 0 4zM414 743l0-2 0 2zM602 745l-3-1 3-2 0 3zM662 744l-2 1-2-3 4 2zM722 743l0-2 0 2zM106 745l1-1-1 1zM144 746l-4-2 4 1 0 1zM158 747l-2-1 0-2 2 0 0 3zM170 746l-2-2 2 0 0 2zM230 746l-3-2 1-2 3 2-1 2zM318 747l0-3 0 3zM378 748l0-4 0 4zM426 747l-1-3 1-2 0 5zM438 748l-2-2 2-2 2 2-2 2zM492 744l-2 0 2 0zM736 748l-2-4 2 4zM330 747l0-2 0 2zM342 748l0-3 0 3zM354 749l0-4 0 4zM390 751l0-6 0 6zM560 747l0-2 0 2zM574 747l0-2 0 2zM614 748l-3 0 3-3 2 1-2 2zM70 749l0-2 0 2zM86 750l-2-3 2 1 0 2zM250 749l-2-1 4 0-2 1zM272 748l-3 0 3 0zM366 748l0-1 0 1zM402 752l0-5 0 5zM672 750l0-3 2 1-2 2zM748 748l0-2 0 2zM10 753l-3-3 3 3zM72 751l0-2 0 2zM98 752l-3-2 3 2zM462 752l-3-2 3 2zM586 751l-2-1 2 1zM626 752l0-3 0 3zM638 754l1-4-1 4zM686 753l-2-1 0-2 3 0-1 3zM120 752l-2 0 2 0zM416 754l-2-2 2 0 0 2zM650 754l0-4 0 4zM180 754l-2 0 2-2 0 2zM286 754l-2 0-1 0 3 0zM450 754l-5 0 3 0 2 0zM142 754l-2 0 2 0zM168 754l-2 0 3 0-1 0zM228 754l-4 0 4 0zM380 754lzM566 754l-2 0 2 0 2 0-2 0zM606 754l-3 0 3 0zM660 754l2 0-2 0zM728 754lzM108 754l-3 0 3 0zM154 754l-2 0 2 0zM198 754lzM344 754lzM432 754l-5 0 7 0-2 0zM620 754l-3 0 3 0zM740 754lzM2 754l-2 0 2 0zM18 754l-2 0-1 0 3 0zM64 754lzM78 754l-1 0 1 0 2 0-2 0zM92 754l-4 0 3 0 1 0zM272 754l-2 0 2 0zM308 754lzM320 754lzM332 754lzM356 754lzM580 754l-3 0 1 0 3 0-1 0zM694 754lzM754 754lzM216 754l-2 0 3 0-1 0zM240 754l-2 0 2 0 2 0-2 0zM394 754l-2 0 2 0zM406 754l-2 0 3 0-1 0zM644 754l2 0-2 0zM682 754l-1 0 1 0zM706 754lzM120 754l-2 0 4 0-2 0zM132 754l-3 0 3 0zM294 754lzM368 754lzM458 754l-2 0 2 0 2 0-2 0zM480 754l-3 0 3 0zM524 754l-3 0 3 0zM718 754lzM28 754l-2 0 2 0zM162 754l-2 0 2 0zM176 754l-2 0 2 0z"/></g>
<g fill="#000" filter="url(#softD)"><circle cx="95.6" cy="95.3" r="0.9"/><circle cx="104.3" cy="22.7" r="0.7"/><circle cx="110.4" cy="25.5" r="0.9"/><circle cx="108.8" cy="61.9" r="1.3"/><circle cx="97.9" cy="54.6" r="0.7"/><circle cx="104.1" cy="72.3" r="0.7"/><circle cx="104.7" cy="77.8" r="1.3"/><circle cx="99.9" cy="97.5" r="0.7"/><circle cx="100.9" cy="63.4" r="0.9"/><circle cx="95.5" cy="97.3" r="1.2"/><circle cx="105.2" cy="54.4" r="0.9"/><circle cx="101.0" cy="96.0" r="0.9"/><circle cx="103.0" cy="25.0" r="1.3"/><circle cx="98.2" cy="53.4" r="1.4"/><circle cx="104.1" cy="82.4" r="1.2"/><circle cx="104.7" cy="82.4" r="1.1"/><circle cx="102.1" cy="30.7" r="1.0"/><circle cx="99.4" cy="95.1" r="1.3"/><circle cx="99.1" cy="59.5" r="1.4"/><circle cx="95.0" cy="117.9" r="0.8"/><circle cx="96.7" cy="89.2" r="1.1"/><circle cx="104.6" cy="60.6" r="1.0"/><circle cx="102.3" cy="19.7" r="1.4"/><circle cx="95.4" cy="100.2" r="0.8"/><circle cx="101.9" cy="96.2" r="0.8"/><circle cx="98.6" cy="102.0" r="1.1"/><circle cx="110.7" cy="46.2" r="0.8"/><circle cx="102.0" cy="98.2" r="0.7"/><circle cx="101.6" cy="17.5" r="1.3"/><circle cx="104.8" cy="103.0" r="1.2"/><circle cx="95.8" cy="102.4" r="1.0"/><circle cx="97.6" cy="76.2" r="1.2"/><circle cx="101.5" cy="88.9" r="0.8"/><circle cx="105.1" cy="42.0" r="0.9"/><circle cx="102.2" cy="79.7" r="1.0"/><circle cx="105.6" cy="61.9" r="1.4"/><circle cx="96.7" cy="63.3" r="1.3"/><circle cx="108.7" cy="41.8" r="1.2"/><circle cx="99.9" cy="77.0" r="0.7"/><circle cx="102.8" cy="22.4" r="1.3"/><circle cx="37.2" cy="112.7" r="1.1"/><circle cx="61.8" cy="120.1" r="1.0"/><circle cx="64.5" cy="124.5" r="1.2"/><circle cx="45.1" cy="103.7" r="1.4"/><circle cx="46.5" cy="114.6" r="0.7"/><circle cx="40.2" cy="118.7" r="0.8"/><circle cx="70.5" cy="118.3" r="1.2"/><circle cx="54.1" cy="122.9" r="0.9"/><circle cx="53.7" cy="119.6" r="1.2"/><circle cx="36.8" cy="110.1" r="0.8"/><circle cx="61.1" cy="124.3" r="0.7"/><circle cx="30.5" cy="113.6" r="1.1"/><circle cx="70.6" cy="134.5" r="1.1"/><circle cx="70.3" cy="130.9" r="1.0"/><circle cx="59.9" cy="123.9" r="1.1"/><circle cx="35.5" cy="116.8" r="1.0"/><circle cx="52.3" cy="108.1" r="1.3"/><circle cx="39.3" cy="112.7" r="0.7"/><circle cx="38.8" cy="113.3" r="1.1"/><circle cx="51.6" cy="116.6" r="1.3"/><circle cx="42.7" cy="113.6" r="1.3"/><circle cx="27.7" cy="107.3" r="1.2"/><circle cx="161.1" cy="47.5" r="1.3"/><circle cx="183.2" cy="76.7" r="0.8"/><circle cx="172.7" cy="62.7" r="0.8"/><circle cx="165.4" cy="56.2" r="1.2"/><circle cx="182.2" cy="77.0" r="0.7"/><circle cx="172.5" cy="57.7" r="1.1"/><circle cx="181.6" cy="69.0" r="0.9"/><circle cx="166.7" cy="55.2" r="1.2"/><circle cx="175.9" cy="61.2" r="0.8"/><circle cx="162.6" cy="64.9" r="1.0"/><circle cx="180.1" cy="68.4" r="0.8"/><circle cx="172.5" cy="64.3" r="0.7"/><circle cx="156.8" cy="41.2" r="1.3"/><circle cx="169.0" cy="53.1" r="0.7"/><circle cx="160.7" cy="50.5" r="0.7"/><circle cx="192.5" cy="76.6" r="1.1"/><circle cx="157.5" cy="49.4" r="1.1"/><circle cx="175.8" cy="54.4" r="1.4"/><circle cx="178.5" cy="67.7" r="1.2"/><circle cx="173.4" cy="62.3" r="0.9"/><circle cx="169.1" cy="60.0" r="0.8"/><circle cx="163.1" cy="57.2" r="0.9"/><circle cx="145.2" cy="88.4" r="0.9"/><circle cx="139.4" cy="84.8" r="1.2"/><circle cx="130.7" cy="72.3" r="0.8"/><circle cx="116.0" cy="62.3" r="0.9"/><circle cx="114.5" cy="51.6" r="0.7"/><circle cx="124.8" cy="64.0" r="1.3"/><circle cx="147.4" cy="100.1" r="0.7"/><circle cx="126.1" cy="68.8" r="1.2"/><circle cx="140.5" cy="92.0" r="0.9"/><circle cx="145.2" cy="100.0" r="0.8"/><circle cx="134.1" cy="88.1" r="0.7"/><circle cx="125.5" cy="58.2" r="1.2"/><circle cx="131.8" cy="87.1" r="1.2"/><circle cx="137.5" cy="84.7" r="0.8"/><circle cx="130.3" cy="65.2" r="0.8"/><circle cx="135.2" cy="88.5" r="1.3"/><circle cx="114.6" cy="61.2" r="1.0"/><circle cx="129.9" cy="65.5" r="0.9"/><circle cx="17.3" cy="38.0" r="1.4"/><circle cx="41.7" cy="56.9" r="1.3"/><circle cx="29.5" cy="50.4" r="0.7"/><circle cx="37.9" cy="54.5" r="1.1"/><circle cx="28.7" cy="47.2" r="0.7"/><circle cx="25.3" cy="41.5" r="0.9"/><circle cx="34.6" cy="58.6" r="0.9"/><circle cx="31.8" cy="45.3" r="1.3"/><circle cx="40.7" cy="56.3" r="1.1"/><circle cx="20.3" cy="42.6" r="1.2"/><circle cx="30.5" cy="50.1" r="0.7"/><circle cx="15.5" cy="40.7" r="1.3"/><circle cx="27.1" cy="45.6" r="1.1"/><circle cx="12.5" cy="34.6" r="0.7"/><circle cx="61.0" cy="176.2" r="1.3"/><circle cx="65.3" cy="179.0" r="1.1"/><circle cx="76.4" cy="178.9" r="1.3"/><circle cx="68.3" cy="180.9" r="1.4"/><circle cx="64.5" cy="180.4" r="0.9"/><circle cx="59.7" cy="174.9" r="0.9"/><circle cx="70.3" cy="184.3" r="0.9"/><circle cx="83.0" cy="185.7" r="1.0"/><circle cx="62.3" cy="173.0" r="0.9"/><circle cx="85.0" cy="180.5" r="1.0"/><circle cx="146.1" cy="8.8" r="1.2"/><circle cx="134.3" cy="3.9" r="1.0"/><circle cx="153.4" cy="3.8" r="1.0"/><circle cx="131.0" cy="-3.6" r="1.0"/><circle cx="136.2" cy="2.9" r="1.2"/><circle cx="145.2" cy="8.0" r="0.7"/><circle cx="152.4" cy="5.2" r="0.7"/><circle cx="137.2" cy="7.4" r="0.9"/><circle cx="133.3" cy="1.1" r="1.3"/><circle cx="170.4" cy="3.8" r="1.0"/></g>
<g filter="url(#bigblur)">
<ellipse cx="105" cy="60" rx="10" ry="45" fill="#000" opacity="0.3"/>
<ellipse cx="52" cy="118" rx="14" ry="10" fill="#000" opacity="0.35"/>
<ellipse cx="180" cy="70" rx="10" ry="14" fill="#000" opacity="0.3"/>
<ellipse cx="80" cy="175" rx="14" ry="8" fill="#000" opacity="0.3"/>
<ellipse cx="8" cy="50" rx="8" ry="40" fill="#fff" opacity="0.25"/>
<ellipse cx="25" cy="170" rx="25" ry="18" fill="#fff" opacity="0.2"/>
</g>
</g>
</svg>
<rect x="380" y="387.4" width="38" height="1.8" fill="#fff"/>
<rect x="457.9" y="267.3" width="9.6" height="94" fill="url(#cbar)" stroke="#444" stroke-width="0.9"/>

<!-- panels e f -->
<svg x="502.5" y="219" width="97.5" height="90.4" viewBox="502.5 219 97.5 90.4">
<rect x="502.5" y="219" width="97.5" height="90.4" fill="#0707ae"/>
<rect x="502.5" y="219" width="97.5" height="90.4" filter="url(#speck)"/>
<g filter="url(#haloA)" opacity="0.6">
<ellipse cx="588" cy="262" rx="26" ry="13" fill="#2a70ff"/>
<path d="M530 264.8 L552 261 L600 254 L600 275 L552 269Z" fill="#2a70ff"/>
<circle cx="574" cy="231.3" r="5" fill="#2a70ff"/>
<circle cx="574" cy="298.5" r="5" fill="#2a70ff"/>
<path d="M556 266 L563 240" stroke="#2a70ff" stroke-width="4"/>
</g>
<g filter="url(#haloB)">
<path d="M534 264.8 L552 262.5 L588 259.5 L600 256.5 L600 272 L588 269.5 L552 267Z" fill="#30e8d0"/>
<ellipse cx="594" cy="264" rx="14" ry="13" fill="#30e8d0"/>
<ellipse cx="574" cy="231.3" rx="4.5" ry="2.8" fill="#40f0a0"/>
<ellipse cx="574" cy="298.5" rx="4.5" ry="2.8" fill="#40f0a0"/>
<path d="M557.3 262 L563.5 240" stroke="#30e8d0" stroke-width="1.8"/>
<circle cx="516.4" cy="264.8" r="1.8" fill="#30c0ff"/>
</g>
<g filter="url(#haloC)">
<path d="M538 264.8 L552 263.8 L588 261.2 L600 259.5 L600 269 L588 268 L552 265.8Z" fill="#f8f020"/>
<ellipse cx="595" cy="264.5" rx="10" ry="9.8" fill="#f8f020"/>
</g>
<path d="M544 264.8 L550.5 264.4 L555.5 259.5 L559 262.6 L588 262.2 L592 262 L592 267.2 L588 267 L559 266.8 L556.5 269.5 L556.3 272.5 L555.6 272.5 L554.8 269.5 L550.5 265.2Z" fill="#c00000"/>
<ellipse cx="595.5" cy="264.5" rx="8.6" ry="8.6" fill="#b80000"/>
<rect x="534" y="264" width="18" height="1.6" fill="#d8c030" opacity="0.8" filter="url(#blur05)"/>
<ellipse cx="574" cy="231.3" rx="2.5" ry="1.3" fill="#d01000"/>
<ellipse cx="574" cy="298.5" rx="2.5" ry="1.3" fill="#d01000"/>
<rect x="502.5" y="274.6" width="97.5" height="6.2" fill="#04069a"/>
<rect x="502.5" y="219" width="97.5" height="0.8" fill="#0a0a80"/>
<text x="512.8" y="231.3" class="b" font-size="16" fill="#fff" stroke="#fff" stroke-width="0.4">e</text>
</svg>

<svg x="502.5" y="312.4" width="97.5" height="90.2" viewBox="502.5 312.4 97.5 90.2">
<rect x="502.5" y="312.4" width="97.5" height="90.2" fill="#0707ae"/>
<rect x="502.5" y="312.4" width="97.5" height="90.2" filter="url(#speck)"/>
<g filter="url(#haloA)" opacity="0.6">
<path d="M562 316 L582 316 L598 350 L550 354Z" fill="#2a70ff"/>
<ellipse cx="588" cy="356" rx="26" ry="13" fill="#2a70ff"/>
<path d="M524 357.5 L552 354 L600 347 L600 368 L552 362Z" fill="#2a70ff"/>
<circle cx="575" cy="326.8" r="5" fill="#2a70ff"/>
<path d="M566 376 L586 376 L584 402 L566 402Z" fill="#2a70ff"/>
</g>
<g filter="url(#haloB)">
<path d="M566 322 L580 322 L592 350 L556 353Z" fill="#30e8d0" opacity="0.25"/>
<path d="M530 357.6 L552 355.5 L588 352.5 L600 349.5 L600 365 L588 362.5 L552 360Z" fill="#30e8d0"/>
<ellipse cx="594" cy="357" rx="14" ry="13" fill="#30e8d0"/>
<ellipse cx="575" cy="326.8" rx="4.5" ry="2.8" fill="#40f0a0"/>
<ellipse cx="574.7" cy="388.6" rx="4.5" ry="2.8" fill="#40f0a0"/>
<path d="M576 384 Q583 390 582 400" stroke="#30e8d0" stroke-width="1.6" fill="none"/>
<circle cx="521.7" cy="357.9" r="2" fill="#60f0c0"/>
</g>
<g filter="url(#haloC)">
<path d="M536 357.6 L552 356.6 L588 353.8 L600 352 L600 362.5 L588 361.2 L552 359Z" fill="#f8f020"/>
<ellipse cx="595" cy="357.5" rx="10.2" ry="10.4" fill="#f8f020"/>
</g>
<path d="M540 357.6 L551 357.1 L555 355.3 L559 355.6 L588 354.6 L592 354.6 L592 360.8 L588 360.6 L559 359.6 L555 360 L551 358.3Z" fill="#c00000"/>
<ellipse cx="595" cy="357.5" rx="8.8" ry="9" fill="#b80000"/>
<rect x="526" y="356.9" width="14" height="1.5" fill="#c8d040" opacity="0.75" filter="url(#blur05)"/>
<ellipse cx="575" cy="326.8" rx="2.5" ry="1.3" fill="#d01000"/>
<ellipse cx="574.7" cy="388.6" rx="2.5" ry="1.3" fill="#d01000"/>
<rect x="502.5" y="367.9" width="97.5" height="5.5" fill="#04069a"/>
<text x="514" y="327.4" class="b" font-size="16" fill="#fff" stroke="#fff" stroke-width="0.4">f</text>
</svg>

<g font-size="4" fill="#111" text-anchor="end">
<text x="501" y="224.5">0.1</text>
<text x="501" y="245">0.05</text>
<text x="501" y="266">0</text>
<text x="501" y="287">-0.05</text>
<text x="501" y="307.5">-0.1</text>
<text x="501" y="317.5">0.1</text>
<text x="501" y="338">0.05</text>
<text x="501" y="359">0</text>
<text x="501" y="380">-0.05</text>
<text x="501" y="400.5">-0.1</text>
</g>
<g font-size="4.2" fill="#111" text-anchor="middle">
<text x="512" y="408.5">-0.2</text>
<text x="533" y="408.5">-0.15</text>
<text x="554" y="408.5">-0.1</text>
<text x="574" y="408.5">-0.05</text>
<text x="595" y="408.5">0</text>
<text x="554" y="414.5">x, A<tspan font-size="2.6" dy="-1.5">-1</tspan></text>
<text transform="translate(491 265) rotate(-90)">y, A<tspan font-size="2.6" dy="-1.5">-1</tspan></text>
<text transform="translate(491 358) rotate(-90)">y, A<tspan font-size="2.6" dy="-1.5">-1</tspan></text>
</g>
</svg>
</body></html>
